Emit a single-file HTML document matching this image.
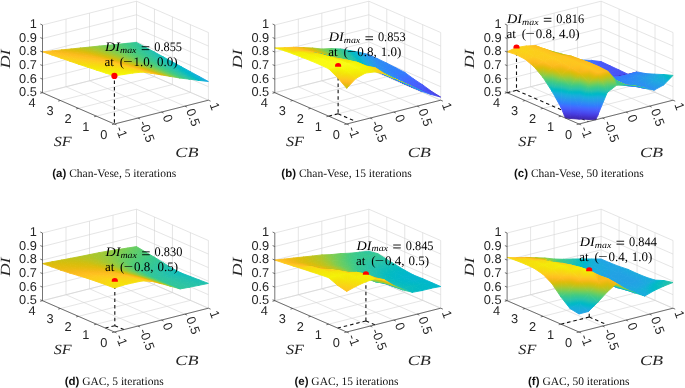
<!DOCTYPE html><html><head><meta charset="utf-8"><style>
body{margin:0;background:#fff}
svg{display:block;will-change:transform;text-rendering:geometricPrecision}
.tk{font-family:'Liberation Sans',sans-serif;font-size:12.8px;fill:#262626}
.lab{font-family:'Liberation Serif',serif;font-style:italic;font-size:14px;fill:#262626}
.an{font-family:'Liberation Serif',serif;font-size:13px;fill:#000}
.ai{font-style:italic}
.as{font-style:italic;font-size:9px}
.cap{font-family:'Liberation Serif',serif;font-size:11.5px;fill:#111}
.capb{font-family:'Liberation Sans',sans-serif;font-weight:bold}
path{stroke-width:0.9;stroke-linejoin:round}
</style></head><body><svg width="685" height="388" viewBox="0 0 685 388"><defs><linearGradient id="P" gradientUnits="userSpaceOnUse"><stop offset="0.0000" stop-color="#3e26a8"/><stop offset="0.0159" stop-color="#402ab4"/><stop offset="0.0317" stop-color="#422ec0"/><stop offset="0.0476" stop-color="#4332cb"/><stop offset="0.0635" stop-color="#4537d5"/><stop offset="0.0794" stop-color="#463cde"/><stop offset="0.0952" stop-color="#4741e5"/><stop offset="0.1111" stop-color="#4747eb"/><stop offset="0.1270" stop-color="#484df0"/><stop offset="0.1429" stop-color="#4852f4"/><stop offset="0.1587" stop-color="#4758f8"/><stop offset="0.1746" stop-color="#465efb"/><stop offset="0.1905" stop-color="#4563fd"/><stop offset="0.2063" stop-color="#4269fe"/><stop offset="0.2222" stop-color="#3e6fff"/><stop offset="0.2381" stop-color="#3875fe"/><stop offset="0.2540" stop-color="#327cfc"/><stop offset="0.2698" stop-color="#2f81fa"/><stop offset="0.2857" stop-color="#2e87f7"/><stop offset="0.3016" stop-color="#2d8cf3"/><stop offset="0.3175" stop-color="#2b91ef"/><stop offset="0.3333" stop-color="#2797eb"/><stop offset="0.3492" stop-color="#259be8"/><stop offset="0.3651" stop-color="#23a0e5"/><stop offset="0.3810" stop-color="#20a5e3"/><stop offset="0.3968" stop-color="#1ca9df"/><stop offset="0.4127" stop-color="#18addb"/><stop offset="0.4286" stop-color="#12b1d6"/><stop offset="0.4444" stop-color="#08b5d0"/><stop offset="0.4603" stop-color="#01b8ca"/><stop offset="0.4762" stop-color="#02bac3"/><stop offset="0.4921" stop-color="#0bbdbc"/><stop offset="0.5079" stop-color="#19bfb4"/><stop offset="0.5238" stop-color="#24c1ab"/><stop offset="0.5397" stop-color="#2cc4a3"/><stop offset="0.5556" stop-color="#31c699"/><stop offset="0.5714" stop-color="#37c890"/><stop offset="0.5873" stop-color="#3fca86"/><stop offset="0.6032" stop-color="#4acb7c"/><stop offset="0.6190" stop-color="#57cc71"/><stop offset="0.6349" stop-color="#64cd66"/><stop offset="0.6508" stop-color="#72cd5a"/><stop offset="0.6667" stop-color="#81cc4e"/><stop offset="0.6825" stop-color="#8fcb43"/><stop offset="0.6984" stop-color="#9dc937"/><stop offset="0.7143" stop-color="#abc72c"/><stop offset="0.7302" stop-color="#b9c421"/><stop offset="0.7460" stop-color="#c5c217"/><stop offset="0.7619" stop-color="#d1bf0f"/><stop offset="0.7778" stop-color="#dcbd0b"/><stop offset="0.7937" stop-color="#e6bb0e"/><stop offset="0.8095" stop-color="#f0ba14"/><stop offset="0.8254" stop-color="#f8ba1a"/><stop offset="0.8413" stop-color="#febe1f"/><stop offset="0.8571" stop-color="#fec31f"/><stop offset="0.8730" stop-color="#fdca1e"/><stop offset="0.8889" stop-color="#fbd019"/><stop offset="0.9048" stop-color="#f9d614"/><stop offset="0.9206" stop-color="#f6dc0e"/><stop offset="0.9365" stop-color="#f5e20a"/><stop offset="0.9524" stop-color="#f4e908"/><stop offset="0.9683" stop-color="#f4ef07"/><stop offset="0.9841" stop-color="#f5f505"/><stop offset="1.0000" stop-color="#f9fb15"/></linearGradient><linearGradient id="g0" href="#P" x1="248.47" y1="-50.27" x2="46.93" y2="115.54"/><linearGradient id="g1" href="#P" x1="246.50" y1="-25.37" x2="53.41" y2="102.98"/><linearGradient id="g2" href="#P" x1="206.75" y1="-58.09" x2="69.39" y2="113.34"/><linearGradient id="g3" href="#P" x1="214.00" y1="-37.21" x2="71.20" y2="105.25"/><linearGradient id="g4" href="#P" x1="221.43" y1="-29.76" x2="78.63" y2="112.69"/><linearGradient id="g5" href="#P" x1="224.66" y1="-12.47" x2="82.30" y2="105.30"/><linearGradient id="g6" href="#P" x1="171.56" y1="-54.10" x2="81.67" y2="103.81"/><linearGradient id="g7" href="#P" x1="183.08" y1="-39.00" x2="82.60" y2="99.88"/><linearGradient id="g8" href="#P" x1="192.29" y1="-32.33" x2="91.81" y2="106.54"/><linearGradient id="g9" href="#P" x1="200.02" y1="-18.15" x2="93.81" y2="102.43"/><linearGradient id="ga" href="#P" x1="208.31" y1="-10.84" x2="102.10" y2="109.74"/><linearGradient id="gb" href="#P" x1="140.63" y1="-42.51" x2="87.32" y2="91.68"/><linearGradient id="gc" href="#P" x1="213.34" y1="1.69" x2="105.06" y2="105.68"/><linearGradient id="gd" href="#P" x1="154.40" y1="-31.58" x2="88.50" y2="89.95"/><linearGradient id="ge" href="#P" x1="166.93" y1="-29.22" x2="97.76" y2="97.47"/><linearGradient id="gf" href="#P" x1="176.80" y1="-18.50" x2="99.83" y2="95.86"/><linearGradient id="g10" href="#P" x1="186.46" y1="-12.00" x2="109.49" y2="102.36"/><linearGradient id="g11" href="#P" x1="117.46" y1="-29.49" x2="86.28" y2="81.11"/><linearGradient id="g12" href="#P" x1="193.95" y1="-1.62" x2="112.00" y2="100.54"/><linearGradient id="g13" href="#P" x1="130.70" y1="-22.77" x2="88.79" y2="81.02"/><linearGradient id="g14" href="#P" x1="202.85" y1="5.53" x2="120.91" y2="107.69"/><linearGradient id="g15" href="#P" x1="142.17" y1="-18.71" x2="99.99" y2="85.80"/><linearGradient id="g16" href="#P" x1="208.50" y1="15.09" x2="123.87" y2="105.76"/><linearGradient id="g17" href="#P" x1="153.17" y1="-10.78" x2="102.65" y2="85.58"/><linearGradient id="g18" href="#P" x1="166.67" y1="-10.00" x2="111.64" y2="93.91"/><linearGradient id="g19" href="#P" x1="100.00" y1="-18.29" x2="81.19" y2="73.31"/><linearGradient id="g1a" href="#P" x1="175.41" y1="-1.82" x2="114.53" y2="93.66"/><linearGradient id="g1b" href="#P" x1="111.75" y1="-14.34" x2="85.00" y2="73.92"/><linearGradient id="g1c" href="#P" x1="185.39" y1="4.55" x2="124.52" y2="100.02"/><linearGradient id="g1d" href="#P" x1="123.33" y1="-9.96" x2="96.83" y2="77.17"/><linearGradient id="g1e" href="#P" x1="192.53" y1="12.64" x2="127.54" y2="99.63"/><linearGradient id="g1f" href="#P" x1="134.12" y1="-4.60" x2="100.46" y2="77.81"/><linearGradient id="g20" href="#P" x1="201.32" y1="19.81" x2="137.51" y2="106.43"/><linearGradient id="g21" href="#P" x1="85.74" y1="-9.14" x2="74.08" y2="67.77"/><linearGradient id="g22" href="#P" x1="145.72" y1="-0.70" x2="111.66" y2="82.77"/><linearGradient id="g23" href="#P" x1="207.28" y1="27.65" x2="140.63" y2="105.70"/><linearGradient id="g24" href="#P" x1="155.09" y1="5.49" x2="115.22" y2="83.43"/><linearGradient id="g25" href="#P" x1="96.18" y1="-6.76" x2="78.76" y2="68.55"/><linearGradient id="g26" href="#P" x1="168.99" y1="5.58" x2="124.20" y2="92.15"/><linearGradient id="g27" href="#P" x1="108.09" y1="-3.13" x2="90.80" y2="71.06"/><linearGradient id="g28" href="#P" x1="176.95" y1="12.18" x2="127.70" y2="92.75"/><linearGradient id="g29" href="#P" x1="118.15" y1="0.40" x2="95.30" y2="72.03"/><linearGradient id="g2a" href="#P" x1="186.19" y1="18.96" x2="138.76" y2="98.55"/><linearGradient id="g2b" href="#P" x1="76.75" y1="-10.65" x2="65.02" y2="66.44"/><linearGradient id="g2c" href="#P" x1="129.58" y1="5.39" x2="107.15" y2="75.31"/><linearGradient id="g2d" href="#P" x1="193.19" y1="25.61" x2="142.18" y2="98.97"/><linearGradient id="g2e" href="#P" x1="82.78" y1="-9.74" x2="71.12" y2="67.37"/><linearGradient id="g2f" href="#P" x1="138.87" y1="9.88" x2="111.47" y2="76.44"/><linearGradient id="g30" href="#P" x1="203.00" y1="32.44" x2="151.99" y2="105.79"/><linearGradient id="g31" href="#P" x1="208.97" y1="38.91" x2="155.45" y2="106.12"/><linearGradient id="g32" href="#P" x1="150.58" y1="13.74" x2="122.69" y2="81.51"/><linearGradient id="g33" href="#P" x1="94.82" y1="2.70" x2="83.31" y2="66.57"/><linearGradient id="g34" href="#P" x1="158.91" y1="18.84" x2="126.85" y2="82.73"/><linearGradient id="g35" href="#P" x1="104.16" y1="5.07" x2="88.41" y2="67.57"/><linearGradient id="g36" href="#P" x1="69.03" y1="-14.99" x2="55.68" y2="65.77"/><linearGradient id="g37" href="#P" x1="171.72" y1="19.59" x2="136.74" y2="90.94"/><linearGradient id="g38" href="#P" x1="115.92" y1="9.45" x2="100.44" y2="70.19"/><linearGradient id="g39" href="#P" x1="179.29" y1="25.09" x2="140.67" y2="92.06"/><linearGradient id="g3a" href="#P" x1="73.71" y1="-14.34" x2="62.07" y2="66.78"/><linearGradient id="g3b" href="#P" x1="124.87" y1="12.67" x2="105.37" y2="71.44"/><linearGradient id="g3c" href="#P" x1="189.84" y1="31.18" x2="151.22" y2="98.15"/><linearGradient id="g3d" href="#P" x1="85.97" y1="-9.41" x2="74.24" y2="67.88"/><linearGradient id="g3e" href="#P" x1="196.54" y1="36.79" x2="155.06" y2="99.25"/><linearGradient id="g3f" href="#P" x1="136.20" y1="18.03" x2="117.25" y2="74.81"/><linearGradient id="g40" href="#P" x1="144.54" y1="21.93" x2="122.01" y2="76.27"/><linearGradient id="g41" href="#P" x1="92.00" y1="-8.50" x2="80.35" y2="68.80"/><linearGradient id="g42" href="#P" x1="206.65" y1="43.51" x2="165.17" y2="105.96"/><linearGradient id="g43" href="#P" x1="212.57" y1="49.07" x2="168.96" y2="107.02"/><linearGradient id="g44" href="#P" x1="61.58" y1="-19.70" x2="46.41" y2="64.92"/><linearGradient id="g45" href="#P" x1="155.23" y1="26.95" x2="133.85" y2="80.76"/><linearGradient id="g46" href="#P" x1="103.50" y1="13.02" x2="92.64" y2="66.35"/><linearGradient id="g47" href="#P" x1="66.08" y1="-19.05" x2="52.76" y2="66.00"/><linearGradient id="g48" href="#P" x1="162.97" y1="31.21" x2="138.44" y2="82.32"/><linearGradient id="g49" href="#P" x1="112.04" y1="15.33" x2="98.01" y2="67.54"/><linearGradient id="g4a" href="#P" x1="176.92" y1="31.05" x2="147.88" y2="91.00"/><linearGradient id="g4b" href="#P" x1="78.25" y1="-17.15" x2="64.93" y2="67.91"/><linearGradient id="g4c" href="#P" x1="123.68" y1="20.24" x2="110.05" y2="70.30"/><linearGradient id="g4d" href="#P" x1="184.05" y1="35.82" x2="152.20" y2="92.54"/><linearGradient id="g4e" href="#P" x1="82.77" y1="-16.56" x2="71.32" y2="68.85"/><linearGradient id="g4f" href="#P" x1="131.87" y1="23.20" x2="115.27" y2="71.76"/><linearGradient id="g50" href="#P" x1="194.78" y1="41.85" x2="162.93" y2="98.57"/><linearGradient id="g51" href="#P" x1="201.25" y1="46.76" x2="167.11" y2="100.14"/><linearGradient id="g52" href="#P" x1="142.11" y1="30.23" x2="127.58" y2="74.62"/><linearGradient id="g53" href="#P" x1="95.19" y1="-8.18" x2="83.47" y2="69.31"/><linearGradient id="g54" href="#P" x1="149.84" y1="33.56" x2="132.68" y2="76.28"/><linearGradient id="g55" href="#P" x1="101.22" y1="-7.28" x2="89.57" y2="70.23"/><linearGradient id="g56" href="#P" x1="211.61" y1="53.39" x2="177.47" y2="106.77"/><linearGradient id="g57" href="#P" x1="217.49" y1="58.32" x2="181.56" y2="108.33"/><linearGradient id="g58" href="#P" x1="70.89" y1="-22.10" x2="55.65" y2="67.10"/><linearGradient id="g59" href="#P" x1="161.73" y1="37.36" x2="144.10" y2="81.30"/><linearGradient id="g5a" href="#P" x1="111.95" y1="22.18" x2="101.99" y2="66.85"/><linearGradient id="g5b" href="#P" x1="168.98" y1="41.14" x2="149.02" y2="83.14"/><linearGradient id="g5c" href="#P" x1="75.22" y1="-21.51" x2="62.00" y2="68.12"/><linearGradient id="g5d" href="#P" x1="119.92" y1="24.45" x2="107.55" y2="68.19"/><linearGradient id="g5e" href="#P" x1="182.91" y1="41.12" x2="158.61" y2="91.79"/><linearGradient id="g5f" href="#P" x1="87.40" y1="-19.72" x2="74.18" y2="69.92"/><linearGradient id="g60" href="#P" x1="189.73" y1="45.38" x2="163.22" y2="93.63"/><linearGradient id="g61" href="#P" x1="130.44" y1="31.45" x2="119.88" y2="70.55"/><linearGradient id="g62" href="#P" x1="91.75" y1="-19.19" x2="80.57" y2="70.80"/><linearGradient id="g63" href="#P" x1="138.09" y1="34.06" x2="125.35" y2="72.12"/><linearGradient id="g64" href="#P" x1="200.61" y1="51.36" x2="174.11" y2="99.61"/><linearGradient id="g65" href="#P" x1="206.92" y1="55.78" x2="178.58" y2="101.51"/><linearGradient id="g66" href="#P" x1="149.46" y1="39.60" x2="137.32" y2="75.57"/><linearGradient id="g67" href="#P" x1="104.41" y1="-6.96" x2="92.69" y2="70.73"/><linearGradient id="g68" href="#P" x1="156.72" y1="42.66" x2="142.65" y2="77.41"/><linearGradient id="g69" href="#P" x1="110.44" y1="-6.05" x2="98.79" y2="71.65"/><linearGradient id="g6a" href="#P" x1="168.67" y1="46.53" x2="154.13" y2="82.48"/><linearGradient id="g6b" href="#P" x1="80.13" y1="-24.94" x2="64.91" y2="69.15"/><linearGradient id="g6c" href="#P" x1="175.57" y1="49.98" x2="159.29" y2="84.52"/><linearGradient id="g6d" href="#P" x1="119.29" y1="32.53" x2="111.52" y2="67.41"/><linearGradient id="g6e" href="#P" x1="84.26" y1="-24.43" x2="71.25" y2="70.11"/><linearGradient id="g6f" href="#P" x1="126.81" y1="34.57" x2="117.24" y2="68.82"/><linearGradient id="g70" href="#P" x1="189.47" y1="50.16" x2="169.04" y2="93.11"/><linearGradient id="g71" href="#P" x1="196.06" y1="54.05" x2="173.88" y2="95.17"/><linearGradient id="g72" href="#P" x1="96.46" y1="-22.75" x2="83.45" y2="71.79"/><linearGradient id="g73" href="#P" x1="138.39" y1="39.83" x2="129.33" y2="71.76"/><linearGradient id="g74" href="#P" x1="100.60" y1="-22.28" x2="89.82" y2="72.60"/><linearGradient id="g75" href="#P" x1="145.63" y1="42.32" x2="134.94" y2="73.46"/><linearGradient id="g76" href="#P" x1="157.00" y1="47.98" x2="146.94" y2="77.05"/><linearGradient id="g77" href="#P" x1="111.40" y1="-0.22" x2="102.24" y2="71.22"/><linearGradient id="g78" href="#P" x1="163.93" y1="50.84" x2="152.44" y2="79.02"/><linearGradient id="g79" href="#P" x1="117.73" y1="0.61" x2="108.32" y2="72.01"/><linearGradient id="g7a" href="#P" x1="175.94" y1="54.79" x2="163.99" y2="84.14"/><linearGradient id="g7b" href="#P" x1="89.29" y1="-28.29" x2="74.17" y2="71.07"/><linearGradient id="g7c" href="#P" x1="182.60" y1="58.00" x2="169.33" y2="86.32"/><linearGradient id="g7d" href="#P" x1="127.66" y1="39.98" x2="120.80" y2="68.76"/><linearGradient id="g7e" href="#P" x1="93.19" y1="-27.84" x2="80.50" y2="71.96"/><linearGradient id="g7f" href="#P" x1="134.84" y1="42.00" x2="126.62" y2="70.28"/><linearGradient id="g80" href="#P" x1="102.08" y1="-17.48" x2="93.09" y2="72.38"/><linearGradient id="g81" href="#P" x1="146.37" y1="47.46" x2="138.71" y2="73.39"/><linearGradient id="g82" href="#P" x1="153.32" y1="49.86" x2="144.44" y2="75.20"/><linearGradient id="g83" href="#P" x1="106.78" y1="-17.04" x2="99.38" y2="72.95"/><linearGradient id="g84" href="#P" x1="164.70" y1="55.61" x2="156.47" y2="78.92"/><linearGradient id="g85" href="#P" x1="120.62" y1="1.54" x2="111.44" y2="72.35"/><linearGradient id="g86" href="#P" x1="171.39" y1="58.33" x2="162.10" y2="81.00"/><linearGradient id="g87" href="#P" x1="126.96" y1="2.38" x2="117.52" y2="73.15"/><linearGradient id="g88" href="#P" x1="94.04" y1="-21.60" x2="83.81" y2="71.78"/><linearGradient id="g89" href="#P" x1="135.97" y1="46.90" x2="130.04" y2="70.47"/><linearGradient id="g8a" href="#P" x1="98.61" y1="-21.14" x2="90.06" y2="72.40"/><linearGradient id="g8b" href="#P" x1="142.91" y1="48.89" x2="135.93" y2="72.08"/><linearGradient id="g8c" href="#P" x1="110.86" y1="-20.02" x2="102.31" y2="73.52"/><linearGradient id="g8d" href="#P" x1="154.40" y1="54.52" x2="148.03" y2="75.36"/><linearGradient id="g8e" href="#P" x1="161.12" y1="56.84" x2="153.85" y2="77.26"/><linearGradient id="g8f" href="#P" x1="115.43" y1="-19.62" x2="108.57" y2="74.04"/><linearGradient id="g90" href="#P" x1="129.85" y1="3.33" x2="120.63" y2="73.50"/><linearGradient id="g91" href="#P" x1="136.18" y1="4.18" x2="126.72" y2="74.31"/><linearGradient id="g92" href="#P" x1="102.85" y1="-24.34" x2="93.04" y2="72.94"/><linearGradient id="g93" href="#P" x1="144.27" y1="53.39" x2="139.24" y2="72.46"/><linearGradient id="g94" href="#P" x1="107.27" y1="-23.92" x2="99.26" y2="73.51"/><linearGradient id="g95" href="#P" x1="151.00" y1="55.36" x2="145.18" y2="74.16"/><linearGradient id="g96" href="#P" x1="119.53" y1="-22.92" x2="111.52" y2="74.52"/><linearGradient id="g97" href="#P" x1="123.95" y1="-22.55" x2="117.75" y2="74.97"/><linearGradient id="g98" href="#P" x1="139.07" y1="5.14" x2="129.83" y2="74.69"/><linearGradient id="g99" href="#P" x1="145.41" y1="5.99" x2="135.92" y2="75.51"/><linearGradient id="g9a" href="#P" x1="111.55" y1="-27.45" x2="102.25" y2="73.95"/><linearGradient id="g9b" href="#P" x1="115.81" y1="-27.07" x2="108.44" y2="74.45"/><linearGradient id="g9c" href="#P" x1="128.08" y1="-26.18" x2="120.71" y2="75.34"/><linearGradient id="g9d" href="#P" x1="132.33" y1="-25.85" x2="126.90" y2="75.73"/><linearGradient id="g9e" href="#P" x1="120.12" y1="-30.95" x2="111.44" y2="74.78"/><linearGradient id="g9f" href="#P" x1="124.20" y1="-30.61" x2="117.59" y2="75.23"/><linearGradient id="ga0" href="#P" x1="379.01" y1="41.90" x2="340.64" y2="79.32"/><linearGradient id="ga1" href="#P" x1="381.42" y1="39.47" x2="350.55" y2="95.61"/><linearGradient id="ga2" href="#P" x1="380.32" y1="32.86" x2="325.39" y2="79.01"/><linearGradient id="ga3" href="#P" x1="384.10" y1="37.37" x2="329.18" y2="83.52"/><linearGradient id="ga4" href="#P" x1="412.90" y1="42.57" x2="292.98" y2="98.43"/><linearGradient id="ga5" href="#P" x1="421.10" y1="8.16" x2="284.62" y2="190.10"/><linearGradient id="ga6" href="#P" x1="375.60" y1="27.24" x2="320.67" y2="73.40"/><linearGradient id="ga7" href="#P" x1="379.39" y1="31.75" x2="324.46" y2="77.91"/><linearGradient id="ga8" href="#P" x1="396.85" y1="43.65" x2="316.10" y2="83.61"/><linearGradient id="ga9" href="#P" x1="402.31" y1="42.42" x2="313.66" y2="97.99"/><linearGradient id="gaa" href="#P" x1="479.53" y1="71.92" x2="152.42" y2="50.48"/><linearGradient id="gab" href="#P" x1="571.52" y1="78.74" x2="-79.58" y2="36.05"/><linearGradient id="gac" href="#P" x1="393.49" y1="3.31" x2="299.36" y2="82.40"/><linearGradient id="gad" href="#P" x1="393.41" y1="21.28" x2="304.76" y2="76.85"/><linearGradient id="gae" href="#P" x1="382.24" y1="35.15" x2="327.32" y2="81.31"/><linearGradient id="gaf" href="#P" x1="385.03" y1="44.31" x2="331.80" y2="80.82"/><linearGradient id="gb0" href="#P" x1="404.75" y1="46.32" x2="316.09" y2="101.88"/><linearGradient id="gb1" href="#P" x1="409.65" y1="42.90" x2="315.52" y2="121.99"/><linearGradient id="gb2" href="#P" x1="454.76" y1="141.12" x2="224.03" y2="-119.94"/><linearGradient id="gb3" href="#P" x1="386.69" y1="-22.70" x2="296.10" y2="89.99"/><linearGradient id="gb4" href="#P" x1="428.57" y1="189.90" x2="313.57" y2="-264.28"/><linearGradient id="gb5" href="#P" x1="392.89" y1="2.60" x2="298.76" y2="81.69"/><linearGradient id="gb6" href="#P" x1="376.95" y1="23.07" x2="322.58" y2="81.49"/><linearGradient id="gb7" href="#P" x1="381.31" y1="34.05" x2="326.39" y2="80.20"/><linearGradient id="gb8" href="#P" x1="380.02" y1="48.22" x2="344.86" y2="83.56"/><linearGradient id="gb9" href="#P" x1="384.48" y1="52.66" x2="349.33" y2="88.00"/><linearGradient id="gba" href="#P" x1="398.81" y1="47.65" x2="349.27" y2="120.59"/><linearGradient id="gbb" href="#P" x1="329.90" y1="23.49" x2="313.99" y2="60.03"/><linearGradient id="gbc" href="#P" x1="404.92" y1="55.78" x2="350.56" y2="114.20"/><linearGradient id="gbd" href="#P" x1="337.87" y1="28.73" x2="318.63" y2="61.87"/><linearGradient id="gbe" href="#P" x1="412.56" y1="119.70" x2="366.67" y2="-61.55"/><linearGradient id="gbf" href="#P" x1="368.11" y1="9.28" x2="318.58" y2="82.22"/><linearGradient id="gc0" href="#P" x1="423.94" y1="112.13" x2="350.55" y2="-44.19"/><linearGradient id="gc1" href="#P" x1="375.74" y1="21.94" x2="321.37" y2="80.37"/><linearGradient id="gc2" href="#P" x1="373.15" y1="39.28" x2="339.50" y2="81.15"/><linearGradient id="gc3" href="#P" x1="378.58" y1="46.79" x2="343.42" y2="82.13"/><linearGradient id="gc4" href="#P" x1="378.63" y1="60.24" x2="366.36" y2="82.28"/><linearGradient id="gc5" href="#P" x1="318.11" y1="18.15" x2="306.62" y2="57.43"/><linearGradient id="gc6" href="#P" x1="384.29" y1="63.39" x2="372.03" y2="85.43"/><linearGradient id="gc7" href="#P" x1="327.38" y1="22.39" x2="311.48" y2="58.93"/><linearGradient id="gc8" href="#P" x1="401.09" y1="61.01" x2="370.88" y2="109.93"/><linearGradient id="gc9" href="#P" x1="341.09" y1="30.60" x2="321.85" y2="63.74"/><linearGradient id="gca" href="#P" x1="407.36" y1="68.72" x2="372.21" y2="104.06"/><linearGradient id="gcb" href="#P" x1="346.58" y1="33.79" x2="327.34" y2="66.93"/><linearGradient id="gcc" href="#P" x1="456.35" y1="133.79" x2="225.62" y2="-127.27"/><linearGradient id="gcd" href="#P" x1="364.35" y1="30.14" x2="334.15" y2="79.06"/><linearGradient id="gce" href="#P" x1="454.16" y1="108.95" x2="245.41" y2="-33.68"/><linearGradient id="gcf" href="#P" x1="371.47" y1="37.93" x2="337.82" y2="79.80"/><linearGradient id="gd0" href="#P" x1="309.36" y1="15.59" x2="297.87" y2="54.87"/><linearGradient id="gd1" href="#P" x1="365.71" y1="62.20" x2="362.94" y2="70.21"/><linearGradient id="gd2" href="#P" x1="315.33" y1="17.34" x2="303.83" y2="56.61"/><linearGradient id="gd3" href="#P" x1="372.30" y1="65.04" x2="368.33" y2="72.58"/><linearGradient id="gd4" href="#P" x1="385.19" y1="67.71" x2="378.81" y2="82.36"/><linearGradient id="gd5" href="#P" x1="324.41" y1="32.38" x2="316.45" y2="57.57"/><linearGradient id="gd6" href="#P" x1="391.46" y1="70.87" x2="384.00" y2="84.71"/><linearGradient id="gd7" href="#P" x1="333.59" y1="37.36" x2="321.33" y2="59.40"/><linearGradient id="gd8" href="#P" x1="406.87" y1="72.91" x2="385.37" y2="102.41"/><linearGradient id="gd9" href="#P" x1="412.08" y1="76.71" x2="390.58" y2="106.21"/><linearGradient id="gda" href="#P" x1="340.08" y1="47.39" x2="334.98" y2="62.70"/><linearGradient id="gdb" href="#P" x1="347.61" y1="50.97" x2="340.15" y2="64.81"/><linearGradient id="gdc" href="#P" x1="304.21" y1="-5.31" x2="288.53" y2="55.61"/><linearGradient id="gdd" href="#P" x1="455.54" y1="56.82" x2="243.81" y2="234.73"/><linearGradient id="gde" href="#P" x1="442.78" y1="84.67" x2="321.71" y2="115.21"/><linearGradient id="gdf" href="#P" x1="310.19" y1="-3.77" x2="294.51" y2="57.15"/><linearGradient id="ge0" href="#P" x1="356.16" y1="59.25" x2="354.07" y2="67.36"/><linearGradient id="ge1" href="#P" x1="362.63" y1="61.14" x2="359.86" y2="69.15"/><linearGradient id="ge2" href="#P" x1="310.53" y1="37.60" x2="308.43" y2="53.49"/><linearGradient id="ge3" href="#P" x1="372.90" y1="71.03" x2="373.64" y2="69.00"/><linearGradient id="ge4" href="#P" x1="379.04" y1="73.36" x2="379.81" y2="71.60"/><linearGradient id="ge5" href="#P" x1="319.17" y1="39.51" x2="314.07" y2="54.81"/><linearGradient id="ge6" href="#P" x1="392.99" y1="74.58" x2="389.59" y2="82.39"/><linearGradient id="ge7" href="#P" x1="399.31" y1="77.92" x2="394.86" y2="85.13"/><linearGradient id="ge8" href="#P" x1="327.61" y1="53.93" x2="326.98" y2="56.21"/><linearGradient id="ge9" href="#P" x1="287.77" y1="10.74" x2="280.44" y2="51.40"/><linearGradient id="gea" href="#P" x1="333.89" y1="55.77" x2="333.04" y2="58.17"/><linearGradient id="geb" href="#P" x1="411.65" y1="82.01" x2="405.28" y2="96.66"/><linearGradient id="gec" href="#P" x1="297.67" y1="13.45" x2="286.18" y2="52.73"/><linearGradient id="ged" href="#P" x1="417.77" y1="85.05" x2="410.31" y2="98.89"/><linearGradient id="gee" href="#P" x1="344.39" y1="65.91" x2="345.93" y2="59.53"/><linearGradient id="gef" href="#P" x1="430.78" y1="86.82" x2="414.87" y2="123.36"/><linearGradient id="gf0" href="#P" x1="350.36" y1="67.35" x2="352.20" y2="61.33"/><linearGradient id="gf1" href="#P" x1="300.25" y1="33.37" x2="299.23" y2="53.01"/><linearGradient id="gf2" href="#P" x1="437.04" y1="91.23" x2="414.91" y2="119.29"/><linearGradient id="gf3" href="#P" x1="364.28" y1="65.51" x2="363.65" y2="67.79"/><linearGradient id="gf4" href="#P" x1="307.51" y1="33.82" x2="305.25" y2="53.53"/><linearGradient id="gf5" href="#P" x1="370.52" y1="67.37" x2="369.67" y2="69.77"/><linearGradient id="gf6" href="#P" x1="381.87" y1="74.59" x2="382.63" y2="72.83"/><linearGradient id="gf7" href="#P" x1="318.08" y1="51.73" x2="317.66" y2="53.85"/><linearGradient id="gf8" href="#P" x1="388.03" y1="77.27" x2="388.80" y2="75.51"/><linearGradient id="gf9" href="#P" x1="324.39" y1="53.04" x2="323.76" y2="55.32"/><linearGradient id="gfa" href="#P" x1="400.36" y1="82.64" x2="401.13" y2="80.88"/><linearGradient id="gfb" href="#P" x1="406.53" y1="85.32" x2="407.30" y2="83.56"/><linearGradient id="gfc" href="#P" x1="334.82" y1="63.60" x2="336.36" y2="57.22"/><linearGradient id="gfd" href="#P" x1="300.85" y1="14.39" x2="289.36" y2="53.66"/><linearGradient id="gfe" href="#P" x1="419.88" y1="87.90" x2="416.48" y2="95.71"/><linearGradient id="gff" href="#P" x1="340.98" y1="65.09" x2="342.52" y2="58.71"/><linearGradient id="g100" href="#P" x1="425.88" y1="90.51" x2="422.48" y2="98.32"/><linearGradient id="g101" href="#P" x1="293.49" y1="14.02" x2="296.18" y2="54.39"/><linearGradient id="g102" href="#P" x1="352.64" y1="70.61" x2="355.08" y2="61.11"/><linearGradient id="g103" href="#P" x1="358.54" y1="72.08" x2="361.41" y2="63.01"/><linearGradient id="g104" href="#P" x1="317.30" y1="15.33" x2="307.83" y2="55.40"/><linearGradient id="g105" href="#P" x1="372.42" y1="71.24" x2="373.10" y2="68.93"/><linearGradient id="g106" href="#P" x1="315.01" y1="15.19" x2="314.40" y2="56.21"/><linearGradient id="g107" href="#P" x1="378.52" y1="73.13" x2="379.29" y2="71.37"/><linearGradient id="g108" href="#P" x1="390.85" y1="78.50" x2="391.62" y2="76.74"/><linearGradient id="g109" href="#P" x1="397.02" y1="81.18" x2="397.79" y2="79.42"/><linearGradient id="g10a" href="#P" x1="327.28" y1="53.84" x2="326.65" y2="56.12"/><linearGradient id="g10b" href="#P" x1="333.20" y1="55.45" x2="332.78" y2="57.56"/><linearGradient id="g10c" href="#P" x1="409.23" y1="86.82" x2="410.31" y2="84.24"/><linearGradient id="g10d" href="#P" x1="415.41" y1="89.44" x2="416.50" y2="86.93"/><linearGradient id="g10e" href="#P" x1="335.51" y1="-110.23" x2="298.02" y2="58.50"/><linearGradient id="g10f" href="#P" x1="343.74" y1="65.76" x2="345.28" y2="59.38"/><linearGradient id="g110" href="#P" x1="349.90" y1="67.24" x2="351.44" y2="60.86"/><linearGradient id="g111" href="#P" x1="296.09" y1="-113.48" x2="305.25" y2="59.10"/><linearGradient id="g112" href="#P" x1="361.21" y1="72.92" x2="364.08" y2="63.85"/><linearGradient id="g113" href="#P" x1="367.45" y1="74.90" x2="370.32" y2="65.82"/><linearGradient id="g114" href="#P" x1="336.31" y1="-39.55" x2="316.81" y2="58.50"/><linearGradient id="g115" href="#P" x1="380.46" y1="76.73" x2="382.55" y2="71.09"/><linearGradient id="g116" href="#P" x1="320.46" y1="-40.57" x2="323.50" y2="59.04"/><linearGradient id="g117" href="#P" x1="386.57" y1="78.99" x2="388.85" y2="73.74"/><linearGradient id="g118" href="#P" x1="399.84" y1="82.41" x2="400.61" y2="80.65"/><linearGradient id="g119" href="#P" x1="406.01" y1="85.08" x2="406.77" y2="83.26"/><linearGradient id="g11a" href="#P" x1="340.56" y1="43.88" x2="335.46" y2="59.18"/><linearGradient id="g11b" href="#P" x1="343.80" y1="44.73" x2="341.69" y2="60.62"/><linearGradient id="g11c" href="#P" x1="334.36" y1="-259.80" x2="307.59" y2="61.48"/><linearGradient id="g11d" href="#P" x1="352.66" y1="67.91" x2="354.20" y2="61.53"/><linearGradient id="g11e" href="#P" x1="269.97" y1="-250.50" x2="314.44" y2="61.20"/><linearGradient id="g11f" href="#P" x1="358.57" y1="69.28" x2="360.41" y2="63.25"/><linearGradient id="g120" href="#P" x1="369.77" y1="78.03" x2="373.05" y2="65.94"/><linearGradient id="g121" href="#P" x1="375.30" y1="79.31" x2="379.53" y2="68.18"/><linearGradient id="g122" href="#P" x1="386.05" y1="-198.14" x2="325.77" y2="61.44"/><linearGradient id="g123" href="#P" x1="390.33" y1="77.88" x2="391.09" y2="76.38"/><linearGradient id="g124" href="#P" x1="396.50" y1="80.96" x2="397.27" y2="79.19"/><linearGradient id="g125" href="#P" x1="315.84" y1="-204.41" x2="332.55" y2="62.01"/><linearGradient id="g126" href="#P" x1="362.31" y1="13.76" x2="344.26" y2="62.54"/><linearGradient id="g127" href="#P" x1="348.71" y1="10.96" x2="350.85" y2="63.62"/><linearGradient id="g128" href="#P" x1="364.07" y1="62.53" x2="362.99" y2="65.02"/><linearGradient id="g129" href="#P" x1="369.57" y1="64.80" x2="369.15" y2="66.92"/><linearGradient id="g12a" href="#P" x1="382.88" y1="69.70" x2="381.13" y2="72.26"/><linearGradient id="g12b" href="#P" x1="388.57" y1="73.32" x2="387.26" y2="75.86"/><linearGradient id="g12c" href="#P" x1="469.13" y1="-610.22" x2="335.14" y2="63.42"/><linearGradient id="g12d" href="#P" x1="320.42" y1="-624.60" x2="341.42" y2="63.94"/><linearGradient id="g12e" href="#P" x1="550.21" y1="-205.03" x2="351.96" y2="66.99"/><linearGradient id="g12f" href="#P" x1="506.83" y1="-272.28" x2="357.52" y2="70.69"/><linearGradient id="g130" href="#P" x1="414.89" y1="26.10" x2="369.28" y2="71.43"/><linearGradient id="g131" href="#P" x1="-260.01" y1="802.14" x2="332.56" y2="64.97"/><linearGradient id="g132" href="#P" x1="419.25" y1="33.80" x2="373.44" y2="75.54"/><linearGradient id="g133" href="#P" x1="454.07" y1="383.71" x2="343.63" y2="65.11"/><linearGradient id="g134" href="#P" x1="269.79" y1="414.60" x2="351.08" y2="64.58"/><linearGradient id="g135" href="#P" x1="639.10" y1="336.63" x2="357.30" y2="63.92"/><linearGradient id="g136" href="#P" x1="604.07" y1="217.35" x2="359.99" y2="64.92"/><linearGradient id="g137" href="#P" x1="353.93" y1="164.01" x2="334.08" y2="67.11"/><linearGradient id="g138" href="#P" x1="314.24" y1="161.95" x2="342.20" y2="67.50"/><linearGradient id="g139" href="#P" x1="369.48" y1="186.20" x2="352.59" y2="67.81"/><linearGradient id="g13a" href="#P" x1="334.52" y1="184.92" x2="360.48" y2="68.12"/><linearGradient id="g13b" href="#P" x1="342.54" y1="144.45" x2="344.03" y2="69.44"/><linearGradient id="g13c" href="#P" x1="336.27" y1="142.55" x2="351.84" y2="70.52"/><clipPath id="k1"><rect x="333.12" y="61.00" width="10" height="5.80"/></clipPath><linearGradient id="g13d" href="#P" x1="618.42" y1="56.74" x2="506.36" y2="91.01"/><linearGradient id="g13e" href="#P" x1="628.65" y1="28.45" x2="471.59" y2="259.73"/><linearGradient id="g13f" href="#P" x1="629.08" y1="65.10" x2="463.97" y2="54.28"/><linearGradient id="g140" href="#P" x1="628.96" y1="67.01" x2="463.85" y2="56.18"/><linearGradient id="g141" href="#P" x1="659.82" y1="37.62" x2="324.67" y2="230.79"/><linearGradient id="g142" href="#P" x1="667.49" y1="10.51" x2="300.60" y2="404.79"/><linearGradient id="g143" href="#P" x1="619.87" y1="64.56" x2="487.16" y2="55.86"/><linearGradient id="g144" href="#P" x1="628.94" y1="67.29" x2="463.83" y2="56.47"/><linearGradient id="g145" href="#P" x1="616.14" y1="52.88" x2="522.01" y2="131.97"/><linearGradient id="g146" href="#P" x1="619.42" y1="50.50" x2="528.83" y2="163.19"/><linearGradient id="g147" href="#P" x1="711.37" y1="78.89" x2="60.27" y2="36.20"/><linearGradient id="g148" href="#P" x1="615.65" y1="76.69" x2="492.62" y2="35.02"/><linearGradient id="g149" href="#P" x1="622.97" y1="82.81" x2="478.46" y2="24.85"/><linearGradient id="g14a" href="#P" x1="628.67" y1="71.39" x2="463.56" y2="60.57"/><linearGradient id="g14b" href="#P" x1="665.39" y1="75.26" x2="338.28" y2="53.82"/><linearGradient id="g14c" href="#P" x1="622.70" y1="53.14" x2="532.12" y2="165.84"/><linearGradient id="g14d" href="#P" x1="627.12" y1="56.69" x2="536.53" y2="169.38"/><linearGradient id="g14e" href="#P" x1="576.16" y1="38.92" x2="542.51" y2="80.79"/><linearGradient id="g14f" href="#P" x1="580.36" y1="53.19" x2="546.76" y2="74.25"/><linearGradient id="g150" href="#P" x1="624.68" y1="74.55" x2="625.31" y2="77.57"/><linearGradient id="g151" href="#P" x1="628.65" y1="71.68" x2="463.54" y2="60.86"/><linearGradient id="g152" href="#P" x1="628.52" y1="73.59" x2="463.42" y2="62.76"/><linearGradient id="g153" href="#P" x1="630.75" y1="73.09" x2="631.53" y2="75.70"/><linearGradient id="g154" href="#P" x1="611.36" y1="41.01" x2="545.43" y2="192.46"/><linearGradient id="g155" href="#P" x1="621.58" y1="52.24" x2="530.99" y2="164.93"/><linearGradient id="g156" href="#P" x1="615.39" y1="75.16" x2="615.41" y2="82.87"/><linearGradient id="g157" href="#P" x1="547.80" y1="64.78" x2="552.51" y2="46.49"/><linearGradient id="g158" href="#P" x1="552.43" y1="65.28" x2="560.27" y2="50.38"/><linearGradient id="g159" href="#P" x1="621.17" y1="74.65" x2="622.79" y2="81.03"/><linearGradient id="g15a" href="#P" x1="571.11" y1="61.84" x2="566.66" y2="69.05"/><linearGradient id="g15b" href="#P" x1="577.21" y1="66.26" x2="572.02" y2="72.72"/><linearGradient id="g15c" href="#P" x1="594.03" y1="59.35" x2="569.79" y2="115.04"/><linearGradient id="g15d" href="#P" x1="599.70" y1="61.82" x2="575.46" y2="117.51"/><linearGradient id="g15e" href="#P" x1="626.62" y1="54.80" x2="652.41" y2="124.78"/><linearGradient id="g15f" href="#P" x1="607.38" y1="68.59" x2="601.15" y2="109.46"/><linearGradient id="g160" href="#P" x1="634.23" y1="51.41" x2="653.38" y2="127.03"/><linearGradient id="g161" href="#P" x1="609.94" y1="69.14" x2="619.33" y2="106.23"/><linearGradient id="g162" href="#P" x1="538.87" y1="55.20" x2="542.11" y2="46.58"/><linearGradient id="g163" href="#P" x1="546.07" y1="57.95" x2="548.03" y2="48.08"/><linearGradient id="g164" href="#P" x1="613.64" y1="34.78" x2="654.13" y2="194.69"/><linearGradient id="g165" href="#P" x1="576.79" y1="73.42" x2="580.34" y2="65.27"/><linearGradient id="g166" href="#P" x1="560.26" y1="72.23" x2="570.26" y2="52.53"/><linearGradient id="g167" href="#P" x1="554.50" y1="70.64" x2="562.52" y2="48.57"/><linearGradient id="g168" href="#P" x1="583.12" y1="76.18" x2="586.67" y2="68.03"/><linearGradient id="g169" href="#P" x1="607.81" y1="51.11" x2="687.70" y2="141.50"/><linearGradient id="g16a" href="#P" x1="598.02" y1="70.41" x2="592.83" y2="96.51"/><linearGradient id="g16b" href="#P" x1="604.10" y1="71.62" x2="598.91" y2="97.72"/><linearGradient id="g16c" href="#P" x1="635.18" y1="45.83" x2="658.39" y2="137.51"/><linearGradient id="g16d" href="#P" x1="565.08" y1="-28.76" x2="526.94" y2="58.85"/><linearGradient id="g16e" href="#P" x1="604.24" y1="37.16" x2="644.73" y2="197.07"/><linearGradient id="g16f" href="#P" x1="634.03" y1="51.91" x2="676.57" y2="118.59"/><linearGradient id="g170" href="#P" x1="554.87" y1="-35.91" x2="535.37" y2="62.14"/><linearGradient id="g171" href="#P" x1="609.99" y1="35.71" x2="650.48" y2="195.62"/><linearGradient id="g172" href="#P" x1="553.19" y1="44.81" x2="549.79" y2="52.62"/><linearGradient id="g173" href="#P" x1="558.19" y1="46.66" x2="556.10" y2="54.77"/><linearGradient id="g174" href="#P" x1="568.76" y1="78.90" x2="579.53" y2="54.15"/><linearGradient id="g175" href="#P" x1="585.32" y1="79.26" x2="589.92" y2="65.46"/><linearGradient id="g176" href="#P" x1="536.13" y1="72.92" x2="857.01" y2="93.95"/><linearGradient id="g177" href="#P" x1="562.58" y1="77.07" x2="571.77" y2="50.75"/><linearGradient id="g178" href="#P" x1="591.67" y1="81.37" x2="596.26" y2="67.58"/><linearGradient id="g179" href="#P" x1="569.94" y1="74.11" x2="782.83" y2="88.07"/><linearGradient id="g17a" href="#P" x1="682.13" y1="-226.32" x2="503.14" y2="81.93"/><linearGradient id="g17b" href="#P" x1="607.15" y1="72.23" x2="601.96" y2="98.33"/><linearGradient id="g17c" href="#P" x1="660.96" y1="-254.53" x2="511.65" y2="88.44"/><linearGradient id="g17d" href="#P" x1="613.23" y1="73.44" x2="608.04" y2="99.54"/><linearGradient id="g17e" href="#P" x1="597.16" y1="30.98" x2="741.66" y2="153.47"/><linearGradient id="g17f" href="#P" x1="598.46" y1="-81.11" x2="532.53" y2="70.35"/><linearGradient id="g180" href="#P" x1="612.08" y1="35.18" x2="652.57" y2="195.09"/><linearGradient id="g181" href="#P" x1="603.96" y1="-78.71" x2="538.03" y2="72.74"/><linearGradient id="g182" href="#P" x1="615.82" y1="56.78" x2="718.16" y2="104.00"/><linearGradient id="g183" href="#P" x1="617.83" y1="33.72" x2="658.31" y2="193.63"/><linearGradient id="g184" href="#P" x1="323.29" y1="194.85" x2="539.20" y2="31.66"/><linearGradient id="g185" href="#P" x1="563.63" y1="41.72" x2="558.53" y2="57.03"/><linearGradient id="g186" href="#P" x1="410.62" y1="395.11" x2="532.65" y2="9.23"/><linearGradient id="g187" href="#P" x1="567.25" y1="42.65" x2="565.14" y2="58.54"/><linearGradient id="g188" href="#P" x1="578.03" y1="83.45" x2="588.06" y2="57.06"/><linearGradient id="g189" href="#P" x1="618.50" y1="136.88" x2="691.52" y2="-30.87"/><linearGradient id="g18a" href="#P" x1="594.18" y1="82.21" x2="598.77" y2="68.41"/><linearGradient id="g18b" href="#P" x1="570.45" y1="80.26" x2="581.00" y2="54.39"/><linearGradient id="g18c" href="#P" x1="600.52" y1="84.32" x2="605.12" y2="70.53"/><linearGradient id="g18d" href="#P" x1="1108.11" y1="90.34" x2="457.01" y2="47.65"/><linearGradient id="g18e" href="#P" x1="612.31" y1="111.63" x2="714.18" y2="26.03"/><linearGradient id="g18f" href="#P" x1="616.29" y1="74.05" x2="611.10" y2="100.15"/><linearGradient id="g190" href="#P" x1="622.37" y1="75.26" x2="617.18" y2="101.36"/><linearGradient id="g191" href="#P" x1="607.44" y1="-77.20" x2="541.51" y2="74.26"/><linearGradient id="g192" href="#P" x1="651.20" y1="127.74" x2="674.63" y2="9.94"/><linearGradient id="g193" href="#P" x1="625.37" y1="54.50" x2="648.58" y2="146.18"/><linearGradient id="g194" href="#P" x1="568.69" y1="-95.14" x2="554.20" y2="78.70"/><linearGradient id="g195" href="#P" x1="638.57" y1="106.43" x2="701.75" y2="43.72"/><linearGradient id="g196" href="#P" x1="502.51" y1="291.61" x2="524.89" y2="23.11"/><linearGradient id="g197" href="#P" x1="651.54" y1="56.34" x2="613.40" y2="143.96"/><linearGradient id="g198" href="#P" x1="588.94" y1="10.21" x2="564.70" y2="65.91"/><linearGradient id="g199" href="#P" x1="508.64" y1="292.12" x2="531.02" y2="23.62"/><linearGradient id="g19a" href="#P" x1="587.59" y1="7.83" x2="571.91" y2="68.76"/><linearGradient id="g19b" href="#P" x1="586.95" y1="86.51" x2="596.71" y2="60.69"/><linearGradient id="g19c" href="#P" x1="635.92" y1="120.73" x2="681.16" y2="16.83"/><linearGradient id="g19d" href="#P" x1="579.43" y1="83.35" x2="589.71" y2="58.06"/><linearGradient id="g19e" href="#P" x1="603.03" y1="85.16" x2="607.63" y2="71.36"/><linearGradient id="g19f" href="#P" x1="609.38" y1="87.27" x2="613.98" y2="73.48"/><linearGradient id="g1a0" href="#P" x1="641.33" y1="454.75" x2="526.34" y2="0.56"/><linearGradient id="g1a1" href="#P" x1="649.04" y1="127.31" x2="672.47" y2="9.51"/><linearGradient id="g1a2" href="#P" x1="385.39" y1="428.04" x2="569.58" y2="4.93"/><linearGradient id="g1a3" href="#P" x1="623.80" y1="81.86" x2="623.14" y2="89.82"/><linearGradient id="g1a4" href="#P" x1="630.18" y1="82.59" x2="628.81" y2="90.68"/><linearGradient id="g1a5" href="#P" x1="1126.24" y1="95.85" x2="475.14" y2="53.17"/><linearGradient id="g1a6" href="#P" x1="642.72" y1="77.64" x2="640.52" y2="104.03"/><linearGradient id="g1a7" href="#P" x1="545.58" y1="156.84" x2="528.58" y2="43.19"/><linearGradient id="g1a8" href="#P" x1="651.60" y1="80.10" x2="641.25" y2="103.87"/><linearGradient id="g1a9" href="#P" x1="508.02" y1="151.83" x2="542.68" y2="44.71"/><linearGradient id="g1aa" href="#P" x1="609.89" y1="-13.57" x2="571.74" y2="74.04"/><linearGradient id="g1ab" href="#P" x1="599.95" y1="-20.57" x2="580.44" y2="77.48"/><linearGradient id="g1ac" href="#P" x1="596.14" y1="89.19" x2="605.28" y2="64.67"/><linearGradient id="g1ad" href="#P" x1="588.33" y1="85.57" x2="598.53" y2="62.16"/><linearGradient id="g1ae" href="#P" x1="611.89" y1="88.11" x2="616.49" y2="74.31"/><linearGradient id="g1af" href="#P" x1="561.24" y1="195.93" x2="547.65" y2="39.33"/><linearGradient id="g1b0" href="#P" x1="618.73" y1="90.33" x2="622.15" y2="75.59"/><linearGradient id="g1b1" href="#P" x1="522.57" y1="191.06" x2="561.25" y2="40.74"/><linearGradient id="g1b2" href="#P" x1="632.43" y1="87.33" x2="632.69" y2="84.23"/><linearGradient id="g1b3" href="#P" x1="667.08" y1="454.42" x2="552.08" y2="0.24"/><linearGradient id="g1b4" href="#P" x1="638.43" y1="88.05" x2="639.01" y2="85.46"/><linearGradient id="g1b5" href="#P" x1="541.46" y1="126.67" x2="539.81" y2="50.69"/><linearGradient id="g1b6" href="#P" x1="415.38" y1="428.15" x2="599.57" y2="5.04"/><linearGradient id="g1b7" href="#P" x1="530.00" y1="123.13" x2="550.97" y2="52.77"/><linearGradient id="g1b8" href="#P" x1="642.87" y1="-65.01" x2="576.94" y2="86.44"/><linearGradient id="g1b9" href="#P" x1="648.38" y1="-62.61" x2="582.44" y2="88.84"/><linearGradient id="g1ba" href="#P" x1="560.97" y1="146.18" x2="558.02" y2="49.49"/><linearGradient id="g1bb" href="#P" x1="605.72" y1="91.19" x2="613.74" y2="69.13"/><linearGradient id="g1bc" href="#P" x1="597.73" y1="87.09" x2="607.30" y2="66.78"/><linearGradient id="g1bd" href="#P" x1="622.74" y1="84.79" x2="623.51" y2="83.03"/><linearGradient id="g1be" href="#P" x1="539.35" y1="139.23" x2="570.31" y2="52.21"/><linearGradient id="g1bf" href="#P" x1="629.14" y1="87.05" x2="629.40" y2="83.96"/><linearGradient id="g1c0" href="#P" x1="546.72" y1="119.19" x2="550.58" y2="55.30"/><linearGradient id="g1c1" href="#P" x1="588.42" y1="199.83" x2="574.83" y2="43.23"/><linearGradient id="g1c2" href="#P" x1="544.26" y1="117.46" x2="560.81" y2="57.68"/><linearGradient id="g1c3" href="#P" x1="532.98" y1="183.25" x2="592.11" y2="47.42"/><linearGradient id="g1c4" href="#P" x1="775.81" y1="-82.70" x2="564.08" y2="95.21"/><linearGradient id="g1c5" href="#P" x1="566.82" y1="126.34" x2="567.86" y2="56.52"/><linearGradient id="g1c6" href="#P" x1="778.93" y1="-78.99" x2="567.20" y2="98.92"/><linearGradient id="g1c7" href="#P" x1="640.09" y1="37.33" x2="605.43" y2="116.97"/><linearGradient id="g1c8" href="#P" x1="631.98" y1="75.30" x2="604.70" y2="81.15"/><linearGradient id="g1c9" href="#P" x1="558.22" y1="122.65" x2="579.04" y2="59.19"/><linearGradient id="g1ca" href="#P" x1="555.25" y1="117.65" x2="561.67" y2="59.26"/><linearGradient id="g1cb" href="#P" x1="558.20" y1="117.69" x2="570.46" y2="61.17"/><linearGradient id="g1cc" href="#P" x1="589.02" y1="138.48" x2="585.12" y2="57.04"/><linearGradient id="g1cd" href="#P" x1="570.13" y1="132.04" x2="597.56" y2="59.88"/><linearGradient id="g1ce" href="#P" x1="576.56" y1="119.39" x2="576.55" y2="61.88"/><linearGradient id="g1cf" href="#P" x1="618.34" y1="123.46" x2="599.14" y2="62.08"/><linearGradient id="g1d0" href="#P" x1="611.99" y1="126.97" x2="609.65" y2="59.30"/><linearGradient id="g1d1" href="#P" x1="574.07" y1="117.85" x2="589.62" y2="64.71"/><linearGradient id="g1d2" href="#P" x1="566.30" y1="118.14" x2="570.93" y2="62.61"/><linearGradient id="g1d3" href="#P" x1="572.58" y1="118.63" x2="576.50" y2="63.00"/><linearGradient id="g1d4" href="#P" x1="598.08" y1="119.90" x2="592.26" y2="64.71"/><linearGradient id="g1d5" href="#P" x1="597.83" y1="119.95" x2="604.54" y2="64.83"/><linearGradient id="g1d6" href="#P" x1="584.78" y1="119.21" x2="589.24" y2="65.73"/><linearGradient id="g1d7" href="#P" x1="591.47" y1="119.60" x2="592.88" y2="65.81"/><linearGradient id="g1d8" href="#P" x1="577.07" y1="118.97" x2="581.72" y2="63.13"/><linearGradient id="g1d9" href="#P" x1="581.61" y1="119.05" x2="578.93" y2="63.03"/><clipPath id="k2"><rect x="511.50" y="42.53" width="10" height="6.00"/></clipPath><linearGradient id="g1da" href="#P" x1="297.97" y1="386.59" x2="39.97" y2="171.67"/><linearGradient id="g1db" href="#P" x1="299.55" y1="383.21" x2="42.00" y2="170.09"/><linearGradient id="g1dc" href="#P" x1="295.09" y1="392.05" x2="34.52" y2="177.21"/><linearGradient id="g1dd" href="#P" x1="296.62" y1="388.64" x2="36.52" y2="175.62"/><linearGradient id="g1de" href="#P" x1="300.27" y1="384.19" x2="40.17" y2="171.16"/><linearGradient id="g1df" href="#P" x1="301.79" y1="380.89" x2="42.17" y2="169.66"/><linearGradient id="g1e0" href="#P" x1="298.85" y1="397.11" x2="26.11" y2="182.99"/><linearGradient id="g1e1" href="#P" x1="298.69" y1="389.34" x2="28.69" y2="183.62"/><linearGradient id="g1e2" href="#P" x1="297.41" y1="389.62" x2="34.71" y2="176.71"/><linearGradient id="g1e3" href="#P" x1="298.88" y1="386.29" x2="36.69" y2="175.19"/><linearGradient id="g1e4" href="#P" x1="283.00" y1="381.61" x2="54.18" y2="170.76"/><linearGradient id="g1e5" href="#P" x1="487.50" y1="383.49" x2="-61.86" y2="197.14"/><linearGradient id="g1e6" href="#P" x1="284.11" y1="373.44" x2="56.99" y2="172.94"/><linearGradient id="g1e7" href="#P" x1="332.03" y1="302.79" x2="7.91" y2="232.61"/><linearGradient id="g1e8" href="#P" x1="305.78" y1="389.45" x2="23.50" y2="185.47"/><linearGradient id="g1e9" href="#P" x1="305.04" y1="382.14" x2="26.19" y2="186.44"/><linearGradient id="g1ea" href="#P" x1="287.18" y1="387.55" x2="43.00" y2="176.03"/><linearGradient id="g1eb" href="#P" x1="498.38" y1="-139.67" x2="-67.23" y2="415.12"/><linearGradient id="g1ec" href="#P" x1="287.60" y1="378.80" x2="45.95" y2="178.38"/><linearGradient id="g1ed" href="#P" x1="371.90" y1="165.59" x2="-12.42" y2="294.67"/><linearGradient id="g1ee" href="#P" x1="289.21" y1="374.42" x2="51.30" y2="173.90"/><linearGradient id="g1ef" href="#P" x1="306.45" y1="153.65" x2="21.24" y2="309.32"/><linearGradient id="g1f0" href="#P" x1="288.88" y1="364.32" x2="54.92" y2="178.68"/><linearGradient id="g1f1" href="#P" x1="262.82" y1="212.81" x2="45.24" y2="284.93"/><linearGradient id="g1f2" href="#P" x1="307.56" y1="382.80" x2="23.10" y2="188.29"/><linearGradient id="g1f3" href="#P" x1="116.36" y1="34.40" x2="74.87" y2="341.04"/><linearGradient id="g1f4" href="#P" x1="303.52" y1="370.26" x2="27.78" y2="193.29"/><linearGradient id="g1f5" href="#P" x1="196.83" y1="89.11" x2="52.00" y2="323.00"/><linearGradient id="g1f6" href="#P" x1="297.93" y1="379.05" x2="36.59" y2="180.17"/><linearGradient id="g1f7" href="#P" x1="200.13" y1="103.19" x2="64.33" y2="325.72"/><linearGradient id="g1f8" href="#P" x1="296.07" y1="368.03" x2="40.81" y2="185.34"/><linearGradient id="g1f9" href="#P" x1="219.24" y1="165.46" x2="61.98" y2="303.73"/><linearGradient id="g1fa" href="#P" x1="362.15" y1="179.85" x2="-12.96" y2="356.88"/><linearGradient id="g1fb" href="#P" x1="83.23" y1="122.86" x2="74.58" y2="306.50"/><linearGradient id="g1fc" href="#P" x1="203.02" y1="181.94" x2="80.56" y2="306.94"/><linearGradient id="g1fd" href="#P" x1="365.79" y1="180.15" x2="-13.41" y2="363.02"/><linearGradient id="g1fe" href="#P" x1="203.76" y1="213.79" x2="85.32" y2="295.44"/><linearGradient id="g1ff" href="#P" x1="114.27" y1="128.78" x2="71.88" y2="305.59"/><linearGradient id="g200" href="#P" x1="325.54" y1="362.69" x2="10.83" y2="201.55"/><linearGradient id="g201" href="#P" x1="124.68" y1="145.31" x2="84.30" y2="303.62"/><linearGradient id="g202" href="#P" x1="315.96" y1="349.61" x2="19.01" y2="208.84"/><linearGradient id="g203" href="#P" x1="153.61" y1="165.77" x2="81.11" y2="298.93"/><linearGradient id="g204" href="#P" x1="364.86" y1="181.90" x2="-17.61" y2="350.43"/><linearGradient id="g205" href="#P" x1="73.69" y1="132.84" x2="65.38" y2="302.38"/><linearGradient id="g206" href="#P" x1="155.14" y1="180.73" x2="95.39" y2="300.53"/><linearGradient id="g207" href="#P" x1="368.64" y1="182.07" x2="-18.29" y2="356.30"/><linearGradient id="g208" href="#P" x1="82.52" y1="133.30" x2="70.63" y2="302.72"/><linearGradient id="g209" href="#P" x1="170.60" y1="202.52" x2="95.53" y2="295.25"/><linearGradient id="g20a" href="#P" x1="201.74" y1="189.10" x2="155.22" y2="359.00"/><linearGradient id="g20b" href="#P" x1="170.17" y1="216.41" x2="109.82" y2="298.78"/><linearGradient id="g20c" href="#P" x1="98.76" y1="162.43" x2="81.57" y2="294.85"/><linearGradient id="g20d" href="#P" x1="177.35" y1="231.77" x2="112.52" y2="295.52"/><linearGradient id="g20e" href="#P" x1="200.55" y1="187.71" x2="168.23" y2="363.07"/><linearGradient id="g20f" href="#P" x1="118.62" y1="168.17" x2="82.99" y2="294.58"/><linearGradient id="g210" href="#P" x1="64.20" y1="133.05" x2="56.15" y2="301.71"/><linearGradient id="g211" href="#P" x1="323.46" y1="171.11" x2="14.23" y2="354.08"/><linearGradient id="g212" href="#P" x1="122.41" y1="197.82" x2="97.61" y2="288.70"/><linearGradient id="g213" href="#P" x1="324.73" y1="176.35" x2="16.95" y2="356.22"/><linearGradient id="g214" href="#P" x1="70.70" y1="133.36" x2="62.18" y2="302.01"/><linearGradient id="g215" href="#P" x1="138.48" y1="207.32" x2="99.48" y2="288.11"/><linearGradient id="g216" href="#P" x1="204.86" y1="174.65" x2="136.39" y2="368.09"/><linearGradient id="g217" href="#P" x1="83.97" y1="138.39" x2="74.15" y2="301.38"/><linearGradient id="g218" href="#P" x1="144.56" y1="219.38" x2="112.64" y2="290.38"/><linearGradient id="g219" href="#P" x1="201.46" y1="171.30" x2="150.58" y2="374.48"/><linearGradient id="g21a" href="#P" x1="92.68" y1="138.97" x2="79.51" y2="301.77"/><linearGradient id="g21b" href="#P" x1="155.52" y1="229.51" x2="115.32" y2="289.93"/><linearGradient id="g21c" href="#P" x1="58.71" y1="120.53" x2="45.76" y2="304.88"/><linearGradient id="g21d" href="#P" x1="153.53" y1="246.37" x2="133.18" y2="289.86"/><linearGradient id="g21e" href="#P" x1="214.64" y1="172.59" x2="161.18" y2="379.10"/><linearGradient id="g21f" href="#P" x1="57.64" y1="120.75" x2="53.94" y2="305.17"/><linearGradient id="g220" href="#P" x1="104.94" y1="197.34" x2="91.72" y2="286.09"/><linearGradient id="g221" href="#P" x1="161.17" y1="251.75" x2="137.31" y2="291.21"/><linearGradient id="g222" href="#P" x1="209.01" y1="169.99" x2="178.26" y2="383.93"/><linearGradient id="g223" href="#P" x1="119.05" y1="201.31" x2="95.23" y2="286.55"/><linearGradient id="g224" href="#P" x1="203.81" y1="177.20" x2="122.95" y2="360.46"/><linearGradient id="g225" href="#P" x1="73.48" y1="134.19" x2="65.22" y2="301.96"/><linearGradient id="g226" href="#P" x1="202.60" y1="173.97" x2="134.19" y2="367.21"/><linearGradient id="g227" href="#P" x1="124.92" y1="226.98" x2="109.08" y2="282.54"/><linearGradient id="g228" href="#P" x1="79.99" y1="134.51" x2="71.25" y2="302.27"/><linearGradient id="g229" href="#P" x1="135.84" y1="232.44" x2="113.04" y2="283.45"/><linearGradient id="g22a" href="#P" x1="224.76" y1="151.27" x2="136.20" y2="394.46"/><linearGradient id="g22b" href="#P" x1="88.35" y1="164.08" x2="84.60" y2="294.76"/><linearGradient id="g22c" href="#P" x1="140.00" y1="247.77" x2="127.72" y2="283.48"/><linearGradient id="g22d" href="#P" x1="214.57" y1="144.37" x2="156.31" y2="403.84"/><linearGradient id="g22e" href="#P" x1="148.00" y1="251.66" x2="132.49" y2="285.08"/><linearGradient id="g22f" href="#P" x1="98.24" y1="164.39" x2="89.72" y2="295.05"/><linearGradient id="g230" href="#P" x1="64.39" y1="106.34" x2="55.85" y2="309.19"/><linearGradient id="g231" href="#P" x1="155.00" y1="263.44" x2="146.80" y2="285.94"/><linearGradient id="g232" href="#P" x1="226.52" y1="147.06" x2="168.26" y2="406.52"/><linearGradient id="g233" href="#P" x1="61.84" y1="106.87" x2="64.24" y2="309.17"/><linearGradient id="g234" href="#P" x1="161.66" y1="266.29" x2="152.18" y2="287.98"/><linearGradient id="g235" href="#P" x1="111.89" y1="220.53" x2="101.55" y2="281.75"/><linearGradient id="g236" href="#P" x1="214.43" y1="143.73" x2="191.04" y2="411.40"/><linearGradient id="g237" href="#P" x1="122.76" y1="223.51" x2="106.20" y2="282.64"/><linearGradient id="g238" href="#P" x1="227.51" y1="159.61" x2="119.95" y2="381.79"/><linearGradient id="g239" href="#P" x1="76.21" y1="162.27" x2="75.95" y2="295.03"/><linearGradient id="g23a" href="#P" x1="222.06" y1="152.27" x2="134.52" y2="392.14"/><linearGradient id="g23b" href="#P" x1="127.73" y1="249.60" x2="120.34" y2="278.78"/><linearGradient id="g23c" href="#P" x1="84.65" y1="162.20" x2="81.51" y2="295.14"/><linearGradient id="g23d" href="#P" x1="135.57" y1="252.24" x2="125.68" y2="280.30"/><linearGradient id="g23e" href="#P" x1="245.34" y1="115.12" x2="135.62" y2="431.53"/><linearGradient id="g23f" href="#P" x1="144.48" y1="262.76" x2="138.84" y2="281.54"/><linearGradient id="g240" href="#P" x1="96.25" y1="183.60" x2="93.95" y2="290.30"/><linearGradient id="g241" href="#P" x1="224.20" y1="104.21" x2="165.24" y2="443.97"/><linearGradient id="g242" href="#P" x1="151.23" y1="265.10" x2="144.48" y2="283.39"/><linearGradient id="g243" href="#P" x1="105.92" y1="183.82" x2="99.24" y2="290.56"/><linearGradient id="g244" href="#P" x1="60.11" y1="137.99" x2="68.12" y2="301.39"/><linearGradient id="g245" href="#P" x1="163.07" y1="270.14" x2="156.42" y2="287.55"/><linearGradient id="g246" href="#P" x1="169.51" y1="272.91" x2="161.99" y2="289.78"/><linearGradient id="g247" href="#P" x1="63.22" y1="138.24" x2="74.90" y2="300.88"/><linearGradient id="g248" href="#P" x1="117.89" y1="240.37" x2="111.53" y2="278.98"/><linearGradient id="g249" href="#P" x1="125.93" y1="242.06" x2="117.11" y2="280.06"/><linearGradient id="g24a" href="#P" x1="251.21" y1="136.17" x2="116.85" y2="408.24"/><linearGradient id="g24b" href="#P" x1="83.80" y1="181.70" x2="85.25" y2="290.65"/><linearGradient id="g24c" href="#P" x1="240.45" y1="124.19" x2="135.78" y2="422.37"/><linearGradient id="g24d" href="#P" x1="134.32" y1="261.73" x2="130.23" y2="278.37"/><linearGradient id="g24e" href="#P" x1="92.47" y1="181.47" x2="90.84" y2="290.70"/><linearGradient id="g24f" href="#P" x1="141.06" y1="263.60" x2="136.06" y2="279.97"/><linearGradient id="g250" href="#P" x1="152.82" y1="268.94" x2="148.21" y2="283.19"/><linearGradient id="g251" href="#P" x1="104.65" y1="201.56" x2="103.12" y2="286.79"/><linearGradient id="g252" href="#P" x1="159.34" y1="271.29" x2="153.98" y2="285.22"/><linearGradient id="g253" href="#P" x1="111.16" y1="201.66" x2="109.18" y2="286.92"/><linearGradient id="g254" href="#P" x1="64.95" y1="157.82" x2="77.73" y2="296.41"/><linearGradient id="g255" href="#P" x1="170.96" y1="276.79" x2="166.11" y2="289.35"/><linearGradient id="g256" href="#P" x1="177.29" y1="279.46" x2="171.84" y2="291.70"/><linearGradient id="g257" href="#P" x1="69.99" y1="157.52" x2="83.98" y2="295.77"/><linearGradient id="g258" href="#P" x1="126.05" y1="249.88" x2="120.89" y2="279.02"/><linearGradient id="g259" href="#P" x1="132.88" y1="251.22" x2="126.81" y2="280.16"/><linearGradient id="g25a" href="#P" x1="93.31" y1="192.83" x2="94.10" y2="288.50"/><linearGradient id="g25b" href="#P" x1="142.98" y1="267.03" x2="139.42" y2="280.10"/><linearGradient id="g25c" href="#P" x1="98.92" y1="192.82" x2="100.31" y2="288.42"/><linearGradient id="g25d" href="#P" x1="149.52" y1="268.98" x2="145.32" y2="281.86"/><linearGradient id="g25e" href="#P" x1="160.86" y1="275.35" x2="157.65" y2="285.03"/><linearGradient id="g25f" href="#P" x1="114.47" y1="199.80" x2="112.02" y2="287.35"/><linearGradient id="g260" href="#P" x1="167.23" y1="277.64" x2="163.53" y2="287.15"/><linearGradient id="g261" href="#P" x1="117.49" y1="200.12" x2="118.65" y2="287.35"/><linearGradient id="g262" href="#P" x1="72.60" y1="155.06" x2="86.56" y2="295.90"/><linearGradient id="g263" href="#P" x1="72.70" y1="156.37" x2="93.52" y2="294.82"/><linearGradient id="g264" href="#P" x1="135.63" y1="252.67" x2="129.95" y2="280.64"/><linearGradient id="g265" href="#P" x1="142.35" y1="254.16" x2="135.90" y2="281.93"/><linearGradient id="g266" href="#P" x1="104.44" y1="177.49" x2="102.76" y2="290.81"/><linearGradient id="g267" href="#P" x1="151.23" y1="272.95" x2="148.66" y2="281.97"/><linearGradient id="g268" href="#P" x1="104.39" y1="178.17" x2="109.74" y2="290.60"/><linearGradient id="g269" href="#P" x1="157.63" y1="274.89" x2="154.64" y2="283.83"/><linearGradient id="g26a" href="#P" x1="123.47" y1="182.64" x2="121.08" y2="289.84"/><linearGradient id="g26b" href="#P" x1="124.51" y1="183.14" x2="127.85" y2="289.75"/><linearGradient id="g26c" href="#P" x1="72.96" y1="81.95" x2="96.32" y2="305.07"/><linearGradient id="g26d" href="#P" x1="49.90" y1="94.75" x2="105.97" y2="302.17"/><linearGradient id="g26e" href="#P" x1="144.43" y1="257.27" x2="139.13" y2="282.24"/><linearGradient id="g26f" href="#P" x1="151.07" y1="258.79" x2="145.11" y2="283.59"/><linearGradient id="g270" href="#P" x1="105.54" y1="217.00" x2="112.62" y2="285.58"/><linearGradient id="g271" href="#P" x1="125.66" y1="215.73" x2="117.33" y2="285.76"/><linearGradient id="g272" href="#P" x1="129.02" y1="170.90" x2="130.47" y2="291.02"/><linearGradient id="g273" href="#P" x1="128.84" y1="171.75" x2="137.17" y2="290.67"/><linearGradient id="g274" href="#P" x1="4.23" y1="-66.00" x2="113.44" y2="320.26"/><linearGradient id="g275" href="#P" x1="-49.95" y1="177.71" x2="123.54" y2="291.35"/><linearGradient id="g276" href="#P" x1="186.66" y1="142.77" x2="115.78" y2="292.96"/><linearGradient id="g277" href="#P" x1="102.39" y1="125.12" x2="129.06" y2="295.33"/><linearGradient id="g278" href="#P" x1="-127.68" y1="488.66" x2="131.39" y2="267.66"/><linearGradient id="g279" href="#P" x1="-32.41" y1="697.38" x2="128.57" y2="254.70"/><clipPath id="k3"><rect x="109.81" y="276.03" width="10" height="5.60"/></clipPath><linearGradient id="g27a" href="#P" x1="402.37" y1="168.54" x2="336.43" y2="320.00"/><linearGradient id="g27b" href="#P" x1="349.04" y1="164.33" x2="389.52" y2="324.24"/><linearGradient id="g27c" href="#P" x1="545.08" y1="267.03" x2="217.98" y2="245.58"/><linearGradient id="g27d" href="#P" x1="404.88" y1="377.09" x2="350.35" y2="161.72"/><linearGradient id="g27e" href="#P" x1="410.39" y1="375.69" x2="355.86" y2="160.32"/><linearGradient id="g27f" href="#P" x1="480.56" y1="264.21" x2="261.45" y2="249.85"/><linearGradient id="g280" href="#P" x1="544.91" y1="269.67" x2="217.80" y2="248.23"/><linearGradient id="g281" href="#P" x1="400.41" y1="398.85" x2="337.24" y2="149.36"/><linearGradient id="g282" href="#P" x1="419.50" y1="386.26" x2="331.34" y2="156.51"/><linearGradient id="g283" href="#P" x1="414.12" y1="383.56" x2="355.66" y2="152.68"/><linearGradient id="g284" href="#P" x1="549.51" y1="269.92" x2="222.41" y2="248.48"/><linearGradient id="g285" href="#P" x1="430.42" y1="373.41" x2="350.66" y2="158.97"/><linearGradient id="g286" href="#P" x1="480.40" y1="266.63" x2="261.29" y2="252.27"/><linearGradient id="g287" href="#P" x1="544.67" y1="273.32" x2="217.56" y2="251.88"/><linearGradient id="g288" href="#P" x1="544.60" y1="274.33" x2="217.50" y2="252.88"/><linearGradient id="g289" href="#P" x1="433.50" y1="407.60" x2="321.09" y2="137.38"/><linearGradient id="g28a" href="#P" x1="451.83" y1="195.29" x2="271.36" y2="284.58"/><linearGradient id="g28b" href="#P" x1="445.06" y1="396.59" x2="319.45" y2="143.38"/><linearGradient id="g28c" href="#P" x1="453.68" y1="199.04" x2="273.22" y2="288.33"/><linearGradient id="g28d" href="#P" x1="435.65" y1="380.68" x2="347.49" y2="150.92"/><linearGradient id="g28e" href="#P" x1="457.40" y1="206.55" x2="276.93" y2="295.83"/><linearGradient id="g28f" href="#P" x1="435.15" y1="383.90" x2="358.61" y2="143.77"/><linearGradient id="g290" href="#P" x1="459.25" y1="210.30" x2="278.79" y2="299.59"/><linearGradient id="g291" href="#P" x1="544.37" y1="277.98" x2="217.26" y2="256.53"/><linearGradient id="g292" href="#P" x1="544.30" y1="278.98" x2="217.19" y2="257.54"/><linearGradient id="g293" href="#P" x1="471.91" y1="128.28" x2="260.18" y2="306.19"/><linearGradient id="g294" href="#P" x1="451.97" y1="195.59" x2="271.51" y2="284.87"/><linearGradient id="g295" href="#P" x1="456.01" y1="407.68" x2="309.90" y2="132.05"/><linearGradient id="g296" href="#P" x1="455.69" y1="203.09" x2="275.22" y2="292.38"/><linearGradient id="g297" href="#P" x1="469.15" y1="384.03" x2="304.30" y2="151.55"/><linearGradient id="g298" href="#P" x1="457.54" y1="206.84" x2="277.08" y2="296.13"/><linearGradient id="g299" href="#P" x1="497.76" y1="504.82" x2="289.84" y2="5.01"/><linearGradient id="g29a" href="#P" x1="482.91" y1="275.36" x2="263.80" y2="261.00"/><linearGradient id="g29b" href="#P" x1="544.19" y1="280.62" x2="217.09" y2="259.18"/><linearGradient id="g29c" href="#P" x1="468.53" y1="124.25" x2="256.80" y2="302.16"/><linearGradient id="g29d" href="#P" x1="522.14" y1="473.28" x2="271.22" y2="37.11"/><linearGradient id="g29e" href="#P" x1="471.65" y1="127.97" x2="259.92" y2="305.88"/><linearGradient id="g29f" href="#P" x1="544.06" y1="282.63" x2="216.95" y2="261.19"/><linearGradient id="g2a0" href="#P" x1="543.99" y1="283.64" x2="216.89" y2="262.20"/><linearGradient id="g2a1" href="#P" x1="391.42" y1="182.48" x2="300.84" y2="295.17"/><linearGradient id="g2a2" href="#P" x1="397.82" y1="209.69" x2="303.70" y2="288.78"/><linearGradient id="g2a3" href="#P" x1="700.37" y1="295.46" x2="49.26" y2="252.78"/><linearGradient id="g2a4" href="#P" x1="403.38" y1="195.40" x2="312.79" y2="308.09"/><linearGradient id="g2a5" href="#P" x1="700.33" y1="296.02" x2="49.23" y2="253.34"/><linearGradient id="g2a6" href="#P" x1="465.14" y1="120.22" x2="253.41" y2="298.13"/><linearGradient id="g2a7" href="#P" x1="405.76" y1="235.08" x2="317.11" y2="290.65"/><linearGradient id="g2a8" href="#P" x1="468.27" y1="123.94" x2="256.53" y2="301.85"/><linearGradient id="g2a9" href="#P" x1="481.59" y1="173.71" x2="269.85" y2="351.62"/><linearGradient id="g2aa" href="#P" x1="466.97" y1="225.91" x2="286.51" y2="315.19"/><linearGradient id="g2ab" href="#P" x1="367.13" y1="149.97" x2="301.20" y2="301.42"/><linearGradient id="g2ac" href="#P" x1="390.30" y1="181.57" x2="299.71" y2="294.26"/><linearGradient id="g2ad" href="#P" x1="487.94" y1="188.06" x2="276.21" y2="365.97"/><linearGradient id="g2ae" href="#P" x1="491.06" y1="191.77" x2="279.33" y2="369.68"/><linearGradient id="g2af" href="#P" x1="353.26" y1="228.07" x2="329.02" y2="283.76"/><linearGradient id="g2b0" href="#P" x1="344.02" y1="136.67" x2="278.09" y2="288.13"/><linearGradient id="g2b1" href="#P" x1="362.80" y1="235.55" x2="332.59" y2="284.47"/><linearGradient id="g2b2" href="#P" x1="368.94" y1="171.03" x2="278.36" y2="283.72"/><linearGradient id="g2b3" href="#P" x1="470.35" y1="120.47" x2="321.04" y2="463.45"/><linearGradient id="g2b4" href="#P" x1="373.34" y1="242.06" x2="343.14" y2="290.98"/><linearGradient id="g2b5" href="#P" x1="475.77" y1="122.83" x2="326.46" y2="465.81"/><linearGradient id="g2b6" href="#P" x1="378.61" y1="245.31" x2="348.41" y2="294.23"/><linearGradient id="g2b7" href="#P" x1="323.86" y1="187.22" x2="304.36" y2="285.27"/><linearGradient id="g2b8" href="#P" x1="344.10" y1="197.11" x2="305.96" y2="284.73"/><linearGradient id="g2b9" href="#P" x1="421.75" y1="216.79" x2="331.16" y2="329.48"/><linearGradient id="g2ba" href="#P" x1="377.06" y1="113.92" x2="469.37" y2="478.53"/><linearGradient id="g2bb" href="#P" x1="426.16" y1="220.33" x2="335.57" y2="333.03"/><linearGradient id="g2bc" href="#P" x1="291.00" y1="190.94" x2="279.14" y2="273.10"/><linearGradient id="g2bd" href="#P" x1="338.76" y1="221.18" x2="323.08" y2="282.10"/><linearGradient id="g2be" href="#P" x1="494.16" y1="124.36" x2="344.85" y2="467.34"/><linearGradient id="g2bf" href="#P" x1="350.91" y1="227.04" x2="326.67" y2="282.74"/><linearGradient id="g2c0" href="#P" x1="313.60" y1="200.71" x2="282.00" y2="273.31"/><linearGradient id="g2c1" href="#P" x1="423.82" y1="207.01" x2="357.89" y2="358.46"/><linearGradient id="g2c2" href="#P" x1="429.33" y1="209.40" x2="363.39" y2="360.86"/><linearGradient id="g2c3" href="#P" x1="356.41" y1="245.62" x2="340.51" y2="282.16"/><linearGradient id="g2c4" href="#P" x1="304.42" y1="230.22" x2="298.19" y2="271.10"/><linearGradient id="g2c5" href="#P" x1="364.28" y1="250.76" x2="345.04" y2="283.90"/><linearGradient id="g2c6" href="#P" x1="314.75" y1="232.87" x2="303.26" y2="272.14"/><linearGradient id="g2c7" href="#P" x1="416.85" y1="201.82" x2="402.36" y2="375.66"/><linearGradient id="g2c8" href="#P" x1="373.44" y1="254.33" x2="357.54" y2="290.87"/><linearGradient id="g2c9" href="#P" x1="381.03" y1="259.18" x2="361.79" y2="292.32"/><linearGradient id="g2ca" href="#P" x1="422.97" y1="202.33" x2="408.49" y2="376.17"/><linearGradient id="g2cb" href="#P" x1="322.63" y1="234.27" x2="316.40" y2="275.14"/><linearGradient id="g2cc" href="#P" x1="332.81" y1="236.87" x2="321.32" y2="276.14"/><linearGradient id="g2cd" href="#P" x1="390.58" y1="248.91" x2="374.90" y2="309.83"/><linearGradient id="g2ce" href="#P" x1="497.72" y1="125.92" x2="348.42" y2="468.89"/><linearGradient id="g2cf" href="#P" x1="400.91" y1="253.66" x2="376.66" y2="309.36"/><linearGradient id="g2d0" href="#P" x1="297.18" y1="229.07" x2="288.77" y2="269.47"/><linearGradient id="g2d1" href="#P" x1="340.02" y1="249.93" x2="334.83" y2="276.03"/><linearGradient id="g2d2" href="#P" x1="503.14" y1="128.28" x2="353.84" y2="471.25"/><linearGradient id="g2d3" href="#P" x1="349.86" y1="253.56" x2="339.52" y2="277.33"/><linearGradient id="g2d4" href="#P" x1="301.39" y1="229.76" x2="295.15" y2="270.63"/><linearGradient id="g2d5" href="#P" x1="432.81" y1="210.92" x2="366.88" y2="362.37"/><linearGradient id="g2d6" href="#P" x1="413.78" y1="201.56" x2="399.29" y2="375.40"/><linearGradient id="g2d7" href="#P" x1="355.92" y1="268.79" x2="353.83" y2="276.90"/><linearGradient id="g2d8" href="#P" x1="308.87" y1="259.25" x2="308.21" y2="267.21"/><linearGradient id="g2d9" href="#P" x1="362.86" y1="271.08" x2="359.46" y2="278.89"/><linearGradient id="g2da" href="#P" x1="316.19" y1="260.16" x2="314.11" y2="268.27"/><linearGradient id="g2db" href="#P" x1="727.33" y1="307.20" x2="76.23" y2="264.52"/><linearGradient id="g2dc" href="#P" x1="375.93" y1="271.01" x2="370.83" y2="286.32"/><linearGradient id="g2dd" href="#P" x1="381.94" y1="273.01" x2="376.84" y2="288.32"/><linearGradient id="g2de" href="#P" x1="327.24" y1="262.36" x2="326.57" y2="270.32"/><linearGradient id="g2df" href="#P" x1="334.52" y1="263.28" x2="332.43" y2="271.39"/><linearGradient id="g2e0" href="#P" x1="397.46" y1="263.48" x2="385.97" y2="302.75"/><linearGradient id="g2e1" href="#P" x1="405.67" y1="267.06" x2="389.76" y2="303.60"/><linearGradient id="g2e2" href="#P" x1="306.97" y1="223.96" x2="297.89" y2="272.08"/><linearGradient id="g2e3" href="#P" x1="344.74" y1="274.50" x2="345.17" y2="271.65"/><linearGradient id="g2e4" href="#P" x1="727.18" y1="309.51" x2="76.07" y2="266.83"/><linearGradient id="g2e5" href="#P" x1="350.69" y1="275.45" x2="351.37" y2="273.13"/><linearGradient id="g2e6" href="#P" x1="298.14" y1="225.64" x2="305.86" y2="271.94"/><linearGradient id="g2e7" href="#P" x1="727.14" y1="310.07" x2="76.04" y2="267.39"/><linearGradient id="g2e8" href="#P" x1="362.37" y1="281.74" x2="363.91" y2="275.36"/><linearGradient id="g2e9" href="#P" x1="368.17" y1="283.11" x2="370.26" y2="277.47"/><linearGradient id="g2ea" href="#P" x1="319.15" y1="260.92" x2="317.06" y2="269.03"/><linearGradient id="g2eb" href="#P" x1="324.01" y1="262.09" x2="323.34" y2="270.05"/><linearGradient id="g2ec" href="#P" x1="381.58" y1="284.57" x2="382.02" y2="281.72"/><linearGradient id="g2ed" href="#P" x1="387.53" y1="285.65" x2="388.28" y2="283.61"/><linearGradient id="g2ee" href="#P" x1="335.30" y1="273.06" x2="335.74" y2="270.21"/><linearGradient id="g2ef" href="#P" x1="404.62" y1="274.31" x2="396.65" y2="299.49"/><linearGradient id="g2f0" href="#P" x1="341.43" y1="274.00" x2="341.87" y2="271.15"/><linearGradient id="g2f1" href="#P" x1="412.76" y1="278.53" x2="400.50" y2="300.57"/><linearGradient id="g2f2" href="#P" x1="299.45" y1="110.02" x2="308.61" y2="282.60"/><linearGradient id="g2f3" href="#P" x1="352.34" y1="286.50" x2="354.39" y2="271.03"/><linearGradient id="g2f4" href="#P" x1="356.89" y1="286.81" x2="360.93" y2="272.52"/><linearGradient id="g2f5" href="#P" x1="276.45" y1="120.83" x2="316.93" y2="280.74"/><linearGradient id="g2f6" href="#P" x1="369.88" y1="291.99" x2="373.28" y2="274.92"/><linearGradient id="g2f7" href="#P" x1="375.60" y1="293.06" x2="379.69" y2="276.42"/><linearGradient id="g2f8" href="#P" x1="336.89" y1="234.21" x2="325.40" y2="273.49"/><linearGradient id="g2f9" href="#P" x1="328.00" y1="234.37" x2="332.77" y2="274.03"/><linearGradient id="g2fa" href="#P" x1="389.62" y1="289.10" x2="391.46" y2="283.08"/><linearGradient id="g2fb" href="#P" x1="395.67" y1="290.95" x2="397.75" y2="285.31"/><linearGradient id="g2fc" href="#P" x1="346.58" y1="264.78" x2="344.50" y2="272.89"/><linearGradient id="g2fd" href="#P" x1="350.21" y1="266.00" x2="350.85" y2="273.34"/><linearGradient id="g2fe" href="#P" x1="257.68" y1="38.06" x2="320.38" y2="285.70"/><linearGradient id="g2ff" href="#P" x1="359.42" y1="287.53" x2="363.46" y2="273.23"/><linearGradient id="g300" href="#P" x1="307.15" y1="19.36" x2="323.86" y2="285.77"/><linearGradient id="g301" href="#P" x1="366.78" y1="289.72" x2="369.54" y2="274.58"/><linearGradient id="g302" href="#P" x1="378.15" y1="291.90" x2="382.19" y2="277.61"/><linearGradient id="g303" href="#P" x1="335.78" y1="155.71" x2="335.24" y2="278.48"/><linearGradient id="g304" href="#P" x1="384.02" y1="293.45" x2="388.62" y2="279.66"/><linearGradient id="g305" href="#P" x1="329.88" y1="157.68" x2="341.88" y2="278.09"/><linearGradient id="g306" href="#P" x1="416.71" y1="129.48" x2="350.78" y2="280.94"/><linearGradient id="g307" href="#P" x1="291.03" y1="155.12" x2="362.56" y2="279.45"/><linearGradient id="g308" href="#P" x1="307.02" y1="57.80" x2="326.63" y2="283.73"/><linearGradient id="g309" href="#P" x1="375.74" y1="269.97" x2="371.78" y2="277.51"/><linearGradient id="g30a" href="#P" x1="280.32" y1="71.12" x2="333.77" y2="282.20"/><linearGradient id="g30b" href="#P" x1="379.41" y1="271.54" x2="378.04" y2="279.64"/><linearGradient id="g30c" href="#P" x1="438.28" y1="486.41" x2="340.26" y2="267.68"/><linearGradient id="g30d" href="#P" x1="253.96" y1="498.73" x2="354.77" y2="267.14"/><linearGradient id="g30e" href="#P" x1="341.03" y1="537.15" x2="363.40" y2="268.65"/><linearGradient id="g30f" href="#P" x1="347.16" y1="537.66" x2="369.53" y2="269.16"/><linearGradient id="g310" href="#P" x1="363.15" y1="391.26" x2="333.30" y2="273.37"/><linearGradient id="g311" href="#P" x1="328.27" y1="398.36" x2="341.86" y2="272.50"/><linearGradient id="g312" href="#P" x1="340.90" y1="429.58" x2="354.06" y2="271.67"/><linearGradient id="g313" href="#P" x1="322.92" y1="423.46" x2="361.61" y2="273.14"/><linearGradient id="g314" href="#P" x1="334.81" y1="394.28" x2="344.90" y2="273.22"/><linearGradient id="g315" href="#P" x1="328.89" y1="392.20" x2="352.32" y2="274.41"/><clipPath id="k4"><rect x="360.91" y="269.23" width="10" height="5.40"/></clipPath><linearGradient id="g316" href="#P" x1="646.03" y1="226.07" x2="525.41" y2="312.83"/><linearGradient id="g317" href="#P" x1="637.16" y1="185.81" x2="550.38" y2="385.14"/><linearGradient id="g318" href="#P" x1="669.58" y1="266.37" x2="486.47" y2="254.36"/><linearGradient id="g319" href="#P" x1="730.85" y1="271.76" x2="403.75" y2="250.31"/><linearGradient id="g31a" href="#P" x1="735.99" y1="190.88" x2="400.84" y2="384.06"/><linearGradient id="g31b" href="#P" x1="551.50" y1="23.37" x2="712.92" y2="660.91"/><linearGradient id="g31c" href="#P" x1="665.98" y1="288.00" x2="488.72" y2="233.31"/><linearGradient id="g31d" href="#P" x1="674.53" y1="293.53" x2="479.13" y2="227.35"/><linearGradient id="g31e" href="#P" x1="730.61" y1="275.41" x2="403.51" y2="253.96"/><linearGradient id="g31f" href="#P" x1="859.42" y1="284.64" x2="208.32" y2="241.96"/><linearGradient id="g320" href="#P" x1="659.36" y1="441.60" x2="544.37" y2="-12.58"/><linearGradient id="g321" href="#P" x1="662.26" y1="307.79" x2="489.13" y2="221.15"/><linearGradient id="g322" href="#P" x1="527.15" y1="332.41" x2="773.07" y2="169.84"/><linearGradient id="g323" href="#P" x1="662.65" y1="307.00" x2="489.52" y2="220.37"/><linearGradient id="g324" href="#P" x1="684.50" y1="273.80" x2="465.39" y2="259.44"/><linearGradient id="g325" href="#P" x1="730.44" y1="278.05" x2="403.33" y2="256.61"/><linearGradient id="g326" href="#P" x1="694.89" y1="371.84" x2="464.16" y2="110.78"/><linearGradient id="g327" href="#P" x1="655.55" y1="442.57" x2="540.55" y2="-11.62"/><linearGradient id="g328" href="#P" x1="657.17" y1="267.68" x2="492.06" y2="256.86"/><linearGradient id="g329" href="#P" x1="657.04" y1="269.59" x2="491.93" y2="258.77"/><linearGradient id="g32a" href="#P" x1="666.63" y1="224.06" x2="486.16" y2="313.34"/><linearGradient id="g32b" href="#P" x1="591.70" y1="349.40" x2="678.62" y2="149.73"/><linearGradient id="g32c" href="#P" x1="652.04" y1="246.58" x2="505.51" y2="296.41"/><linearGradient id="g32d" href="#P" x1="600.44" y1="354.56" x2="678.37" y2="147.04"/><linearGradient id="g32e" href="#P" x1="730.20" y1="281.70" x2="403.09" y2="260.26"/><linearGradient id="g32f" href="#P" x1="730.14" y1="282.71" x2="403.03" y2="261.26"/><linearGradient id="g330" href="#P" x1="570.99" y1="227.21" x2="540.79" y2="276.13"/><linearGradient id="g331" href="#P" x1="579.04" y1="243.86" x2="543.71" y2="273.55"/><linearGradient id="g332" href="#P" x1="620.02" y1="224.80" x2="525.90" y2="303.90"/><linearGradient id="g333" href="#P" x1="623.48" y1="228.92" x2="529.35" y2="308.01"/><linearGradient id="g334" href="#P" x1="630.39" y1="237.14" x2="536.26" y2="316.23"/><linearGradient id="g335" href="#P" x1="598.37" y1="358.67" x2="691.61" y2="144.50"/><linearGradient id="g336" href="#P" x1="633.84" y1="241.25" x2="539.72" y2="320.35"/><linearGradient id="g337" href="#P" x1="599.87" y1="357.23" x2="702.25" y2="152.89"/><linearGradient id="g338" href="#P" x1="687.20" y1="209.78" x2="475.46" y2="387.69"/><linearGradient id="g339" href="#P" x1="543.01" y1="246.52" x2="540.90" y2="262.42"/><linearGradient id="g33a" href="#P" x1="552.96" y1="250.03" x2="545.50" y2="263.87"/><linearGradient id="g33b" href="#P" x1="667.97" y1="150.68" x2="518.66" y2="493.66"/><linearGradient id="g33c" href="#P" x1="562.01" y1="259.88" x2="558.61" y2="267.69"/><linearGradient id="g33d" href="#P" x1="568.60" y1="263.38" x2="564.15" y2="270.59"/><linearGradient id="g33e" href="#P" x1="590.83" y1="243.31" x2="566.59" y2="299.00"/><linearGradient id="g33f" href="#P" x1="600.91" y1="253.56" x2="567.25" y2="295.43"/><linearGradient id="g340" href="#P" x1="617.93" y1="246.71" x2="568.40" y2="319.64"/><linearGradient id="g341" href="#P" x1="533.73" y1="245.29" x2="531.62" y2="261.19"/><linearGradient id="g342" href="#P" x1="622.89" y1="250.07" x2="573.36" y2="323.01"/><linearGradient id="g343" href="#P" x1="530.52" y1="302.73" x2="818.22" y2="246.41"/><linearGradient id="g344" href="#P" x1="539.85" y1="246.11" x2="537.74" y2="262.00"/><linearGradient id="g345" href="#P" x1="508.88" y1="315.69" x2="851.14" y2="229.34"/><linearGradient id="g346" href="#P" x1="671.53" y1="152.23" x2="522.23" y2="495.21"/><linearGradient id="g347" href="#P" x1="549.90" y1="263.20" x2="550.57" y2="260.89"/><linearGradient id="g348" href="#P" x1="555.99" y1="265.03" x2="556.75" y2="263.26"/><linearGradient id="g349" href="#P" x1="676.96" y1="154.59" x2="527.65" y2="497.57"/><linearGradient id="g34a" href="#P" x1="566.96" y1="274.67" x2="569.83" y2="265.59"/><linearGradient id="g34b" href="#P" x1="572.82" y1="276.45" x2="576.36" y2="268.31"/><linearGradient id="g34c" href="#P" x1="598.84" y1="147.52" x2="691.15" y2="512.13"/><linearGradient id="g34d" href="#P" x1="523.09" y1="244.49" x2="522.55" y2="260.24"/><linearGradient id="g34e" href="#P" x1="592.48" y1="264.52" x2="582.13" y2="288.29"/><linearGradient id="g34f" href="#P" x1="599.18" y1="268.23" x2="586.92" y2="290.27"/><linearGradient id="g350" href="#P" x1="569.15" y1="204.37" x2="752.58" y2="411.91"/><linearGradient id="g351" href="#P" x1="530.57" y1="244.87" x2="528.46" y2="260.77"/><linearGradient id="g352" href="#P" x1="610.48" y1="265.53" x2="598.98" y2="304.81"/><linearGradient id="g353" href="#P" x1="541.58" y1="252.96" x2="540.92" y2="260.92"/><linearGradient id="g354" href="#P" x1="618.19" y1="268.80" x2="602.28" y2="305.35"/><linearGradient id="g355" href="#P" x1="633.04" y1="255.19" x2="676.47" y2="319.10"/><linearGradient id="g356" href="#P" x1="548.90" y1="253.87" x2="546.82" y2="261.98"/><linearGradient id="g357" href="#P" x1="629.52" y1="219.16" x2="615.03" y2="393.00"/><linearGradient id="g358" href="#P" x1="637.73" y1="252.01" x2="681.16" y2="315.92"/><linearGradient id="g359" href="#P" x1="522.06" y1="225.93" x2="512.20" y2="262.30"/><linearGradient id="g35a" href="#P" x1="556.68" y1="275.71" x2="560.10" y2="260.97"/><linearGradient id="g35b" href="#P" x1="635.65" y1="219.67" x2="621.16" y2="393.51"/><linearGradient id="g35c" href="#P" x1="562.05" y1="276.75" x2="566.65" y2="262.96"/><linearGradient id="g35d" href="#P" x1="516.09" y1="226.23" x2="519.74" y2="262.84"/><linearGradient id="g35e" href="#P" x1="574.75" y1="280.98" x2="579.34" y2="267.18"/><linearGradient id="g35f" href="#P" x1="580.57" y1="282.76" x2="586.10" y2="270.05"/><linearGradient id="g360" href="#P" x1="613.57" y1="236.42" x2="685.09" y2="360.76"/><linearGradient id="g361" href="#P" x1="596.50" y1="279.19" x2="595.87" y2="281.47"/><linearGradient id="g362" href="#P" x1="536.29" y1="236.39" x2="531.10" y2="262.49"/><linearGradient id="g363" href="#P" x1="602.73" y1="281.06" x2="601.87" y2="283.46"/><linearGradient id="g364" href="#P" x1="537.03" y1="236.99" x2="537.83" y2="262.99"/><linearGradient id="g365" href="#P" x1="615.18" y1="257.39" x2="692.47" y2="322.91"/><linearGradient id="g366" href="#P" x1="618.04" y1="274.76" x2="610.07" y2="299.95"/><linearGradient id="g367" href="#P" x1="624.01" y1="276.65" x2="616.05" y2="301.84"/><linearGradient id="g368" href="#P" x1="550.38" y1="259.73" x2="549.96" y2="261.85"/><linearGradient id="g369" href="#P" x1="579.81" y1="228.41" x2="744.16" y2="340.71"/><linearGradient id="g36a" href="#P" x1="556.34" y1="260.88" x2="556.11" y2="262.81"/><linearGradient id="g36b" href="#P" x1="638.72" y1="219.93" x2="624.23" y2="393.77"/><linearGradient id="g36c" href="#P" x1="574.28" y1="58.84" x2="517.83" y2="278.20"/><linearGradient id="g36d" href="#P" x1="582.05" y1="225.14" x2="746.40" y2="337.43"/><linearGradient id="g36e" href="#P" x1="564.42" y1="279.42" x2="569.16" y2="263.25"/><linearGradient id="g36f" href="#P" x1="609.96" y1="238.50" x2="681.48" y2="362.84"/><linearGradient id="g370" href="#P" x1="570.31" y1="281.02" x2="575.63" y2="265.36"/><linearGradient id="g371" href="#P" x1="455.55" y1="86.49" x2="534.15" y2="275.45"/><linearGradient id="g372" href="#P" x1="582.76" y1="288.91" x2="588.57" y2="267.91"/><linearGradient id="g373" href="#P" x1="588.41" y1="290.27" x2="595.50" y2="270.32"/><linearGradient id="g374" href="#P" x1="604.80" y1="284.40" x2="605.48" y2="282.08"/><linearGradient id="g375" href="#P" x1="554.58" y1="281.55" x2="767.46" y2="295.51"/><linearGradient id="g376" href="#P" x1="558.80" y1="170.74" x2="539.29" y2="268.79"/><linearGradient id="g377" href="#P" x1="610.92" y1="286.27" x2="611.66" y2="284.23"/><linearGradient id="g378" href="#P" x1="524.97" y1="176.54" x2="548.18" y2="268.21"/><linearGradient id="g379" href="#P" x1="554.66" y1="280.31" x2="767.54" y2="294.27"/><linearGradient id="g37a" href="#P" x1="625.22" y1="281.59" x2="621.56" y2="297.33"/><linearGradient id="g37b" href="#P" x1="631.90" y1="283.49" x2="626.81" y2="298.79"/><linearGradient id="g37c" href="#P" x1="566.42" y1="240.24" x2="558.46" y2="265.43"/><linearGradient id="g37d" href="#P" x1="567.15" y1="240.33" x2="564.95" y2="266.72"/><linearGradient id="g37e" href="#P" x1="608.22" y1="437.35" x2="689.51" y2="87.33"/><linearGradient id="g37f" href="#P" x1="484.59" y1="823.95" x2="534.62" y2="223.70"/><linearGradient id="g380" href="#P" x1="572.69" y1="282.90" x2="578.06" y2="265.92"/><linearGradient id="g381" href="#P" x1="580.24" y1="323.38" x2="736.64" y2="250.52"/><linearGradient id="g382" href="#P" x1="247.35" y1="473.40" x2="556.35" y2="251.14"/><linearGradient id="g383" href="#P" x1="579.80" y1="285.29" x2="584.26" y2="267.63"/><linearGradient id="g384" href="#P" x1="590.59" y1="291.05" x2="597.69" y2="271.10"/><linearGradient id="g385" href="#P" x1="597.19" y1="293.40" x2="604.29" y2="273.44"/><linearGradient id="g386" href="#P" x1="613.12" y1="289.32" x2="614.96" y2="283.30"/><linearGradient id="g387" href="#P" x1="658.49" y1="695.53" x2="543.49" y2="241.35"/><linearGradient id="g388" href="#P" x1="619.31" y1="291.21" x2="621.15" y2="285.19"/><linearGradient id="g389" href="#P" x1="309.53" y1="472.58" x2="568.21" y2="255.22"/><linearGradient id="g38a" href="#P" x1="634.29" y1="285.83" x2="630.61" y2="298.10"/><linearGradient id="g38b" href="#P" x1="641.09" y1="288.51" x2="635.65" y2="299.99"/><linearGradient id="g38c" href="#P" x1="738.02" y1="183.06" x2="557.55" y2="272.35"/><linearGradient id="g38d" href="#P" x1="408.89" y1="134.27" x2="584.59" y2="276.27"/><linearGradient id="g38e" href="#P" x1="541.74" y1="394.33" x2="540.06" y2="258.16"/><linearGradient id="g38f" href="#P" x1="511.99" y1="386.78" x2="549.17" y2="259.71"/><linearGradient id="g390" href="#P" x1="582.76" y1="280.02" x2="586.72" y2="269.26"/><linearGradient id="g391" href="#P" x1="589.37" y1="282.54" x2="592.98" y2="271.39"/><linearGradient id="g392" href="#P" x1="599.39" y1="292.93" x2="606.52" y2="274.80"/><linearGradient id="g393" href="#P" x1="606.38" y1="295.79" x2="612.94" y2="277.09"/><linearGradient id="g394" href="#P" x1="566.71" y1="364.35" x2="557.86" y2="262.40"/><linearGradient id="g395" href="#P" x1="622.27" y1="291.23" x2="623.74" y2="286.74"/><linearGradient id="g396" href="#P" x1="628.44" y1="293.26" x2="629.94" y2="288.83"/><linearGradient id="g397" href="#P" x1="541.66" y1="360.78" x2="566.75" y2="263.27"/><linearGradient id="g398" href="#P" x1="587.79" y1="367.82" x2="575.98" y2="263.64"/><linearGradient id="g399" href="#P" x1="551.40" y1="348.54" x2="548.82" y2="264.12"/><linearGradient id="g39a" href="#P" x1="540.67" y1="349.36" x2="586.29" y2="266.39"/><linearGradient id="g39b" href="#P" x1="549.33" y1="348.51" x2="556.34" y2="264.31"/><linearGradient id="g39c" href="#P" x1="650.58" y1="279.46" x2="587.47" y2="275.33"/><linearGradient id="g39d" href="#P" x1="67.14" y1="243.54" x2="712.02" y2="285.81"/><linearGradient id="g39e" href="#P" x1="569.38" y1="338.57" x2="567.18" y2="266.42"/><linearGradient id="g39f" href="#P" x1="609.43" y1="291.29" x2="615.10" y2="280.17"/><linearGradient id="g3a0" href="#P" x1="616.75" y1="295.27" x2="621.23" y2="282.50"/><linearGradient id="g3a1" href="#P" x1="562.25" y1="337.17" x2="576.14" y2="267.34"/><linearGradient id="g3a2" href="#P" x1="586.81" y1="334.51" x2="585.76" y2="269.02"/><linearGradient id="g3a3" href="#P" x1="560.86" y1="336.73" x2="557.17" y2="267.19"/><linearGradient id="g3a4" href="#P" x1="585.40" y1="334.15" x2="593.66" y2="269.53"/><linearGradient id="g3a5" href="#P" x1="563.57" y1="336.81" x2="564.61" y2="266.99"/><linearGradient id="g3a6" href="#P" x1="617.22" y1="352.00" x2="600.80" y2="265.39"/><linearGradient id="g3a7" href="#P" x1="575.11" y1="332.77" x2="577.29" y2="269.32"/><linearGradient id="g3a8" href="#P" x1="588.78" y1="348.67" x2="616.51" y2="266.87"/><linearGradient id="g3a9" href="#P" x1="581.28" y1="332.98" x2="583.46" y2="269.54"/><linearGradient id="g3aa" href="#P" x1="586.46" y1="336.10" x2="599.36" y2="269.78"/><linearGradient id="g3ab" href="#P" x1="566.01" y1="337.59" x2="568.08" y2="266.63"/><linearGradient id="g3ac" href="#P" x1="578.59" y1="336.32" x2="568.31" y2="267.10"/><linearGradient id="g3ad" href="#P" x1="595.44" y1="337.96" x2="603.73" y2="270.25"/><linearGradient id="g3ae" href="#P" x1="577.99" y1="337.27" x2="593.51" y2="266.90"/><linearGradient id="g3af" href="#P" x1="586.53" y1="339.25" x2="596.62" y2="267.01"/><linearGradient id="g3b0" href="#P" x1="569.66" y1="362.11" x2="585.29" y2="233.66"/><linearGradient id="g3b1" href="#P" x1="593.56" y1="359.20" x2="565.64" y2="237.12"/><clipPath id="k5"><rect x="584.23" y="265.46" width="10" height="5.90"/></clipPath></defs><line x1="114.40" y1="124.00" x2="42.50" y2="92.70" stroke="#d4d4d4" stroke-width="0.6" />
<line x1="137.90" y1="118.05" x2="66.00" y2="86.75" stroke="#d4d4d4" stroke-width="0.6" />
<line x1="161.40" y1="112.10" x2="89.50" y2="80.80" stroke="#d4d4d4" stroke-width="0.6" />
<line x1="184.90" y1="106.15" x2="113.00" y2="74.85" stroke="#d4d4d4" stroke-width="0.6" />
<line x1="208.40" y1="100.20" x2="136.50" y2="68.90" stroke="#d4d4d4" stroke-width="0.6" />
<line x1="114.40" y1="124.00" x2="208.40" y2="100.20" stroke="#d4d4d4" stroke-width="0.6" />
<line x1="96.43" y1="116.17" x2="190.43" y2="92.38" stroke="#d4d4d4" stroke-width="0.6" />
<line x1="78.45" y1="108.35" x2="172.45" y2="84.55" stroke="#d4d4d4" stroke-width="0.6" />
<line x1="60.48" y1="100.53" x2="154.47" y2="76.72" stroke="#d4d4d4" stroke-width="0.6" />
<line x1="42.50" y1="92.70" x2="136.50" y2="68.90" stroke="#d4d4d4" stroke-width="0.6" />
<line x1="42.50" y1="92.70" x2="136.50" y2="68.90" stroke="#d4d4d4" stroke-width="0.6" />
<line x1="42.50" y1="79.16" x2="136.50" y2="55.36" stroke="#d4d4d4" stroke-width="0.6" />
<line x1="42.50" y1="65.62" x2="136.50" y2="41.82" stroke="#d4d4d4" stroke-width="0.6" />
<line x1="42.50" y1="52.08" x2="136.50" y2="28.28" stroke="#d4d4d4" stroke-width="0.6" />
<line x1="42.50" y1="38.54" x2="136.50" y2="14.74" stroke="#d4d4d4" stroke-width="0.6" />
<line x1="42.50" y1="25.00" x2="136.50" y2="1.20" stroke="#d4d4d4" stroke-width="0.6" />
<line x1="66.00" y1="86.75" x2="66.00" y2="19.05" stroke="#d4d4d4" stroke-width="0.6" />
<line x1="89.50" y1="80.80" x2="89.50" y2="13.10" stroke="#d4d4d4" stroke-width="0.6" />
<line x1="113.00" y1="74.85" x2="113.00" y2="7.15" stroke="#d4d4d4" stroke-width="0.6" />
<line x1="136.50" y1="68.90" x2="136.50" y2="1.20" stroke="#d4d4d4" stroke-width="0.6" />
<line x1="136.50" y1="68.90" x2="208.40" y2="100.20" stroke="#d4d4d4" stroke-width="0.6" />
<line x1="136.50" y1="55.36" x2="208.40" y2="86.66" stroke="#d4d4d4" stroke-width="0.6" />
<line x1="136.50" y1="41.82" x2="208.40" y2="73.12" stroke="#d4d4d4" stroke-width="0.6" />
<line x1="136.50" y1="28.28" x2="208.40" y2="59.58" stroke="#d4d4d4" stroke-width="0.6" />
<line x1="136.50" y1="14.74" x2="208.40" y2="46.04" stroke="#d4d4d4" stroke-width="0.6" />
<line x1="136.50" y1="1.20" x2="208.40" y2="32.50" stroke="#d4d4d4" stroke-width="0.6" />
<line x1="208.40" y1="100.20" x2="208.40" y2="32.50" stroke="#d4d4d4" stroke-width="0.6" />
<line x1="190.43" y1="92.38" x2="190.43" y2="24.67" stroke="#d4d4d4" stroke-width="0.6" />
<line x1="172.45" y1="84.55" x2="172.45" y2="16.85" stroke="#d4d4d4" stroke-width="0.6" />
<line x1="154.47" y1="76.72" x2="154.47" y2="9.02" stroke="#d4d4d4" stroke-width="0.6" />
<line x1="114.40" y1="80.43" x2="114.40" y2="124.00" stroke="#111" stroke-width="1.1" stroke-dasharray="3.5 2.95"/>
<path d="M136.1 47.9 136.5 42.4 127.1 43.3z" fill="url(#g0)" stroke="url(#g0)"/>
<path d="M136.1 47.9 145.5 47.3 136.5 42.4z" fill="url(#g1)" stroke="url(#g1)"/>
<path d="M126.7 48.6 127.1 43.3 117.7 44.3z" fill="url(#g2)" stroke="url(#g2)"/>
<path d="M126.7 48.6 136.1 47.9 127.1 43.3z" fill="url(#g3)" stroke="url(#g3)"/>
<path d="M145.1 52.6 145.5 47.3 136.1 47.9z" fill="url(#g4)" stroke="url(#g4)"/>
<path d="M145.1 52.6 154.5 52.1 145.5 47.3z" fill="url(#g5)" stroke="url(#g5)"/>
<path d="M117.3 49.3 117.7 44.3 108.3 45.2z" fill="url(#g6)" stroke="url(#g6)"/>
<path d="M117.3 49.3 126.7 48.6 117.7 44.3z" fill="url(#g7)" stroke="url(#g7)"/>
<path d="M135.7 53 136.1 47.9 126.7 48.6z" fill="url(#g8)" stroke="url(#g8)"/>
<path d="M135.7 53 145.1 52.6 136.1 47.9z" fill="url(#g9)" stroke="url(#g9)"/>
<path d="M154.1 57.2 154.5 52.1 145.1 52.6z" fill="url(#ga)" stroke="url(#ga)"/>
<path d="M107.9 50 108.3 45.2 98.9 46.1z" fill="url(#gb)" stroke="url(#gb)"/>
<path d="M154.1 57.2 163.5 57 154.5 52.1z" fill="url(#gc)" stroke="url(#gc)"/>
<path d="M107.9 50 117.3 49.3 108.3 45.2z" fill="url(#gd)" stroke="url(#gd)"/>
<path d="M126.3 53.5 126.7 48.6 117.3 49.3z" fill="url(#ge)" stroke="url(#ge)"/>
<path d="M126.3 53.5 135.7 53 126.7 48.6z" fill="url(#gf)" stroke="url(#gf)"/>
<path d="M144.7 57.4 145.1 52.6 135.7 53z" fill="url(#g10)" stroke="url(#g10)"/>
<path d="M98.5 50.6 98.9 46.1 89.5 47.1z" fill="url(#g11)" stroke="url(#g11)"/>
<path d="M144.7 57.4 154.1 57.2 145.1 52.6z" fill="url(#g12)" stroke="url(#g12)"/>
<path d="M98.5 50.6 107.9 50 98.9 46.1z" fill="url(#g13)" stroke="url(#g13)"/>
<path d="M163.1 61.9 163.5 57 154.1 57.2z" fill="url(#g14)" stroke="url(#g14)"/>
<path d="M116.9 53.8 117.3 49.3 107.9 50z" fill="url(#g15)" stroke="url(#g15)"/>
<path d="M163.1 61.9 172.4 61.9 163.5 57z" fill="url(#g16)" stroke="url(#g16)"/>
<path d="M116.9 53.8 126.3 53.5 117.3 49.3z" fill="url(#g17)" stroke="url(#g17)"/>
<path d="M135.3 57.6 135.7 53 126.3 53.5z" fill="url(#g18)" stroke="url(#g18)"/>
<path d="M89.1 51.3 89.5 47.1 80.1 48z" fill="url(#g19)" stroke="url(#g19)"/>
<path d="M135.3 57.6 144.7 57.4 135.7 53z" fill="url(#g1a)" stroke="url(#g1a)"/>
<path d="M89.1 51.3 98.5 50.6 89.5 47.1z" fill="url(#g1b)" stroke="url(#g1b)"/>
<path d="M153.7 61.8 154.1 57.2 144.7 57.4z" fill="url(#g1c)" stroke="url(#g1c)"/>
<path d="M107.5 54.1 107.9 50 98.5 50.6z" fill="url(#g1d)" stroke="url(#g1d)"/>
<path d="M153.7 61.8 163.1 61.9 154.1 57.2z" fill="url(#g1e)" stroke="url(#g1e)"/>
<path d="M107.5 54.1 116.9 53.8 107.9 50z" fill="url(#g1f)" stroke="url(#g1f)"/>
<path d="M172 66.5 172.4 61.9 163.1 61.9z" fill="url(#g20)" stroke="url(#g20)"/>
<path d="M79.7 51.9 80.1 48 70.7 49z" fill="url(#g21)" stroke="url(#g21)"/>
<path d="M125.9 57.6 126.3 53.5 116.9 53.8z" fill="url(#g22)" stroke="url(#g22)"/>
<path d="M172 66.5 181.4 66.8 172.4 61.9z" fill="url(#g23)" stroke="url(#g23)"/>
<path d="M125.9 57.6 135.3 57.6 126.3 53.5z" fill="url(#g24)" stroke="url(#g24)"/>
<path d="M79.7 51.9 89.1 51.3 80.1 48z" fill="url(#g25)" stroke="url(#g25)"/>
<path d="M144.2 61.7 144.7 57.4 135.3 57.6z" fill="url(#g26)" stroke="url(#g26)"/>
<path d="M98.1 54.5 98.5 50.6 89.1 51.3z" fill="url(#g27)" stroke="url(#g27)"/>
<path d="M144.2 61.7 153.7 61.8 144.7 57.4z" fill="url(#g28)" stroke="url(#g28)"/>
<path d="M98.1 54.5 107.5 54.1 98.5 50.6z" fill="url(#g29)" stroke="url(#g29)"/>
<path d="M162.6 66.2 163.1 61.9 153.7 61.8z" fill="url(#g2a)" stroke="url(#g2a)"/>
<path d="M70.3 52.9 70.7 49 61.3 49.9z" fill="url(#g2b)" stroke="url(#g2b)"/>
<path d="M116.5 57.6 116.9 53.8 107.5 54.1z" fill="url(#g2c)" stroke="url(#g2c)"/>
<path d="M162.6 66.2 172 66.5 163.1 61.9z" fill="url(#g2d)" stroke="url(#g2d)"/>
<path d="M70.3 52.9 79.7 51.9 70.7 49z" fill="url(#g2e)" stroke="url(#g2e)"/>
<path d="M116.5 57.6 125.9 57.6 116.9 53.8z" fill="url(#g2f)" stroke="url(#g2f)"/>
<path d="M181 71.1 181.4 66.8 172 66.5z" fill="url(#g30)" stroke="url(#g30)"/>
<path d="M181 71.1 190.4 71.7 181.4 66.8z" fill="url(#g31)" stroke="url(#g31)"/>
<path d="M134.9 61.5 135.3 57.6 125.9 57.6z" fill="url(#g32)" stroke="url(#g32)"/>
<path d="M88.7 54.9 89.1 51.3 79.7 51.9z" fill="url(#g33)" stroke="url(#g33)"/>
<path d="M134.9 61.5 144.2 61.7 135.3 57.6z" fill="url(#g34)" stroke="url(#g34)"/>
<path d="M88.7 54.9 98.1 54.5 89.1 51.3z" fill="url(#g35)" stroke="url(#g35)"/>
<path d="M60.9 53.9 61.3 49.9 51.9 50.9z" fill="url(#g36)" stroke="url(#g36)"/>
<path d="M153.2 65.8 153.7 61.8 144.2 61.7z" fill="url(#g37)" stroke="url(#g37)"/>
<path d="M107.1 57.7 107.5 54.1 98.1 54.5z" fill="url(#g38)" stroke="url(#g38)"/>
<path d="M153.2 65.8 162.6 66.2 153.7 61.8z" fill="url(#g39)" stroke="url(#g39)"/>
<path d="M60.9 53.9 70.3 52.9 61.3 49.9z" fill="url(#g3a)" stroke="url(#g3a)"/>
<path d="M107.1 57.7 116.5 57.6 107.5 54.1z" fill="url(#g3b)" stroke="url(#g3b)"/>
<path d="M171.6 70.5 172 66.5 162.6 66.2z" fill="url(#g3c)" stroke="url(#g3c)"/>
<path d="M79.3 55.8 79.7 51.9 70.3 52.9z" fill="url(#g3d)" stroke="url(#g3d)"/>
<path d="M171.6 70.5 181 71.1 172 66.5z" fill="url(#g3e)" stroke="url(#g3e)"/>
<path d="M125.5 61.2 125.9 57.6 116.5 57.6z" fill="url(#g3f)" stroke="url(#g3f)"/>
<path d="M125.5 61.2 134.9 61.5 125.9 57.6z" fill="url(#g40)" stroke="url(#g40)"/>
<path d="M79.3 55.8 88.7 54.9 79.7 51.9z" fill="url(#g41)" stroke="url(#g41)"/>
<path d="M190 75.7 190.4 71.7 181 71.1z" fill="url(#g42)" stroke="url(#g42)"/>
<path d="M190 75.7 199.4 76.6 190.4 71.7z" fill="url(#g43)" stroke="url(#g43)"/>
<path d="M51.5 54.9 51.9 50.9 42.5 51.8z" fill="url(#g44)" stroke="url(#g44)"/>
<path d="M143.8 65.2 144.2 61.7 134.9 61.5z" fill="url(#g45)" stroke="url(#g45)"/>
<path d="M97.7 57.8 98.1 54.5 88.7 54.9z" fill="url(#g46)" stroke="url(#g46)"/>
<path d="M51.5 54.9 60.9 53.9 51.9 50.9z" fill="url(#g47)" stroke="url(#g47)"/>
<path d="M143.8 65.2 153.2 65.8 144.2 61.7z" fill="url(#g48)" stroke="url(#g48)"/>
<path d="M97.7 57.8 107.1 57.7 98.1 54.5z" fill="url(#g49)" stroke="url(#g49)"/>
<path d="M162.2 69.9 162.6 66.2 153.2 65.8z" fill="url(#g4a)" stroke="url(#g4a)"/>
<path d="M69.9 56.9 70.3 52.9 60.9 53.9z" fill="url(#g4b)" stroke="url(#g4b)"/>
<path d="M116 60.9 116.5 57.6 107.1 57.7z" fill="url(#g4c)" stroke="url(#g4c)"/>
<path d="M162.2 69.9 171.6 70.5 162.6 66.2z" fill="url(#g4d)" stroke="url(#g4d)"/>
<path d="M69.9 56.9 79.3 55.8 70.3 52.9z" fill="url(#g4e)" stroke="url(#g4e)"/>
<path d="M116 60.9 125.5 61.2 116.5 57.6z" fill="url(#g4f)" stroke="url(#g4f)"/>
<path d="M180.6 74.9 181 71.1 171.6 70.5z" fill="url(#g50)" stroke="url(#g50)"/>
<path d="M180.6 74.9 190 75.7 181 71.1z" fill="url(#g51)" stroke="url(#g51)"/>
<path d="M134.4 64.6 134.9 61.5 125.5 61.2z" fill="url(#g52)" stroke="url(#g52)"/>
<path d="M88.3 58.8 88.7 54.9 79.3 55.8z" fill="url(#g53)" stroke="url(#g53)"/>
<path d="M134.4 64.6 143.8 65.2 134.9 61.5z" fill="url(#g54)" stroke="url(#g54)"/>
<path d="M88.3 58.8 97.7 57.8 88.7 54.9z" fill="url(#g55)" stroke="url(#g55)"/>
<path d="M199 80.4 199.4 76.6 190 75.7z" fill="url(#g56)" stroke="url(#g56)"/>
<path d="M199 80.4 208.4 81.5 199.4 76.6z" fill="url(#g57)" stroke="url(#g57)"/>
<path d="M60.5 58 60.9 53.9 51.5 54.9z" fill="url(#g58)" stroke="url(#g58)"/>
<path d="M152.8 69 153.2 65.8 143.8 65.2z" fill="url(#g59)" stroke="url(#g59)"/>
<path d="M106.6 60.8 107.1 57.7 97.7 57.8z" fill="url(#g5a)" stroke="url(#g5a)"/>
<path d="M152.8 69 162.2 69.9 153.2 65.8z" fill="url(#g5b)" stroke="url(#g5b)"/>
<path d="M60.5 58 69.9 56.9 60.9 53.9z" fill="url(#g5c)" stroke="url(#g5c)"/>
<path d="M106.6 60.8 116 60.9 107.1 57.7z" fill="url(#g5d)" stroke="url(#g5d)"/>
<path d="M171.2 74 171.6 70.5 162.2 69.9z" fill="url(#g5e)" stroke="url(#g5e)"/>
<path d="M78.9 59.9 79.3 55.8 69.9 56.9z" fill="url(#g5f)" stroke="url(#g5f)"/>
<path d="M171.2 74 180.6 74.9 171.6 70.5z" fill="url(#g60)" stroke="url(#g60)"/>
<path d="M125 64 125.5 61.2 116 60.9z" fill="url(#g61)" stroke="url(#g61)"/>
<path d="M78.9 59.9 88.3 58.8 79.3 55.8z" fill="url(#g62)" stroke="url(#g62)"/>
<path d="M125 64 134.4 64.6 125.5 61.2z" fill="url(#g63)" stroke="url(#g63)"/>
<path d="M189.6 79.2 190 75.7 180.6 74.9z" fill="url(#g64)" stroke="url(#g64)"/>
<path d="M189.6 79.2 199 80.4 190 75.7z" fill="url(#g65)" stroke="url(#g65)"/>
<path d="M143.4 68 143.8 65.2 134.4 64.6z" fill="url(#g66)" stroke="url(#g66)"/>
<path d="M97.3 61.7 97.7 57.8 88.3 58.8z" fill="url(#g67)" stroke="url(#g67)"/>
<path d="M143.4 68 152.8 69 143.8 65.2z" fill="url(#g68)" stroke="url(#g68)"/>
<path d="M97.3 61.7 106.6 60.8 97.7 57.8z" fill="url(#g69)" stroke="url(#g69)"/>
<path d="M161.8 72.8 162.2 69.9 152.8 69z" fill="url(#g6a)" stroke="url(#g6a)"/>
<path d="M69.5 61.1 69.9 56.9 60.5 58z" fill="url(#g6b)" stroke="url(#g6b)"/>
<path d="M161.8 72.8 171.2 74 162.2 69.9z" fill="url(#g6c)" stroke="url(#g6c)"/>
<path d="M115.6 63.6 116 60.9 106.6 60.8z" fill="url(#g6d)" stroke="url(#g6d)"/>
<path d="M69.5 61.1 78.9 59.9 69.9 56.9z" fill="url(#g6e)" stroke="url(#g6e)"/>
<path d="M115.6 63.6 125 64 116 60.9z" fill="url(#g6f)" stroke="url(#g6f)"/>
<path d="M180.2 78.1 180.6 74.9 171.2 74z" fill="url(#g70)" stroke="url(#g70)"/>
<path d="M180.2 78.1 189.6 79.2 180.6 74.9z" fill="url(#g71)" stroke="url(#g71)"/>
<path d="M87.9 63 88.3 58.8 78.9 59.9z" fill="url(#g72)" stroke="url(#g72)"/>
<path d="M134 67.2 134.4 64.6 125 64z" fill="url(#g73)" stroke="url(#g73)"/>
<path d="M87.9 63 97.3 61.7 88.3 58.8z" fill="url(#g74)" stroke="url(#g74)"/>
<path d="M134 67.2 143.4 68 134.4 64.6z" fill="url(#g75)" stroke="url(#g75)"/>
<path d="M152.4 71.5 152.8 69 143.4 68z" fill="url(#g76)" stroke="url(#g76)"/>
<path d="M106.2 64.6 106.6 60.8 97.3 61.7z" fill="url(#g77)" stroke="url(#g77)"/>
<path d="M152.4 71.5 161.8 72.8 152.8 69z" fill="url(#g78)" stroke="url(#g78)"/>
<path d="M106.2 64.6 115.6 63.6 106.6 60.8z" fill="url(#g79)" stroke="url(#g79)"/>
<path d="M170.8 76.5 171.2 74 161.8 72.8z" fill="url(#g7a)" stroke="url(#g7a)"/>
<path d="M78.5 64.2 78.9 59.9 69.5 61.1z" fill="url(#g7b)" stroke="url(#g7b)"/>
<path d="M170.8 76.5 180.2 78.1 171.2 74z" fill="url(#g7c)" stroke="url(#g7c)"/>
<path d="M124.6 66.4 125 64 115.6 63.6z" fill="url(#g7d)" stroke="url(#g7d)"/>
<path d="M78.5 64.2 87.9 63 78.9 59.9z" fill="url(#g7e)" stroke="url(#g7e)"/>
<path d="M124.6 66.4 134 67.2 125 64z" fill="url(#g7f)" stroke="url(#g7f)"/>
<path d="M96.8 65.8 97.3 61.7 87.9 63z" fill="url(#g80)" stroke="url(#g80)"/>
<path d="M143 70.3 143.4 68 134 67.2z" fill="url(#g81)" stroke="url(#g81)"/>
<path d="M143 70.3 152.4 71.5 143.4 68z" fill="url(#g82)" stroke="url(#g82)"/>
<path d="M96.8 65.8 106.2 64.6 97.3 61.7z" fill="url(#g83)" stroke="url(#g83)"/>
<path d="M161.4 74.9 161.8 72.8 152.4 71.5z" fill="url(#g84)" stroke="url(#g84)"/>
<path d="M115.2 67.4 115.6 63.6 106.2 64.6z" fill="url(#g85)" stroke="url(#g85)"/>
<path d="M161.4 74.9 170.8 76.5 161.8 72.8z" fill="url(#g86)" stroke="url(#g86)"/>
<path d="M115.2 67.4 124.6 66.4 115.6 63.6z" fill="url(#g87)" stroke="url(#g87)"/>
<path d="M87.4 67.1 87.9 63 78.5 64.2z" fill="url(#g88)" stroke="url(#g88)"/>
<path d="M133.6 69.3 134 67.2 124.6 66.4z" fill="url(#g89)" stroke="url(#g89)"/>
<path d="M87.4 67.1 96.8 65.8 87.9 63z" fill="url(#g8a)" stroke="url(#g8a)"/>
<path d="M133.6 69.3 143 70.3 134 67.2z" fill="url(#g8b)" stroke="url(#g8b)"/>
<path d="M105.8 68.7 106.2 64.6 96.8 65.8z" fill="url(#g8c)" stroke="url(#g8c)"/>
<path d="M152 73.4 152.4 71.5 143 70.3z" fill="url(#g8d)" stroke="url(#g8d)"/>
<path d="M152 73.4 161.4 74.9 152.4 71.5z" fill="url(#g8e)" stroke="url(#g8e)"/>
<path d="M105.8 68.7 115.2 67.4 106.2 64.6z" fill="url(#g8f)" stroke="url(#g8f)"/>
<path d="M124.2 70.2 124.6 66.4 115.2 67.4z" fill="url(#g90)" stroke="url(#g90)"/>
<path d="M124.2 70.2 133.6 69.3 124.6 66.4z" fill="url(#g91)" stroke="url(#g91)"/>
<path d="M96.4 70.1 96.8 65.8 87.4 67.1z" fill="url(#g92)" stroke="url(#g92)"/>
<path d="M142.6 72.1 143 70.3 133.6 69.3z" fill="url(#g93)" stroke="url(#g93)"/>
<path d="M96.4 70.1 105.8 68.7 96.8 65.8z" fill="url(#g94)" stroke="url(#g94)"/>
<path d="M142.6 72.1 152 73.4 143 70.3z" fill="url(#g95)" stroke="url(#g95)"/>
<path d="M114.8 71.6 115.2 67.4 105.8 68.7z" fill="url(#g96)" stroke="url(#g96)"/>
<path d="M114.8 71.6 124.2 70.2 115.2 67.4z" fill="url(#g97)" stroke="url(#g97)"/>
<path d="M133.2 73 133.6 69.3 124.2 70.2z" fill="url(#g98)" stroke="url(#g98)"/>
<path d="M133.2 73 142.6 72.1 133.6 69.3z" fill="url(#g99)" stroke="url(#g99)"/>
<path d="M105.4 73 105.8 68.7 96.4 70.1z" fill="url(#g9a)" stroke="url(#g9a)"/>
<path d="M105.4 73 114.8 71.6 105.8 68.7z" fill="url(#g9b)" stroke="url(#g9b)"/>
<path d="M123.8 74.5 124.2 70.2 114.8 71.6z" fill="url(#g9c)" stroke="url(#g9c)"/>
<path d="M123.8 74.5 133.2 73 124.2 70.2z" fill="url(#g9d)" stroke="url(#g9d)"/>
<path d="M114.4 75.9 114.8 71.6 105.4 73z" fill="url(#g9e)" stroke="url(#g9e)"/>
<path d="M114.4 75.9 123.8 74.5 114.8 71.6z" fill="url(#g9f)" stroke="url(#g9f)"/>
<line x1="42.50" y1="92.70" x2="42.50" y2="25.00" stroke="#3a3a3a" stroke-width="0.7" />
<line x1="42.50" y1="92.70" x2="114.40" y2="124.00" stroke="#3a3a3a" stroke-width="0.7" />
<line x1="114.40" y1="124.00" x2="208.40" y2="100.20" stroke="#3a3a3a" stroke-width="0.7" />
<line x1="42.50" y1="92.70" x2="40.30" y2="91.74" stroke="#3a3a3a" stroke-width="0.7" />
<line x1="42.50" y1="79.16" x2="40.30" y2="78.20" stroke="#3a3a3a" stroke-width="0.7" />
<line x1="42.50" y1="65.62" x2="40.30" y2="64.66" stroke="#3a3a3a" stroke-width="0.7" />
<line x1="42.50" y1="52.08" x2="40.30" y2="51.12" stroke="#3a3a3a" stroke-width="0.7" />
<line x1="42.50" y1="38.54" x2="40.30" y2="37.58" stroke="#3a3a3a" stroke-width="0.7" />
<line x1="42.50" y1="25.00" x2="40.30" y2="24.04" stroke="#3a3a3a" stroke-width="0.7" />
<line x1="114.40" y1="124.00" x2="112.07" y2="124.59" stroke="#3a3a3a" stroke-width="0.7" />
<line x1="96.43" y1="116.17" x2="94.10" y2="116.76" stroke="#3a3a3a" stroke-width="0.7" />
<line x1="78.45" y1="108.35" x2="76.12" y2="108.94" stroke="#3a3a3a" stroke-width="0.7" />
<line x1="60.48" y1="100.53" x2="58.15" y2="101.11" stroke="#3a3a3a" stroke-width="0.7" />
<line x1="42.50" y1="92.70" x2="40.17" y2="93.29" stroke="#3a3a3a" stroke-width="0.7" />
<line x1="114.40" y1="124.00" x2="116.60" y2="124.96" stroke="#3a3a3a" stroke-width="0.7" />
<line x1="137.90" y1="118.05" x2="140.10" y2="119.01" stroke="#3a3a3a" stroke-width="0.7" />
<line x1="161.40" y1="112.10" x2="163.60" y2="113.06" stroke="#3a3a3a" stroke-width="0.7" />
<line x1="184.90" y1="106.15" x2="187.10" y2="107.11" stroke="#3a3a3a" stroke-width="0.7" />
<line x1="208.40" y1="100.20" x2="210.60" y2="101.16" stroke="#3a3a3a" stroke-width="0.7" />
<circle cx="114.40" cy="75.93" r="3.1" fill="#ff0000"/>
<text transform="translate(36.90,91.60)" text-anchor="end" dominant-baseline="central" class="tk">0.5</text>
<text transform="translate(36.90,78.06)" text-anchor="end" dominant-baseline="central" class="tk">0.6</text>
<text transform="translate(36.90,64.52)" text-anchor="end" dominant-baseline="central" class="tk">0.7</text>
<text transform="translate(36.90,50.98)" text-anchor="end" dominant-baseline="central" class="tk">0.8</text>
<text transform="translate(36.90,37.44)" text-anchor="end" dominant-baseline="central" class="tk">0.9</text>
<text transform="translate(36.90,23.90)" text-anchor="end" dominant-baseline="central" class="tk">1</text>
<text transform="translate(103.90,134.20)" text-anchor="middle" dominant-baseline="central" class="tk">0</text>
<text transform="translate(85.93,126.38)" text-anchor="middle" dominant-baseline="central" class="tk">1</text>
<text transform="translate(67.95,118.55)" text-anchor="middle" dominant-baseline="central" class="tk">2</text>
<text transform="translate(49.98,110.73)" text-anchor="middle" dominant-baseline="central" class="tk">3</text>
<text transform="translate(32.00,102.90)" text-anchor="middle" dominant-baseline="central" class="tk">4</text>
<text transform="translate(119.80,126.80) rotate(70)" dominant-baseline="central" class="tk">-1</text>
<text transform="translate(143.30,120.85) rotate(70)" dominant-baseline="central" class="tk">-0.5</text>
<text transform="translate(166.80,114.90) rotate(70)" dominant-baseline="central" class="tk">0</text>
<text transform="translate(190.30,108.95) rotate(70)" dominant-baseline="central" class="tk">0.5</text>
<text transform="translate(213.80,103.00) rotate(70)" dominant-baseline="central" class="tk">1</text>
<text transform="translate(6.10,59.00) rotate(-90) scale(1.29,1)" text-anchor="middle" dominant-baseline="central" class="lab">DI</text>
<text transform="translate(62.70,142.50) scale(1.15,1)" text-anchor="middle" dominant-baseline="central" class="lab">SF</text>
<text transform="translate(186.90,153.30) scale(1.29,1)" text-anchor="middle" dominant-baseline="central" class="lab">CB</text>
<text transform="translate(105.00,51.33) scale(1.090,1)" class="an ai">DI</text>
<text transform="translate(120.00,53.13) scale(1.100,1)" class="an as">max</text>
<path d="M141.70 46.73h7.6M141.70 49.63h7.6" stroke="#000" stroke-width="0.85" fill="none"/>
<text transform="translate(154.20,51.33) scale(0.950,1)" class="an">0.855</text>
<text x="104.50" y="66.33" class="an">at</text>
<text x="119.70" y="66.33" class="an">(</text>
<text transform="translate(123.33,66.33) scale(1.270,1)" class="an">−</text>
<text x="133.60" y="66.33" class="an">1.0,</text>
<text x="157.00" y="66.33" class="an">0.0)</text>
<text x="114.20" y="176.60" text-anchor="middle" class="cap"><tspan class="capb">(a)</tspan> Chan-Vese, 5 iterations</text>
<line x1="346.70" y1="124.00" x2="274.80" y2="92.70" stroke="#d4d4d4" stroke-width="0.6" />
<line x1="370.20" y1="118.05" x2="298.30" y2="86.75" stroke="#d4d4d4" stroke-width="0.6" />
<line x1="393.70" y1="112.10" x2="321.80" y2="80.80" stroke="#d4d4d4" stroke-width="0.6" />
<line x1="417.20" y1="106.15" x2="345.30" y2="74.85" stroke="#d4d4d4" stroke-width="0.6" />
<line x1="440.70" y1="100.20" x2="368.80" y2="68.90" stroke="#d4d4d4" stroke-width="0.6" />
<line x1="346.70" y1="124.00" x2="440.70" y2="100.20" stroke="#d4d4d4" stroke-width="0.6" />
<line x1="328.73" y1="116.17" x2="422.73" y2="92.38" stroke="#d4d4d4" stroke-width="0.6" />
<line x1="310.75" y1="108.35" x2="404.75" y2="84.55" stroke="#d4d4d4" stroke-width="0.6" />
<line x1="292.78" y1="100.53" x2="386.77" y2="76.72" stroke="#d4d4d4" stroke-width="0.6" />
<line x1="274.80" y1="92.70" x2="368.80" y2="68.90" stroke="#d4d4d4" stroke-width="0.6" />
<line x1="274.80" y1="92.70" x2="368.80" y2="68.90" stroke="#d4d4d4" stroke-width="0.6" />
<line x1="274.80" y1="79.16" x2="368.80" y2="55.36" stroke="#d4d4d4" stroke-width="0.6" />
<line x1="274.80" y1="65.62" x2="368.80" y2="41.82" stroke="#d4d4d4" stroke-width="0.6" />
<line x1="274.80" y1="52.08" x2="368.80" y2="28.28" stroke="#d4d4d4" stroke-width="0.6" />
<line x1="274.80" y1="38.54" x2="368.80" y2="14.74" stroke="#d4d4d4" stroke-width="0.6" />
<line x1="274.80" y1="25.00" x2="368.80" y2="1.20" stroke="#d4d4d4" stroke-width="0.6" />
<line x1="298.30" y1="86.75" x2="298.30" y2="19.05" stroke="#d4d4d4" stroke-width="0.6" />
<line x1="321.80" y1="80.80" x2="321.80" y2="13.10" stroke="#d4d4d4" stroke-width="0.6" />
<line x1="345.30" y1="74.85" x2="345.30" y2="7.15" stroke="#d4d4d4" stroke-width="0.6" />
<line x1="368.80" y1="68.90" x2="368.80" y2="1.20" stroke="#d4d4d4" stroke-width="0.6" />
<line x1="368.80" y1="68.90" x2="440.70" y2="100.20" stroke="#d4d4d4" stroke-width="0.6" />
<line x1="368.80" y1="55.36" x2="440.70" y2="86.66" stroke="#d4d4d4" stroke-width="0.6" />
<line x1="368.80" y1="41.82" x2="440.70" y2="73.12" stroke="#d4d4d4" stroke-width="0.6" />
<line x1="368.80" y1="28.28" x2="440.70" y2="59.58" stroke="#d4d4d4" stroke-width="0.6" />
<line x1="368.80" y1="14.74" x2="440.70" y2="46.04" stroke="#d4d4d4" stroke-width="0.6" />
<line x1="368.80" y1="1.20" x2="440.70" y2="32.50" stroke="#d4d4d4" stroke-width="0.6" />
<line x1="440.70" y1="100.20" x2="440.70" y2="32.50" stroke="#d4d4d4" stroke-width="0.6" />
<line x1="422.73" y1="92.38" x2="422.73" y2="24.67" stroke="#d4d4d4" stroke-width="0.6" />
<line x1="404.75" y1="84.55" x2="404.75" y2="16.85" stroke="#d4d4d4" stroke-width="0.6" />
<line x1="386.77" y1="76.72" x2="386.77" y2="9.02" stroke="#d4d4d4" stroke-width="0.6" />
<line x1="338.12" y1="70.50" x2="338.12" y2="113.80" stroke="#111" stroke-width="1.1" stroke-dasharray="3.5 2.95"/>
<line x1="338.12" y1="113.80" x2="356.10" y2="121.62" stroke="#111" stroke-width="1.1" stroke-dasharray="3.5 2.95"/>
<line x1="338.12" y1="113.80" x2="328.73" y2="116.17" stroke="#111" stroke-width="1.1" stroke-dasharray="3.5 2.95"/>
<path d="M368.4 58.3 368.8 54.5 359.4 52.3z" fill="url(#ga0)" stroke="url(#ga0)"/>
<path d="M368.4 58.3 377.8 58.9 368.8 54.5z" fill="url(#ga1)" stroke="url(#ga1)"/>
<path d="M359 56.6 359.4 52.3 350 50.6z" fill="url(#ga2)" stroke="url(#ga2)"/>
<path d="M359 56.6 368.4 58.3 359.4 52.3z" fill="url(#ga3)" stroke="url(#ga3)"/>
<path d="M377.4 64.2 377.8 58.9 368.4 58.3z" fill="url(#ga4)" stroke="url(#ga4)"/>
<path d="M377.4 64.2 386.8 63.2 377.8 58.9z" fill="url(#ga5)" stroke="url(#ga5)"/>
<path d="M349.6 54.9 350 50.6 340.6 49z" fill="url(#ga6)" stroke="url(#ga6)"/>
<path d="M349.6 54.9 359 56.6 350 50.6z" fill="url(#ga7)" stroke="url(#ga7)"/>
<path d="M368 63.2 368.4 58.3 359 56.6z" fill="url(#ga8)" stroke="url(#ga8)"/>
<path d="M368 63.2 377.4 64.2 368.4 58.3z" fill="url(#ga9)" stroke="url(#ga9)"/>
<path d="M386.4 69.5 386.8 63.2 377.4 64.2z" fill="url(#gaa)" stroke="url(#gaa)"/>
<path d="M386.4 69.5 395.8 67.8 386.8 63.2z" fill="url(#gab)" stroke="url(#gab)"/>
<path d="M340.2 53.9 340.6 49 331.2 48.6z" fill="url(#gac)" stroke="url(#gac)"/>
<path d="M340.2 53.9 349.6 54.9 340.6 49z" fill="url(#gad)" stroke="url(#gad)"/>
<path d="M358.6 60.8 359 56.6 349.6 54.9z" fill="url(#gae)" stroke="url(#gae)"/>
<path d="M358.6 60.8 368 63.2 359 56.6z" fill="url(#gaf)" stroke="url(#gaf)"/>
<path d="M377 69.1 377.4 64.2 368 63.2z" fill="url(#gb0)" stroke="url(#gb0)"/>
<path d="M377 69.1 386.4 69.5 377.4 64.2z" fill="url(#gb1)" stroke="url(#gb1)"/>
<path d="M395.4 74.7 395.8 67.8 386.4 69.5z" fill="url(#gb2)" stroke="url(#gb2)"/>
<path d="M330.8 53.6 331.2 48.6 321.8 49z" fill="url(#gb3)" stroke="url(#gb3)"/>
<path d="M395.4 74.7 404.8 72.4 395.8 67.8z" fill="url(#gb4)" stroke="url(#gb4)"/>
<path d="M330.8 53.6 340.2 53.9 331.2 48.6z" fill="url(#gb5)" stroke="url(#gb5)"/>
<path d="M349.2 59.2 349.6 54.9 340.2 53.9z" fill="url(#gb6)" stroke="url(#gb6)"/>
<path d="M349.2 59.2 358.6 60.8 349.6 54.9z" fill="url(#gb7)" stroke="url(#gb7)"/>
<path d="M367.6 66.8 368 63.2 358.6 60.8z" fill="url(#gb8)" stroke="url(#gb8)"/>
<path d="M367.6 66.8 377 69.1 368 63.2z" fill="url(#gb9)" stroke="url(#gb9)"/>
<path d="M386 73.7 386.4 69.5 377 69.1z" fill="url(#gba)" stroke="url(#gba)"/>
<path d="M321.4 51.9 321.8 49 312.4 48z" fill="url(#gbb)" stroke="url(#gbb)"/>
<path d="M386 73.7 395.4 74.7 386.4 69.5z" fill="url(#gbc)" stroke="url(#gbc)"/>
<path d="M321.4 51.9 330.8 53.6 321.8 49z" fill="url(#gbd)" stroke="url(#gbd)"/>
<path d="M404.3 80.7 404.8 72.4 395.4 74.7z" fill="url(#gbe)" stroke="url(#gbe)"/>
<path d="M339.8 58.2 340.2 53.9 330.8 53.6z" fill="url(#gbf)" stroke="url(#gbf)"/>
<path d="M404.3 80.7 413.7 79 404.8 72.4z" fill="url(#gc0)" stroke="url(#gc0)"/>
<path d="M339.8 58.2 349.2 59.2 340.2 53.9z" fill="url(#gc1)" stroke="url(#gc1)"/>
<path d="M358.2 64.4 358.6 60.8 349.2 59.2z" fill="url(#gc2)" stroke="url(#gc2)"/>
<path d="M358.2 64.4 367.6 66.8 358.6 60.8z" fill="url(#gc3)" stroke="url(#gc3)"/>
<path d="M376.6 71.4 377 69.1 367.6 66.8z" fill="url(#gc4)" stroke="url(#gc4)"/>
<path d="M312 50.9 312.4 48 303 47.6z" fill="url(#gc5)" stroke="url(#gc5)"/>
<path d="M376.6 71.4 386 73.7 377 69.1z" fill="url(#gc6)" stroke="url(#gc6)"/>
<path d="M312 50.9 321.4 51.9 312.4 48z" fill="url(#gc7)" stroke="url(#gc7)"/>
<path d="M394.9 78.3 395.4 74.7 386 73.7z" fill="url(#gc8)" stroke="url(#gc8)"/>
<path d="M330.4 56.5 330.8 53.6 321.4 51.9z" fill="url(#gc9)" stroke="url(#gc9)"/>
<path d="M394.9 78.3 404.3 80.7 395.4 74.7z" fill="url(#gca)" stroke="url(#gca)"/>
<path d="M330.4 56.5 339.8 58.2 330.8 53.6z" fill="url(#gcb)" stroke="url(#gcb)"/>
<path d="M413.3 86 413.7 79 404.3 80.7z" fill="url(#gcc)" stroke="url(#gcc)"/>
<path d="M348.8 62.7 349.2 59.2 339.8 58.2z" fill="url(#gcd)" stroke="url(#gcd)"/>
<path d="M413.3 86 422.7 84.9 413.7 79z" fill="url(#gce)" stroke="url(#gce)"/>
<path d="M348.8 62.7 358.2 64.4 349.2 59.2z" fill="url(#gcf)" stroke="url(#gcf)"/>
<path d="M302.6 50.6 303 47.6 293.6 47.3z" fill="url(#gd0)" stroke="url(#gd0)"/>
<path d="M367.2 67.7 367.6 66.8 358.2 64.4z" fill="url(#gd1)" stroke="url(#gd1)"/>
<path d="M302.6 50.6 312 50.9 303 47.6z" fill="url(#gd2)" stroke="url(#gd2)"/>
<path d="M367.2 67.7 376.6 71.4 367.6 66.8z" fill="url(#gd3)" stroke="url(#gd3)"/>
<path d="M385.5 75.3 386 73.7 376.6 71.4z" fill="url(#gd4)" stroke="url(#gd4)"/>
<path d="M321 54.1 321.4 51.9 312 50.9z" fill="url(#gd5)" stroke="url(#gd5)"/>
<path d="M385.5 75.3 394.9 78.3 386 73.7z" fill="url(#gd6)" stroke="url(#gd6)"/>
<path d="M321 54.1 330.4 56.5 321.4 51.9z" fill="url(#gd7)" stroke="url(#gd7)"/>
<path d="M403.9 83.6 404.3 80.7 394.9 78.3z" fill="url(#gd8)" stroke="url(#gd8)"/>
<path d="M403.9 83.6 413.3 86 404.3 80.7z" fill="url(#gd9)" stroke="url(#gd9)"/>
<path d="M339.4 59.7 339.8 58.2 330.4 56.5z" fill="url(#gda)" stroke="url(#gda)"/>
<path d="M339.4 59.7 348.8 62.7 339.8 58.2z" fill="url(#gdb)" stroke="url(#gdb)"/>
<path d="M293.2 50.9 293.6 47.3 284.2 47.7z" fill="url(#gdc)" stroke="url(#gdc)"/>
<path d="M422.3 90.5 422.7 84.9 413.3 86z" fill="url(#gdd)" stroke="url(#gdd)"/>
<path d="M422.3 90.5 431.7 91.5 422.7 84.9z" fill="url(#gde)" stroke="url(#gde)"/>
<path d="M293.2 50.9 302.6 50.6 293.6 47.3z" fill="url(#gdf)" stroke="url(#gdf)"/>
<path d="M357.8 65.3 358.2 64.4 348.8 62.7z" fill="url(#ge0)" stroke="url(#ge0)"/>
<path d="M357.8 65.3 367.2 67.7 358.2 64.4z" fill="url(#ge1)" stroke="url(#ge1)"/>
<path d="M311.6 52.4 312 50.9 302.6 50.6z" fill="url(#ge2)" stroke="url(#ge2)"/>
<path d="M376.1 70.9 376.6 71.4 367.2 67.7z" fill="url(#ge3)" stroke="url(#ge3)"/>
<path d="M376.1 70.9 385.5 75.3 376.6 71.4z" fill="url(#ge4)" stroke="url(#ge4)"/>
<path d="M311.6 52.4 321 54.1 312 50.9z" fill="url(#ge5)" stroke="url(#ge5)"/>
<path d="M394.5 79.2 394.9 78.3 385.5 75.3z" fill="url(#ge6)" stroke="url(#ge6)"/>
<path d="M394.5 79.2 403.9 83.6 394.9 78.3z" fill="url(#ge7)" stroke="url(#ge7)"/>
<path d="M330 56.7 330.4 56.5 321 54.1z" fill="url(#ge8)" stroke="url(#ge8)"/>
<path d="M283.8 50.6 284.2 47.7 274.8 47.9z" fill="url(#ge9)" stroke="url(#ge9)"/>
<path d="M330 56.7 339.4 59.7 330.4 56.5z" fill="url(#gea)" stroke="url(#gea)"/>
<path d="M412.9 87.5 413.3 86 403.9 83.6z" fill="url(#geb)" stroke="url(#geb)"/>
<path d="M283.8 50.6 293.2 50.9 284.2 47.7z" fill="url(#gec)" stroke="url(#gec)"/>
<path d="M412.9 87.5 422.3 90.5 413.3 86z" fill="url(#ged)" stroke="url(#ged)"/>
<path d="M348.4 61.6 348.8 62.7 339.4 59.7z" fill="url(#gee)" stroke="url(#gee)"/>
<path d="M431.3 94.5 431.7 91.5 422.3 90.5z" fill="url(#gef)" stroke="url(#gef)"/>
<path d="M348.4 61.6 357.8 65.3 348.8 62.7z" fill="url(#gf0)" stroke="url(#gf0)"/>
<path d="M302.2 52.4 302.6 50.6 293.2 50.9z" fill="url(#gf1)" stroke="url(#gf1)"/>
<path d="M431.3 94.5 440.7 97.1 431.7 91.5z" fill="url(#gf2)" stroke="url(#gf2)"/>
<path d="M366.7 67.9 367.2 67.7 357.8 65.3z" fill="url(#gf3)" stroke="url(#gf3)"/>
<path d="M302.2 52.4 311.6 52.4 302.6 50.6z" fill="url(#gf4)" stroke="url(#gf4)"/>
<path d="M366.7 67.9 376.1 70.9 367.2 67.7z" fill="url(#gf5)" stroke="url(#gf5)"/>
<path d="M385.1 74.8 385.5 75.3 376.1 70.9z" fill="url(#gf6)" stroke="url(#gf6)"/>
<path d="M320.6 54.3 321 54.1 311.6 52.4z" fill="url(#gf7)" stroke="url(#gf7)"/>
<path d="M385.1 74.8 394.5 79.2 385.5 75.3z" fill="url(#gf8)" stroke="url(#gf8)"/>
<path d="M320.6 54.3 330 56.7 321 54.1z" fill="url(#gf9)" stroke="url(#gf9)"/>
<path d="M403.5 83.1 403.9 83.6 394.5 79.2z" fill="url(#gfa)" stroke="url(#gfa)"/>
<path d="M403.5 83.1 412.9 87.5 403.9 83.6z" fill="url(#gfb)" stroke="url(#gfb)"/>
<path d="M338.9 58.6 339.4 59.7 330 56.7z" fill="url(#gfc)" stroke="url(#gfc)"/>
<path d="M292.8 53.8 293.2 50.9 283.8 50.6z" fill="url(#gfd)" stroke="url(#gfd)"/>
<path d="M421.9 91.4 422.3 90.5 412.9 87.5z" fill="url(#gfe)" stroke="url(#gfe)"/>
<path d="M338.9 58.6 348.4 61.6 339.4 59.7z" fill="url(#gff)" stroke="url(#gff)"/>
<path d="M421.9 91.4 431.3 94.5 422.3 90.5z" fill="url(#g100)" stroke="url(#g100)"/>
<path d="M292.8 53.8 302.2 52.4 293.2 50.9z" fill="url(#g101)" stroke="url(#g101)"/>
<path d="M357.3 63.5 357.8 65.3 348.4 61.6z" fill="url(#g102)" stroke="url(#g102)"/>
<path d="M357.3 63.5 366.7 67.9 357.8 65.3z" fill="url(#g103)" stroke="url(#g103)"/>
<path d="M311.2 55.3 311.6 52.4 302.2 52.4z" fill="url(#g104)" stroke="url(#g104)"/>
<path d="M375.7 70.4 376.1 70.9 366.7 67.9z" fill="url(#g105)" stroke="url(#g105)"/>
<path d="M311.2 55.3 320.6 54.3 311.6 52.4z" fill="url(#g106)" stroke="url(#g106)"/>
<path d="M375.7 70.4 385.1 74.8 376.1 70.9z" fill="url(#g107)" stroke="url(#g107)"/>
<path d="M394.1 78.7 394.5 79.2 385.1 74.8z" fill="url(#g108)" stroke="url(#g108)"/>
<path d="M394.1 78.7 403.5 83.1 394.5 79.2z" fill="url(#g109)" stroke="url(#g109)"/>
<path d="M329.6 56.9 330 56.7 320.6 54.3z" fill="url(#g10a)" stroke="url(#g10a)"/>
<path d="M329.6 56.9 338.9 58.6 330 56.7z" fill="url(#g10b)" stroke="url(#g10b)"/>
<path d="M412.5 86.9 412.9 87.5 403.5 83.1z" fill="url(#g10c)" stroke="url(#g10c)"/>
<path d="M412.5 86.9 421.9 91.4 412.9 87.5z" fill="url(#g10d)" stroke="url(#g10d)"/>
<path d="M301.8 57.3 302.2 52.4 292.8 53.8z" fill="url(#g10e)" stroke="url(#g10e)"/>
<path d="M347.9 60.4 348.4 61.6 338.9 58.6z" fill="url(#g10f)" stroke="url(#g10f)"/>
<path d="M347.9 60.4 357.3 63.5 348.4 61.6z" fill="url(#g110)" stroke="url(#g110)"/>
<path d="M301.8 57.3 311.2 55.3 302.2 52.4z" fill="url(#g111)" stroke="url(#g111)"/>
<path d="M366.3 66 366.7 67.9 357.3 63.5z" fill="url(#g112)" stroke="url(#g112)"/>
<path d="M366.3 66 375.7 70.4 366.7 67.9z" fill="url(#g113)" stroke="url(#g113)"/>
<path d="M320.2 58.6 320.6 54.3 311.2 55.3z" fill="url(#g114)" stroke="url(#g114)"/>
<path d="M384.7 73.7 385.1 74.8 375.7 70.4z" fill="url(#g115)" stroke="url(#g115)"/>
<path d="M320.2 58.6 329.6 56.9 320.6 54.3z" fill="url(#g116)" stroke="url(#g116)"/>
<path d="M384.7 73.7 394.1 78.7 385.1 74.8z" fill="url(#g117)" stroke="url(#g117)"/>
<path d="M403.1 82.6 403.5 83.1 394.1 78.7z" fill="url(#g118)" stroke="url(#g118)"/>
<path d="M403.1 82.6 412.5 86.9 403.5 83.1z" fill="url(#g119)" stroke="url(#g119)"/>
<path d="M338.5 60.1 338.9 58.6 329.6 56.9z" fill="url(#g11a)" stroke="url(#g11a)"/>
<path d="M338.5 60.1 347.9 60.4 338.9 58.6z" fill="url(#g11b)" stroke="url(#g11b)"/>
<path d="M310.8 60.8 311.2 55.3 301.8 57.3z" fill="url(#g11c)" stroke="url(#g11c)"/>
<path d="M356.9 62.3 357.3 63.5 347.9 60.4z" fill="url(#g11d)" stroke="url(#g11d)"/>
<path d="M310.8 60.8 320.2 58.6 311.2 55.3z" fill="url(#g11e)" stroke="url(#g11e)"/>
<path d="M356.9 62.3 366.3 66 357.3 63.5z" fill="url(#g11f)" stroke="url(#g11f)"/>
<path d="M375.3 67.9 375.7 70.4 366.3 66z" fill="url(#g120)" stroke="url(#g120)"/>
<path d="M375.3 67.9 384.7 73.7 375.7 70.4z" fill="url(#g121)" stroke="url(#g121)"/>
<path d="M329.1 62.2 329.6 56.9 320.2 58.6z" fill="url(#g122)" stroke="url(#g122)"/>
<path d="M393.7 78.2 394.1 78.7 384.7 73.7z" fill="url(#g123)" stroke="url(#g123)"/>
<path d="M393.7 78.2 403.1 82.6 394.1 78.7z" fill="url(#g124)" stroke="url(#g124)"/>
<path d="M329.1 62.2 338.5 60.1 329.6 56.9z" fill="url(#g125)" stroke="url(#g125)"/>
<path d="M347.5 63.8 347.9 60.4 338.5 60.1z" fill="url(#g126)" stroke="url(#g126)"/>
<path d="M347.5 63.8 356.9 62.3 347.9 60.4z" fill="url(#g127)" stroke="url(#g127)"/>
<path d="M319.7 64.6 320.2 58.6 310.8 60.8z" fill="#f8fa12" stroke="#f8fa12"/>
<path d="M365.9 66.2 366.3 66 356.9 62.3z" fill="url(#g128)" stroke="url(#g128)"/>
<path d="M319.7 64.6 329.1 62.2 320.2 58.6z" fill="#f9fa13" stroke="#f9fa13"/>
<path d="M365.9 66.2 375.3 67.9 366.3 66z" fill="url(#g129)" stroke="url(#g129)"/>
<path d="M384.3 73.9 384.7 73.7 375.3 67.9z" fill="url(#g12a)" stroke="url(#g12a)"/>
<path d="M384.3 73.9 393.7 78.2 384.7 73.7z" fill="url(#g12b)" stroke="url(#g12b)"/>
<path d="M338.1 66 338.5 60.1 329.1 62.2z" fill="url(#g12c)" stroke="url(#g12c)"/>
<path d="M338.1 66 347.5 63.8 338.5 60.1z" fill="url(#g12d)" stroke="url(#g12d)"/>
<path d="M356.5 67.9 356.9 62.3 347.5 63.8z" fill="url(#g12e)" stroke="url(#g12e)"/>
<path d="M356.5 67.9 365.9 66.2 356.9 62.3z" fill="url(#g12f)" stroke="url(#g12f)"/>
<path d="M328.7 68.8 329.1 62.2 319.7 64.6z" fill="#f9fa13" stroke="#f9fa13"/>
<path d="M374.9 71.9 375.3 67.9 365.9 66.2z" fill="url(#g130)" stroke="url(#g130)"/>
<path d="M328.7 68.8 338.1 66 329.1 62.2z" fill="url(#g131)" stroke="url(#g131)"/>
<path d="M374.9 71.9 384.3 73.9 375.3 67.9z" fill="url(#g132)" stroke="url(#g132)"/>
<path d="M347.1 71 347.5 63.8 338.1 66z" fill="url(#g133)" stroke="url(#g133)"/>
<path d="M347.1 71 356.5 67.9 347.5 63.8z" fill="url(#g134)" stroke="url(#g134)"/>
<path d="M365.5 73.1 365.9 66.2 356.5 67.9z" fill="url(#g135)" stroke="url(#g135)"/>
<path d="M365.5 73.1 374.9 71.9 365.9 66.2z" fill="url(#g136)" stroke="url(#g136)"/>
<path d="M337.7 77.8 338.1 66 328.7 68.8z" fill="url(#g137)" stroke="url(#g137)"/>
<path d="M337.7 77.8 347.1 71 338.1 66z" fill="url(#g138)" stroke="url(#g138)"/>
<path d="M356.1 78.3 356.5 67.9 347.1 71z" fill="url(#g139)" stroke="url(#g139)"/>
<path d="M356.1 78.3 365.5 73.1 356.5 67.9z" fill="url(#g13a)" stroke="url(#g13a)"/>
<path d="M346.7 88.3 347.1 71 337.7 77.8z" fill="url(#g13b)" stroke="url(#g13b)"/>
<path d="M346.7 88.3 356.1 78.3 347.1 71z" fill="url(#g13c)" stroke="url(#g13c)"/>
<line x1="274.80" y1="92.70" x2="274.80" y2="25.00" stroke="#3a3a3a" stroke-width="0.7" />
<line x1="274.80" y1="92.70" x2="346.70" y2="124.00" stroke="#3a3a3a" stroke-width="0.7" />
<line x1="346.70" y1="124.00" x2="440.70" y2="100.20" stroke="#3a3a3a" stroke-width="0.7" />
<line x1="274.80" y1="92.70" x2="272.60" y2="91.74" stroke="#3a3a3a" stroke-width="0.7" />
<line x1="274.80" y1="79.16" x2="272.60" y2="78.20" stroke="#3a3a3a" stroke-width="0.7" />
<line x1="274.80" y1="65.62" x2="272.60" y2="64.66" stroke="#3a3a3a" stroke-width="0.7" />
<line x1="274.80" y1="52.08" x2="272.60" y2="51.12" stroke="#3a3a3a" stroke-width="0.7" />
<line x1="274.80" y1="38.54" x2="272.60" y2="37.58" stroke="#3a3a3a" stroke-width="0.7" />
<line x1="274.80" y1="25.00" x2="272.60" y2="24.04" stroke="#3a3a3a" stroke-width="0.7" />
<line x1="346.70" y1="124.00" x2="344.37" y2="124.59" stroke="#3a3a3a" stroke-width="0.7" />
<line x1="328.73" y1="116.17" x2="326.40" y2="116.76" stroke="#3a3a3a" stroke-width="0.7" />
<line x1="310.75" y1="108.35" x2="308.42" y2="108.94" stroke="#3a3a3a" stroke-width="0.7" />
<line x1="292.78" y1="100.53" x2="290.45" y2="101.11" stroke="#3a3a3a" stroke-width="0.7" />
<line x1="274.80" y1="92.70" x2="272.47" y2="93.29" stroke="#3a3a3a" stroke-width="0.7" />
<line x1="346.70" y1="124.00" x2="348.90" y2="124.96" stroke="#3a3a3a" stroke-width="0.7" />
<line x1="370.20" y1="118.05" x2="372.40" y2="119.01" stroke="#3a3a3a" stroke-width="0.7" />
<line x1="393.70" y1="112.10" x2="395.90" y2="113.06" stroke="#3a3a3a" stroke-width="0.7" />
<line x1="417.20" y1="106.15" x2="419.40" y2="107.11" stroke="#3a3a3a" stroke-width="0.7" />
<line x1="440.70" y1="100.20" x2="442.90" y2="101.16" stroke="#3a3a3a" stroke-width="0.7" />
<circle cx="338.12" cy="66.00" r="3.1" fill="#ff0000" clip-path="url(#k1)"/>
<text transform="translate(269.20,91.60)" text-anchor="end" dominant-baseline="central" class="tk">0.5</text>
<text transform="translate(269.20,78.06)" text-anchor="end" dominant-baseline="central" class="tk">0.6</text>
<text transform="translate(269.20,64.52)" text-anchor="end" dominant-baseline="central" class="tk">0.7</text>
<text transform="translate(269.20,50.98)" text-anchor="end" dominant-baseline="central" class="tk">0.8</text>
<text transform="translate(269.20,37.44)" text-anchor="end" dominant-baseline="central" class="tk">0.9</text>
<text transform="translate(269.20,23.90)" text-anchor="end" dominant-baseline="central" class="tk">1</text>
<text transform="translate(336.20,134.20)" text-anchor="middle" dominant-baseline="central" class="tk">0</text>
<text transform="translate(318.23,126.38)" text-anchor="middle" dominant-baseline="central" class="tk">1</text>
<text transform="translate(300.25,118.55)" text-anchor="middle" dominant-baseline="central" class="tk">2</text>
<text transform="translate(282.28,110.73)" text-anchor="middle" dominant-baseline="central" class="tk">3</text>
<text transform="translate(264.30,102.90)" text-anchor="middle" dominant-baseline="central" class="tk">4</text>
<text transform="translate(352.10,126.80) rotate(70)" dominant-baseline="central" class="tk">-1</text>
<text transform="translate(375.60,120.85) rotate(70)" dominant-baseline="central" class="tk">-0.5</text>
<text transform="translate(399.10,114.90) rotate(70)" dominant-baseline="central" class="tk">0</text>
<text transform="translate(422.60,108.95) rotate(70)" dominant-baseline="central" class="tk">0.5</text>
<text transform="translate(446.10,103.00) rotate(70)" dominant-baseline="central" class="tk">1</text>
<text transform="translate(238.40,59.00) rotate(-90) scale(1.29,1)" text-anchor="middle" dominant-baseline="central" class="lab">DI</text>
<text transform="translate(295.00,142.50) scale(1.15,1)" text-anchor="middle" dominant-baseline="central" class="lab">SF</text>
<text transform="translate(419.20,153.30) scale(1.29,1)" text-anchor="middle" dominant-baseline="central" class="lab">CB</text>
<text transform="translate(328.73,41.40) scale(1.090,1)" class="an ai">DI</text>
<text transform="translate(343.73,43.20) scale(1.100,1)" class="an as">max</text>
<path d="M365.43 36.80h7.6M365.43 39.70h7.6" stroke="#000" stroke-width="0.85" fill="none"/>
<text transform="translate(377.93,41.40) scale(0.950,1)" class="an">0.853</text>
<text x="328.23" y="56.40" class="an">at</text>
<text x="343.43" y="56.40" class="an">(</text>
<text transform="translate(347.06,56.40) scale(1.270,1)" class="an">−</text>
<text x="357.33" y="56.40" class="an">0.8,</text>
<text x="380.73" y="56.40" class="an">1.0)</text>
<text x="346.50" y="176.60" text-anchor="middle" class="cap"><tspan class="capb">(b)</tspan> Chan-Vese, 15 iterations</text>
<line x1="579.00" y1="124.00" x2="507.10" y2="92.70" stroke="#d4d4d4" stroke-width="0.6" />
<line x1="602.50" y1="118.05" x2="530.60" y2="86.75" stroke="#d4d4d4" stroke-width="0.6" />
<line x1="626.00" y1="112.10" x2="554.10" y2="80.80" stroke="#d4d4d4" stroke-width="0.6" />
<line x1="649.50" y1="106.15" x2="577.60" y2="74.85" stroke="#d4d4d4" stroke-width="0.6" />
<line x1="673.00" y1="100.20" x2="601.10" y2="68.90" stroke="#d4d4d4" stroke-width="0.6" />
<line x1="579.00" y1="124.00" x2="673.00" y2="100.20" stroke="#d4d4d4" stroke-width="0.6" />
<line x1="561.03" y1="116.17" x2="655.03" y2="92.38" stroke="#d4d4d4" stroke-width="0.6" />
<line x1="543.05" y1="108.35" x2="637.05" y2="84.55" stroke="#d4d4d4" stroke-width="0.6" />
<line x1="525.08" y1="100.53" x2="619.08" y2="76.72" stroke="#d4d4d4" stroke-width="0.6" />
<line x1="507.10" y1="92.70" x2="601.10" y2="68.90" stroke="#d4d4d4" stroke-width="0.6" />
<line x1="507.10" y1="92.70" x2="601.10" y2="68.90" stroke="#d4d4d4" stroke-width="0.6" />
<line x1="507.10" y1="79.16" x2="601.10" y2="55.36" stroke="#d4d4d4" stroke-width="0.6" />
<line x1="507.10" y1="65.62" x2="601.10" y2="41.82" stroke="#d4d4d4" stroke-width="0.6" />
<line x1="507.10" y1="52.08" x2="601.10" y2="28.28" stroke="#d4d4d4" stroke-width="0.6" />
<line x1="507.10" y1="38.54" x2="601.10" y2="14.74" stroke="#d4d4d4" stroke-width="0.6" />
<line x1="507.10" y1="25.00" x2="601.10" y2="1.20" stroke="#d4d4d4" stroke-width="0.6" />
<line x1="530.60" y1="86.75" x2="530.60" y2="19.05" stroke="#d4d4d4" stroke-width="0.6" />
<line x1="554.10" y1="80.80" x2="554.10" y2="13.10" stroke="#d4d4d4" stroke-width="0.6" />
<line x1="577.60" y1="74.85" x2="577.60" y2="7.15" stroke="#d4d4d4" stroke-width="0.6" />
<line x1="601.10" y1="68.90" x2="601.10" y2="1.20" stroke="#d4d4d4" stroke-width="0.6" />
<line x1="601.10" y1="68.90" x2="673.00" y2="100.20" stroke="#d4d4d4" stroke-width="0.6" />
<line x1="601.10" y1="55.36" x2="673.00" y2="86.66" stroke="#d4d4d4" stroke-width="0.6" />
<line x1="601.10" y1="41.82" x2="673.00" y2="73.12" stroke="#d4d4d4" stroke-width="0.6" />
<line x1="601.10" y1="28.28" x2="673.00" y2="59.58" stroke="#d4d4d4" stroke-width="0.6" />
<line x1="601.10" y1="14.74" x2="673.00" y2="46.04" stroke="#d4d4d4" stroke-width="0.6" />
<line x1="601.10" y1="1.20" x2="673.00" y2="32.50" stroke="#d4d4d4" stroke-width="0.6" />
<line x1="673.00" y1="100.20" x2="673.00" y2="32.50" stroke="#d4d4d4" stroke-width="0.6" />
<line x1="655.03" y1="92.38" x2="655.03" y2="24.67" stroke="#d4d4d4" stroke-width="0.6" />
<line x1="637.05" y1="84.55" x2="637.05" y2="16.85" stroke="#d4d4d4" stroke-width="0.6" />
<line x1="619.08" y1="76.72" x2="619.08" y2="9.02" stroke="#d4d4d4" stroke-width="0.6" />
<line x1="516.50" y1="52.03" x2="516.50" y2="90.32" stroke="#111" stroke-width="1.1" stroke-dasharray="3.5 2.95"/>
<line x1="516.50" y1="90.32" x2="588.40" y2="121.62" stroke="#111" stroke-width="1.1" stroke-dasharray="3.5 2.95"/>
<line x1="516.50" y1="90.32" x2="507.10" y2="92.70" stroke="#111" stroke-width="1.1" stroke-dasharray="3.5 2.95"/>
<path d="M600.7 67.1 601.1 61.6 591.7 60.4z" fill="url(#g13d)" stroke="url(#g13d)"/>
<path d="M600.7 67.1 610.1 65.8 601.1 61.6z" fill="url(#g13e)" stroke="url(#g13e)"/>
<path d="M591.3 66.7 591.7 60.4 582.3 60.1z" fill="url(#g13f)" stroke="url(#g13f)"/>
<path d="M591.3 66.7 600.7 67.1 591.7 60.4z" fill="url(#g140)" stroke="url(#g140)"/>
<path d="M609.7 71.7 610.1 65.8 600.7 67.1z" fill="url(#g141)" stroke="url(#g141)"/>
<path d="M609.7 71.7 619.1 70 610.1 65.8z" fill="url(#g142)" stroke="url(#g142)"/>
<path d="M581.9 66.4 582.3 60.1 572.9 59.1z" fill="url(#g143)" stroke="url(#g143)"/>
<path d="M581.9 66.4 591.3 66.7 582.3 60.1z" fill="url(#g144)" stroke="url(#g144)"/>
<path d="M600.3 72 600.7 67.1 591.3 66.7z" fill="url(#g145)" stroke="url(#g145)"/>
<path d="M600.3 72 609.7 71.7 600.7 67.1z" fill="url(#g146)" stroke="url(#g146)"/>
<path d="M618.7 76.2 619.1 70 609.7 71.7z" fill="url(#g147)" stroke="url(#g147)"/>
<path d="M618.7 76.2 628.1 74.3 619.1 70z" fill="#4851f3" stroke="#4851f3"/>
<path d="M572.5 66.1 572.9 59.1 563.5 58.1z" fill="url(#g148)" stroke="url(#g148)"/>
<path d="M572.5 66.1 581.9 66.4 572.9 59.1z" fill="url(#g149)" stroke="url(#g149)"/>
<path d="M590.9 73 591.3 66.7 581.9 66.4z" fill="url(#g14a)" stroke="url(#g14a)"/>
<path d="M590.9 73 600.3 72 591.3 66.7z" fill="url(#g14b)" stroke="url(#g14b)"/>
<path d="M609.3 76.6 609.7 71.7 600.3 72z" fill="url(#g14c)" stroke="url(#g14c)"/>
<path d="M609.3 76.6 618.7 76.2 609.7 71.7z" fill="url(#g14d)" stroke="url(#g14d)"/>
<path d="M563.1 61.7 563.5 58.1 554.1 56.4z" fill="url(#g14e)" stroke="url(#g14e)"/>
<path d="M563.1 61.7 572.5 66.1 563.5 58.1z" fill="url(#g14f)" stroke="url(#g14f)"/>
<path d="M627.7 74.7 628.1 74.3 618.7 76.2z" fill="url(#g150)" stroke="url(#g150)"/>
<path d="M581.5 72.7 581.9 66.4 572.5 66.1z" fill="url(#g151)" stroke="url(#g151)"/>
<path d="M581.5 72.7 590.9 73 581.9 66.4z" fill="url(#g152)" stroke="url(#g152)"/>
<path d="M627.7 74.7 637 72 628.1 74.3z" fill="url(#g153)" stroke="url(#g153)"/>
<path d="M599.9 76.9 600.3 72 590.9 73z" fill="url(#g154)" stroke="url(#g154)"/>
<path d="M599.9 76.9 609.3 76.6 600.3 72z" fill="url(#g155)" stroke="url(#g155)"/>
<path d="M618.2 77.1 618.7 76.2 609.3 76.6z" fill="url(#g156)" stroke="url(#g156)"/>
<path d="M553.7 51.9 554.1 56.4 544.7 50.7z" fill="url(#g157)" stroke="url(#g157)"/>
<path d="M553.7 51.9 563.1 61.7 554.1 56.4z" fill="url(#g158)" stroke="url(#g158)"/>
<path d="M618.2 77.1 627.7 74.7 618.7 76.2z" fill="url(#g159)" stroke="url(#g159)"/>
<path d="M572.1 67 572.5 66.1 563.1 61.7z" fill="url(#g15a)" stroke="url(#g15a)"/>
<path d="M572.1 67 581.5 72.7 572.5 66.1z" fill="url(#g15b)" stroke="url(#g15b)"/>
<path d="M590.5 76.6 590.9 73 581.5 72.7z" fill="url(#g15c)" stroke="url(#g15c)"/>
<path d="M590.5 76.6 599.9 76.9 590.9 73z" fill="url(#g15d)" stroke="url(#g15d)"/>
<path d="M636.6 75.9 637 72 627.7 74.7z" fill="url(#g15e)" stroke="url(#g15e)"/>
<path d="M608.9 79.5 609.3 76.6 599.9 76.9z" fill="url(#g15f)" stroke="url(#g15f)"/>
<path d="M636.6 75.9 646 73.6 637 72z" fill="url(#g160)" stroke="url(#g160)"/>
<path d="M608.9 79.5 618.2 77.1 609.3 76.6z" fill="url(#g161)" stroke="url(#g161)"/>
<path d="M544.3 48.9 544.7 50.7 535.3 45.6z" fill="url(#g162)" stroke="url(#g162)"/>
<path d="M544.3 48.9 553.7 51.9 544.7 50.7z" fill="url(#g163)" stroke="url(#g163)"/>
<path d="M627.2 79.7 627.7 74.7 618.2 77.1z" fill="url(#g164)" stroke="url(#g164)"/>
<path d="M581.1 70.9 581.5 72.7 572.1 67z" fill="url(#g165)" stroke="url(#g165)"/>
<path d="M562.7 54.4 572.1 67 563.1 61.7z" fill="url(#g166)" stroke="url(#g166)"/>
<path d="M562.7 54.4 563.1 61.7 553.7 51.9z" fill="url(#g167)" stroke="url(#g167)"/>
<path d="M581.1 70.9 590.5 76.6 581.5 72.7z" fill="url(#g168)" stroke="url(#g168)"/>
<path d="M627.2 79.7 636.6 75.9 627.7 74.7z" fill="url(#g169)" stroke="url(#g169)"/>
<path d="M599.5 79.2 599.9 76.9 590.5 76.6z" fill="url(#g16a)" stroke="url(#g16a)"/>
<path d="M599.5 79.2 608.9 79.5 599.9 76.9z" fill="url(#g16b)" stroke="url(#g16b)"/>
<path d="M645.6 77.8 646 73.6 636.6 75.9z" fill="url(#g16c)" stroke="url(#g16c)"/>
<path d="M534.9 49.9 535.3 45.6 525.9 46z" fill="url(#g16d)" stroke="url(#g16d)"/>
<path d="M617.8 82.1 618.2 77.1 608.9 79.5z" fill="url(#g16e)" stroke="url(#g16e)"/>
<path d="M645.6 77.8 655 74.2 646 73.6z" fill="url(#g16f)" stroke="url(#g16f)"/>
<path d="M534.9 49.9 544.3 48.9 535.3 45.6z" fill="url(#g170)" stroke="url(#g170)"/>
<path d="M617.8 82.1 627.2 79.7 618.2 77.1z" fill="url(#g171)" stroke="url(#g171)"/>
<path d="M553.3 52.8 553.7 51.9 544.3 48.9z" fill="url(#g172)" stroke="url(#g172)"/>
<path d="M553.3 52.8 562.7 54.4 553.7 51.9z" fill="url(#g173)" stroke="url(#g173)"/>
<path d="M571.7 56.3 581.1 70.9 572.1 67z" fill="url(#g174)" stroke="url(#g174)"/>
<path d="M590.1 73.4 590.5 76.6 581.1 70.9z" fill="url(#g175)" stroke="url(#g175)"/>
<path d="M636.2 82.2 636.6 75.9 627.2 79.7z" fill="url(#g176)" stroke="url(#g176)"/>
<path d="M571.7 56.3 572.1 67 562.7 54.4z" fill="url(#g177)" stroke="url(#g177)"/>
<path d="M590.1 73.4 599.5 79.2 590.5 76.6z" fill="url(#g178)" stroke="url(#g178)"/>
<path d="M636.2 82.2 645.6 77.8 636.6 75.9z" fill="url(#g179)" stroke="url(#g179)"/>
<path d="M525.5 51.6 525.9 46 516.5 47.5z" fill="url(#g17a)" stroke="url(#g17a)"/>
<path d="M608.4 81.7 608.9 79.5 599.5 79.2z" fill="url(#g17b)" stroke="url(#g17b)"/>
<path d="M525.5 51.6 534.9 49.9 525.9 46z" fill="url(#g17c)" stroke="url(#g17c)"/>
<path d="M608.4 81.7 617.8 82.1 608.9 79.5z" fill="url(#g17d)" stroke="url(#g17d)"/>
<path d="M654.6 79.7 655 74.2 645.6 77.8z" fill="url(#g17e)" stroke="url(#g17e)"/>
<path d="M543.9 53.8 544.3 48.9 534.9 49.9z" fill="url(#g17f)" stroke="url(#g17f)"/>
<path d="M626.8 84.6 627.2 79.7 617.8 82.1z" fill="url(#g180)" stroke="url(#g180)"/>
<path d="M543.9 53.8 553.3 52.8 544.3 48.9z" fill="url(#g181)" stroke="url(#g181)"/>
<path d="M654.6 79.7 664 74.6 655 74.2z" fill="url(#g182)" stroke="url(#g182)"/>
<path d="M626.8 84.6 636.2 82.2 627.2 79.7z" fill="url(#g183)" stroke="url(#g183)"/>
<path d="M516.1 54.6 516.5 47.5 507.1 51.7z" fill="url(#g184)" stroke="url(#g184)"/>
<path d="M562.3 56 562.7 54.4 553.3 52.8z" fill="url(#g185)" stroke="url(#g185)"/>
<path d="M516.1 54.6 525.5 51.6 516.5 47.5z" fill="url(#g186)" stroke="url(#g186)"/>
<path d="M562.3 56 571.7 56.3 562.7 54.4z" fill="url(#g187)" stroke="url(#g187)"/>
<path d="M580.6 59.6 590.1 73.4 581.1 70.9z" fill="url(#g188)" stroke="url(#g188)"/>
<path d="M645.2 86.2 645.6 77.8 636.2 82.2z" fill="url(#g189)" stroke="url(#g189)"/>
<path d="M599 76 599.5 79.2 590.1 73.4z" fill="url(#g18a)" stroke="url(#g18a)"/>
<path d="M580.6 59.6 581.1 70.9 571.7 56.3z" fill="url(#g18b)" stroke="url(#g18b)"/>
<path d="M599 76 608.4 81.7 599.5 79.2z" fill="url(#g18c)" stroke="url(#g18c)"/>
<path d="M534.5 56.2 534.9 49.9 525.5 51.6z" fill="url(#g18d)" stroke="url(#g18d)"/>
<path d="M645.2 86.2 654.6 79.7 645.6 77.8z" fill="url(#g18e)" stroke="url(#g18e)"/>
<path d="M617.4 84.3 617.8 82.1 608.4 81.7z" fill="url(#g18f)" stroke="url(#g18f)"/>
<path d="M534.5 56.2 543.9 53.8 534.9 49.9z" fill="#fccd1b" stroke="#fccd1b"/>
<path d="M617.4 84.3 626.8 84.6 617.8 82.1z" fill="url(#g190)" stroke="url(#g190)"/>
<path d="M552.9 57.7 553.3 52.8 543.9 53.8z" fill="url(#g191)" stroke="url(#g191)"/>
<path d="M663.6 85 664 74.6 654.6 79.7z" fill="url(#g192)" stroke="url(#g192)"/>
<path d="M635.8 86.5 636.2 82.2 626.8 84.6z" fill="url(#g193)" stroke="url(#g193)"/>
<path d="M552.9 57.7 562.3 56 553.3 52.8z" fill="url(#g194)" stroke="url(#g194)"/>
<path d="M663.6 85 673 75.4 664 74.6z" fill="url(#g195)" stroke="url(#g195)"/>
<path d="M525.1 59.2 525.5 51.6 516.1 54.6z" fill="url(#g196)" stroke="url(#g196)"/>
<path d="M635.8 86.5 645.2 86.2 636.2 82.2z" fill="url(#g197)" stroke="url(#g197)"/>
<path d="M571.2 59.9 571.7 56.3 562.3 56z" fill="url(#g198)" stroke="url(#g198)"/>
<path d="M525.1 59.2 534.5 56.2 525.5 51.6z" fill="url(#g199)" stroke="url(#g199)"/>
<path d="M571.2 59.9 580.6 59.6 571.7 56.3z" fill="url(#g19a)" stroke="url(#g19a)"/>
<path d="M589.6 62.8 599 76 590.1 73.4z" fill="url(#g19b)" stroke="url(#g19b)"/>
<path d="M654.2 90.1 654.6 79.7 645.2 86.2z" fill="url(#g19c)" stroke="url(#g19c)"/>
<path d="M589.6 62.8 590.1 73.4 580.6 59.6z" fill="url(#g19d)" stroke="url(#g19d)"/>
<path d="M608 78.5 608.4 81.7 599 76z" fill="url(#g19e)" stroke="url(#g19e)"/>
<path d="M608 78.5 617.4 84.3 608.4 81.7z" fill="url(#g19f)" stroke="url(#g19f)"/>
<path d="M543.5 60.8 543.9 53.8 534.5 56.2z" fill="url(#g1a0)" stroke="url(#g1a0)"/>
<path d="M654.2 90.1 663.6 85 654.6 79.7z" fill="url(#g1a1)" stroke="url(#g1a1)"/>
<path d="M543.5 60.8 552.9 57.7 543.9 53.8z" fill="url(#g1a2)" stroke="url(#g1a2)"/>
<path d="M626.4 85.5 626.8 84.6 617.4 84.3z" fill="url(#g1a3)" stroke="url(#g1a3)"/>
<path d="M626.4 85.5 635.8 86.5 626.8 84.6z" fill="url(#g1a4)" stroke="url(#g1a4)"/>
<path d="M561.9 62.3 562.3 56 552.9 57.7z" fill="url(#g1a5)" stroke="url(#g1a5)"/>
<path d="M561.9 62.3 571.2 59.9 562.3 56z" fill="#fec71e" stroke="#fec71e"/>
<path d="M644.8 88.4 645.2 86.2 635.8 86.5z" fill="url(#g1a6)" stroke="url(#g1a6)"/>
<path d="M534.1 66.8 534.5 56.2 525.1 59.2z" fill="url(#g1a7)" stroke="url(#g1a7)"/>
<path d="M644.8 88.4 654.2 90.1 645.2 86.2z" fill="url(#g1a8)" stroke="url(#g1a8)"/>
<path d="M534.1 66.8 543.5 60.8 534.5 56.2z" fill="url(#g1a9)" stroke="url(#g1a9)"/>
<path d="M580.2 63.8 580.6 59.6 571.2 59.9z" fill="url(#g1aa)" stroke="url(#g1aa)"/>
<path d="M580.2 63.8 589.6 62.8 580.6 59.6z" fill="url(#g1ab)" stroke="url(#g1ab)"/>
<path d="M598.6 66.7 608 78.5 599 76z" fill="url(#g1ac)" stroke="url(#g1ac)"/>
<path d="M598.6 66.7 599 76 589.6 62.8z" fill="url(#g1ad)" stroke="url(#g1ad)"/>
<path d="M617 81.1 617.4 84.3 608 78.5z" fill="url(#g1ae)" stroke="url(#g1ae)"/>
<path d="M552.5 66.7 552.9 57.7 543.5 60.8z" fill="url(#g1af)" stroke="url(#g1af)"/>
<path d="M617 81.1 626.4 85.5 617.4 84.3z" fill="url(#g1b0)" stroke="url(#g1b0)"/>
<path d="M552.5 66.7 561.9 62.3 552.9 57.7z" fill="url(#g1b1)" stroke="url(#g1b1)"/>
<path d="M635.4 86 635.8 86.5 626.4 85.5z" fill="url(#g1b2)" stroke="url(#g1b2)"/>
<path d="M570.8 66.9 571.2 59.9 561.9 62.3z" fill="url(#g1b3)" stroke="url(#g1b3)"/>
<path d="M635.4 86 644.8 88.4 635.8 86.5z" fill="url(#g1b4)" stroke="url(#g1b4)"/>
<path d="M543.1 77.6 543.5 60.8 534.1 66.8z" fill="url(#g1b5)" stroke="url(#g1b5)"/>
<path d="M570.8 66.9 580.2 63.8 571.2 59.9z" fill="url(#g1b6)" stroke="url(#g1b6)"/>
<path d="M543.1 77.6 552.5 66.7 543.5 60.8z" fill="url(#g1b7)" stroke="url(#g1b7)"/>
<path d="M589.2 67.7 589.6 62.8 580.2 63.8z" fill="url(#g1b8)" stroke="url(#g1b8)"/>
<path d="M589.2 67.7 598.6 66.7 589.6 62.8z" fill="url(#g1b9)" stroke="url(#g1b9)"/>
<path d="M561.4 74.7 561.9 62.3 552.5 66.7z" fill="url(#g1ba)" stroke="url(#g1ba)"/>
<path d="M607.6 71.3 617 81.1 608 78.5z" fill="url(#g1bb)" stroke="url(#g1bb)"/>
<path d="M607.6 71.3 608 78.5 598.6 66.7z" fill="url(#g1bc)" stroke="url(#g1bc)"/>
<path d="M626 85 626.4 85.5 617 81.1z" fill="url(#g1bd)" stroke="url(#g1bd)"/>
<path d="M561.4 74.7 570.8 66.9 561.9 62.3z" fill="url(#g1be)" stroke="url(#g1be)"/>
<path d="M626 85 635.4 86 626.4 85.5z" fill="url(#g1bf)" stroke="url(#g1bf)"/>
<path d="M552 91.3 552.5 66.7 543.1 77.6z" fill="url(#g1c0)" stroke="url(#g1c0)"/>
<path d="M579.8 72.8 580.2 63.8 570.8 66.9z" fill="url(#g1c1)" stroke="url(#g1c1)"/>
<path d="M552 91.3 561.4 74.7 552.5 66.7z" fill="url(#g1c2)" stroke="url(#g1c2)"/>
<path d="M579.8 72.8 589.2 67.7 580.2 63.8z" fill="url(#g1c3)" stroke="url(#g1c3)"/>
<path d="M598.2 72.3 598.6 66.7 589.2 67.7z" fill="url(#g1c4)" stroke="url(#g1c4)"/>
<path d="M570.4 86.7 570.8 66.9 561.4 74.7z" fill="url(#g1c5)" stroke="url(#g1c5)"/>
<path d="M598.2 72.3 607.6 71.3 598.6 66.7z" fill="url(#g1c6)" stroke="url(#g1c6)"/>
<path d="M616.6 85.2 626 85 617 81.1z" fill="url(#g1c7)" stroke="url(#g1c7)"/>
<path d="M616.6 85.2 617 81.1 607.6 71.3z" fill="url(#g1c8)" stroke="url(#g1c8)"/>
<path d="M570.4 86.7 579.8 72.8 570.8 66.9z" fill="url(#g1c9)" stroke="url(#g1c9)"/>
<path d="M561 107.4 561.4 74.7 552 91.3z" fill="url(#g1ca)" stroke="url(#g1ca)"/>
<path d="M561 107.4 570.4 86.7 561.4 74.7z" fill="url(#g1cb)" stroke="url(#g1cb)"/>
<path d="M588.8 82.8 589.2 67.7 579.8 72.8z" fill="url(#g1cc)" stroke="url(#g1cc)"/>
<path d="M588.8 82.8 598.2 72.3 589.2 67.7z" fill="url(#g1cd)" stroke="url(#g1cd)"/>
<path d="M579.4 109.6 579.8 72.8 570.4 86.7z" fill="url(#g1ce)" stroke="url(#g1ce)"/>
<path d="M607.2 92.5 607.6 71.3 598.2 72.3z" fill="url(#g1cf)" stroke="url(#g1cf)"/>
<path d="M607.2 92.5 616.6 85.2 607.6 71.3z" fill="url(#g1d0)" stroke="url(#g1d0)"/>
<path d="M579.4 109.6 588.8 82.8 579.8 72.8z" fill="url(#g1d1)" stroke="url(#g1d1)"/>
<path d="M570.1 118.5 570.4 86.7 561 107.4 565.4 118.1z" fill="url(#g1d2)" stroke="url(#g1d2)"/>
<path d="M575.1 118.8 579.4 109.6 570.4 86.7 570.1 118.5z" fill="url(#g1d3)" stroke="url(#g1d3)"/>
<path d="M597.8 115.2 598.2 72.3 588.8 82.8z" fill="url(#g1d4)" stroke="url(#g1d4)"/>
<path d="M597.8 115.2 607.2 92.5 598.2 72.3z" fill="url(#g1d5)" stroke="url(#g1d5)"/>
<path d="M588.5 119.5 588.8 82.8 579.4 109.6 582.4 119z" fill="url(#g1d6)" stroke="url(#g1d6)"/>
<path d="M595.9 119.7 597.8 115.2 588.8 82.8 588.5 119.5z" fill="url(#g1d7)" stroke="url(#g1d7)"/>
<path d="M579.3 119.2 579.4 109.6 575.1 118.8z" fill="url(#g1d8)" stroke="url(#g1d8)"/>
<path d="M582.4 119 579.4 109.6 579.3 119.2z" fill="url(#g1d9)" stroke="url(#g1d9)"/>
<line x1="507.10" y1="92.70" x2="507.10" y2="25.00" stroke="#3a3a3a" stroke-width="0.7" />
<line x1="507.10" y1="92.70" x2="579.00" y2="124.00" stroke="#3a3a3a" stroke-width="0.7" />
<line x1="579.00" y1="124.00" x2="673.00" y2="100.20" stroke="#3a3a3a" stroke-width="0.7" />
<line x1="507.10" y1="92.70" x2="504.90" y2="91.74" stroke="#3a3a3a" stroke-width="0.7" />
<line x1="507.10" y1="79.16" x2="504.90" y2="78.20" stroke="#3a3a3a" stroke-width="0.7" />
<line x1="507.10" y1="65.62" x2="504.90" y2="64.66" stroke="#3a3a3a" stroke-width="0.7" />
<line x1="507.10" y1="52.08" x2="504.90" y2="51.12" stroke="#3a3a3a" stroke-width="0.7" />
<line x1="507.10" y1="38.54" x2="504.90" y2="37.58" stroke="#3a3a3a" stroke-width="0.7" />
<line x1="507.10" y1="25.00" x2="504.90" y2="24.04" stroke="#3a3a3a" stroke-width="0.7" />
<line x1="579.00" y1="124.00" x2="576.67" y2="124.59" stroke="#3a3a3a" stroke-width="0.7" />
<line x1="561.03" y1="116.17" x2="558.70" y2="116.76" stroke="#3a3a3a" stroke-width="0.7" />
<line x1="543.05" y1="108.35" x2="540.72" y2="108.94" stroke="#3a3a3a" stroke-width="0.7" />
<line x1="525.08" y1="100.53" x2="522.75" y2="101.11" stroke="#3a3a3a" stroke-width="0.7" />
<line x1="507.10" y1="92.70" x2="504.77" y2="93.29" stroke="#3a3a3a" stroke-width="0.7" />
<line x1="579.00" y1="124.00" x2="581.20" y2="124.96" stroke="#3a3a3a" stroke-width="0.7" />
<line x1="602.50" y1="118.05" x2="604.70" y2="119.01" stroke="#3a3a3a" stroke-width="0.7" />
<line x1="626.00" y1="112.10" x2="628.20" y2="113.06" stroke="#3a3a3a" stroke-width="0.7" />
<line x1="649.50" y1="106.15" x2="651.70" y2="107.11" stroke="#3a3a3a" stroke-width="0.7" />
<line x1="673.00" y1="100.20" x2="675.20" y2="101.16" stroke="#3a3a3a" stroke-width="0.7" />
<circle cx="516.50" cy="47.53" r="3.1" fill="#ff0000" clip-path="url(#k2)"/>
<text transform="translate(501.50,91.60)" text-anchor="end" dominant-baseline="central" class="tk">0.5</text>
<text transform="translate(501.50,78.06)" text-anchor="end" dominant-baseline="central" class="tk">0.6</text>
<text transform="translate(501.50,64.52)" text-anchor="end" dominant-baseline="central" class="tk">0.7</text>
<text transform="translate(501.50,50.98)" text-anchor="end" dominant-baseline="central" class="tk">0.8</text>
<text transform="translate(501.50,37.44)" text-anchor="end" dominant-baseline="central" class="tk">0.9</text>
<text transform="translate(501.50,23.90)" text-anchor="end" dominant-baseline="central" class="tk">1</text>
<text transform="translate(568.50,134.20)" text-anchor="middle" dominant-baseline="central" class="tk">0</text>
<text transform="translate(550.53,126.38)" text-anchor="middle" dominant-baseline="central" class="tk">1</text>
<text transform="translate(532.55,118.55)" text-anchor="middle" dominant-baseline="central" class="tk">2</text>
<text transform="translate(514.58,110.73)" text-anchor="middle" dominant-baseline="central" class="tk">3</text>
<text transform="translate(496.60,102.90)" text-anchor="middle" dominant-baseline="central" class="tk">4</text>
<text transform="translate(584.40,126.80) rotate(70)" dominant-baseline="central" class="tk">-1</text>
<text transform="translate(607.90,120.85) rotate(70)" dominant-baseline="central" class="tk">-0.5</text>
<text transform="translate(631.40,114.90) rotate(70)" dominant-baseline="central" class="tk">0</text>
<text transform="translate(654.90,108.95) rotate(70)" dominant-baseline="central" class="tk">0.5</text>
<text transform="translate(678.40,103.00) rotate(70)" dominant-baseline="central" class="tk">1</text>
<text transform="translate(470.70,59.00) rotate(-90) scale(1.29,1)" text-anchor="middle" dominant-baseline="central" class="lab">DI</text>
<text transform="translate(527.30,142.50) scale(1.15,1)" text-anchor="middle" dominant-baseline="central" class="lab">SF</text>
<text transform="translate(651.50,153.30) scale(1.29,1)" text-anchor="middle" dominant-baseline="central" class="lab">CB</text>
<text transform="translate(507.10,22.93) scale(1.090,1)" class="an ai">DI</text>
<text transform="translate(522.10,24.73) scale(1.100,1)" class="an as">max</text>
<path d="M543.80 18.33h7.6M543.80 21.23h7.6" stroke="#000" stroke-width="0.85" fill="none"/>
<text transform="translate(556.30,22.93) scale(0.950,1)" class="an">0.816</text>
<text x="506.60" y="37.93" class="an">at</text>
<text x="521.80" y="37.93" class="an">(</text>
<text transform="translate(525.43,37.93) scale(1.270,1)" class="an">−</text>
<text x="535.70" y="37.93" class="an">0.8,</text>
<text x="559.10" y="37.93" class="an">4.0)</text>
<text x="578.80" y="176.60" text-anchor="middle" class="cap"><tspan class="capb">(c)</tspan> Chan-Vese, 50 iterations</text>
<line x1="114.40" y1="332.00" x2="42.50" y2="300.70" stroke="#d4d4d4" stroke-width="0.6" />
<line x1="137.90" y1="326.05" x2="66.00" y2="294.75" stroke="#d4d4d4" stroke-width="0.6" />
<line x1="161.40" y1="320.10" x2="89.50" y2="288.80" stroke="#d4d4d4" stroke-width="0.6" />
<line x1="184.90" y1="314.15" x2="113.00" y2="282.85" stroke="#d4d4d4" stroke-width="0.6" />
<line x1="208.40" y1="308.20" x2="136.50" y2="276.90" stroke="#d4d4d4" stroke-width="0.6" />
<line x1="114.40" y1="332.00" x2="208.40" y2="308.20" stroke="#d4d4d4" stroke-width="0.6" />
<line x1="96.43" y1="324.18" x2="190.43" y2="300.38" stroke="#d4d4d4" stroke-width="0.6" />
<line x1="78.45" y1="316.35" x2="172.45" y2="292.55" stroke="#d4d4d4" stroke-width="0.6" />
<line x1="60.48" y1="308.52" x2="154.47" y2="284.73" stroke="#d4d4d4" stroke-width="0.6" />
<line x1="42.50" y1="300.70" x2="136.50" y2="276.90" stroke="#d4d4d4" stroke-width="0.6" />
<line x1="42.50" y1="300.70" x2="136.50" y2="276.90" stroke="#d4d4d4" stroke-width="0.6" />
<line x1="42.50" y1="287.16" x2="136.50" y2="263.36" stroke="#d4d4d4" stroke-width="0.6" />
<line x1="42.50" y1="273.62" x2="136.50" y2="249.82" stroke="#d4d4d4" stroke-width="0.6" />
<line x1="42.50" y1="260.08" x2="136.50" y2="236.28" stroke="#d4d4d4" stroke-width="0.6" />
<line x1="42.50" y1="246.54" x2="136.50" y2="222.74" stroke="#d4d4d4" stroke-width="0.6" />
<line x1="42.50" y1="233.00" x2="136.50" y2="209.20" stroke="#d4d4d4" stroke-width="0.6" />
<line x1="66.00" y1="294.75" x2="66.00" y2="227.05" stroke="#d4d4d4" stroke-width="0.6" />
<line x1="89.50" y1="288.80" x2="89.50" y2="221.10" stroke="#d4d4d4" stroke-width="0.6" />
<line x1="113.00" y1="282.85" x2="113.00" y2="215.15" stroke="#d4d4d4" stroke-width="0.6" />
<line x1="136.50" y1="276.90" x2="136.50" y2="209.20" stroke="#d4d4d4" stroke-width="0.6" />
<line x1="136.50" y1="276.90" x2="208.40" y2="308.20" stroke="#d4d4d4" stroke-width="0.6" />
<line x1="136.50" y1="263.36" x2="208.40" y2="294.66" stroke="#d4d4d4" stroke-width="0.6" />
<line x1="136.50" y1="249.82" x2="208.40" y2="281.12" stroke="#d4d4d4" stroke-width="0.6" />
<line x1="136.50" y1="236.28" x2="208.40" y2="267.58" stroke="#d4d4d4" stroke-width="0.6" />
<line x1="136.50" y1="222.74" x2="208.40" y2="254.04" stroke="#d4d4d4" stroke-width="0.6" />
<line x1="136.50" y1="209.20" x2="208.40" y2="240.50" stroke="#d4d4d4" stroke-width="0.6" />
<line x1="208.40" y1="308.20" x2="208.40" y2="240.50" stroke="#d4d4d4" stroke-width="0.6" />
<line x1="190.43" y1="300.38" x2="190.43" y2="232.68" stroke="#d4d4d4" stroke-width="0.6" />
<line x1="172.45" y1="292.55" x2="172.45" y2="224.85" stroke="#d4d4d4" stroke-width="0.6" />
<line x1="154.47" y1="284.73" x2="154.47" y2="217.02" stroke="#d4d4d4" stroke-width="0.6" />
<line x1="114.81" y1="285.53" x2="114.81" y2="325.71" stroke="#111" stroke-width="1.1" stroke-dasharray="3.5 2.95"/>
<line x1="114.81" y1="325.71" x2="123.80" y2="329.62" stroke="#111" stroke-width="1.1" stroke-dasharray="3.5 2.95"/>
<line x1="114.81" y1="325.71" x2="105.41" y2="328.09" stroke="#111" stroke-width="1.1" stroke-dasharray="3.5 2.95"/>
<path d="M136.1 253.4 136.5 246.6 127.1 248.1z" fill="url(#g1da)" stroke="url(#g1da)"/>
<path d="M136.1 253.4 145.5 252 136.5 246.6z" fill="url(#g1db)" stroke="url(#g1db)"/>
<path d="M126.7 254.9 127.1 248.1 117.7 249.6z" fill="url(#g1dc)" stroke="url(#g1dc)"/>
<path d="M126.7 254.9 136.1 253.4 127.1 248.1z" fill="url(#g1dd)" stroke="url(#g1dd)"/>
<path d="M145.1 258.8 145.5 252 136.1 253.4z" fill="url(#g1de)" stroke="url(#g1de)"/>
<path d="M145.1 258.8 154.5 257.3 145.5 252z" fill="url(#g1df)" stroke="url(#g1df)"/>
<path d="M117.3 256.4 117.7 249.6 108.3 251z" fill="url(#g1e0)" stroke="url(#g1e0)"/>
<path d="M117.3 256.4 126.7 254.9 117.7 249.6z" fill="url(#g1e1)" stroke="url(#g1e1)"/>
<path d="M135.7 260.3 136.1 253.4 126.7 254.9z" fill="url(#g1e2)" stroke="url(#g1e2)"/>
<path d="M135.7 260.3 145.1 258.8 136.1 253.4z" fill="url(#g1e3)" stroke="url(#g1e3)"/>
<path d="M154.1 264.3 154.5 257.3 145.1 258.8z" fill="url(#g1e4)" stroke="url(#g1e4)"/>
<path d="M107.9 257.5 108.3 251 98.9 252.7z" fill="url(#g1e5)" stroke="url(#g1e5)"/>
<path d="M154.1 264.3 163.5 262.9 154.5 257.3z" fill="url(#g1e6)" stroke="url(#g1e6)"/>
<path d="M107.9 257.5 117.3 256.4 108.3 251z" fill="url(#g1e7)" stroke="url(#g1e7)"/>
<path d="M126.3 261.7 126.7 254.9 117.3 256.4z" fill="url(#g1e8)" stroke="url(#g1e8)"/>
<path d="M126.3 261.7 135.7 260.3 126.7 254.9z" fill="url(#g1e9)" stroke="url(#g1e9)"/>
<path d="M144.7 265.7 145.1 258.8 135.7 260.3z" fill="url(#g1ea)" stroke="url(#g1ea)"/>
<path d="M98.5 258.8 98.9 252.7 89.5 254.6z" fill="url(#g1eb)" stroke="url(#g1eb)"/>
<path d="M144.7 265.7 154.1 264.3 145.1 258.8z" fill="url(#g1ec)" stroke="url(#g1ec)"/>
<path d="M98.5 258.8 107.9 257.5 98.9 252.7z" fill="url(#g1ed)" stroke="url(#g1ed)"/>
<path d="M163.1 269.8 163.5 262.9 154.1 264.3z" fill="url(#g1ee)" stroke="url(#g1ee)"/>
<path d="M116.9 262.2 117.3 256.4 107.9 257.5z" fill="url(#g1ef)" stroke="url(#g1ef)"/>
<path d="M163.1 269.8 172.4 268.5 163.5 262.9z" fill="url(#g1f0)" stroke="url(#g1f0)"/>
<path d="M116.9 262.2 126.3 261.7 117.3 256.4z" fill="url(#g1f1)" stroke="url(#g1f1)"/>
<path d="M135.3 267.1 135.7 260.3 126.3 261.7z" fill="url(#g1f2)" stroke="url(#g1f2)"/>
<path d="M89.1 260.1 89.5 254.6 80.1 256.5z" fill="url(#g1f3)" stroke="url(#g1f3)"/>
<path d="M135.3 267.1 144.7 265.7 135.7 260.3z" fill="url(#g1f4)" stroke="url(#g1f4)"/>
<path d="M89.1 260.1 98.5 258.8 89.5 254.6z" fill="url(#g1f5)" stroke="url(#g1f5)"/>
<path d="M153.7 271.2 154.1 264.3 144.7 265.7z" fill="url(#g1f6)" stroke="url(#g1f6)"/>
<path d="M107.5 262.9 107.9 257.5 98.5 258.8z" fill="url(#g1f7)" stroke="url(#g1f7)"/>
<path d="M153.7 271.2 163.1 269.8 154.1 264.3z" fill="url(#g1f8)" stroke="url(#g1f8)"/>
<path d="M107.5 262.9 116.9 262.2 107.9 257.5z" fill="url(#g1f9)" stroke="url(#g1f9)"/>
<path d="M172 274.4 172.4 268.5 163.1 269.8z" fill="url(#g1fa)" stroke="url(#g1fa)"/>
<path d="M79.7 261.5 80.1 256.5 70.7 258.3z" fill="url(#g1fb)" stroke="url(#g1fb)"/>
<path d="M125.9 266.9 126.3 261.7 116.9 262.2z" fill="url(#g1fc)" stroke="url(#g1fc)"/>
<path d="M172 274.4 181.4 273.1 172.4 268.5z" fill="url(#g1fd)" stroke="url(#g1fd)"/>
<path d="M125.9 266.9 135.3 267.1 126.3 261.7z" fill="url(#g1fe)" stroke="url(#g1fe)"/>
<path d="M79.7 261.5 89.1 260.1 80.1 256.5z" fill="url(#g1ff)" stroke="url(#g1ff)"/>
<path d="M144.2 272.4 144.7 265.7 135.3 267.1z" fill="url(#g200)" stroke="url(#g200)"/>
<path d="M98.1 263.6 98.5 258.8 89.1 260.1z" fill="url(#g201)" stroke="url(#g201)"/>
<path d="M144.2 272.4 153.7 271.2 144.7 265.7z" fill="url(#g202)" stroke="url(#g202)"/>
<path d="M98.1 263.6 107.5 262.9 98.5 258.8z" fill="url(#g203)" stroke="url(#g203)"/>
<path d="M162.6 275.8 163.1 269.8 153.7 271.2z" fill="url(#g204)" stroke="url(#g204)"/>
<path d="M70.3 263.2 70.7 258.3 61.3 260.1z" fill="url(#g205)" stroke="url(#g205)"/>
<path d="M116.5 266.9 116.9 262.2 107.5 262.9z" fill="url(#g206)" stroke="url(#g206)"/>
<path d="M162.6 275.8 172 274.4 163.1 269.8z" fill="url(#g207)" stroke="url(#g207)"/>
<path d="M70.3 263.2 79.7 261.5 70.7 258.3z" fill="url(#g208)" stroke="url(#g208)"/>
<path d="M116.5 266.9 125.9 266.9 116.9 262.2z" fill="url(#g209)" stroke="url(#g209)"/>
<path d="M181 278.1 181.4 273.1 172 274.4z" fill="url(#g20a)" stroke="url(#g20a)"/>
<path d="M134.9 271.6 135.3 267.1 125.9 266.9z" fill="url(#g20b)" stroke="url(#g20b)"/>
<path d="M88.7 264.7 89.1 260.1 79.7 261.5z" fill="url(#g20c)" stroke="url(#g20c)"/>
<path d="M134.9 271.6 144.2 272.4 135.3 267.1z" fill="url(#g20d)" stroke="url(#g20d)"/>
<path d="M181 278.1 190.4 276.5 181.4 273.1z" fill="url(#g20e)" stroke="url(#g20e)"/>
<path d="M88.7 264.7 98.1 263.6 89.1 260.1z" fill="url(#g20f)" stroke="url(#g20f)"/>
<path d="M60.9 265 61.3 260.1 51.9 261.8z" fill="url(#g210)" stroke="url(#g210)"/>
<path d="M153.2 277 153.7 271.2 144.2 272.4z" fill="url(#g211)" stroke="url(#g211)"/>
<path d="M107.1 267.1 107.5 262.9 98.1 263.6z" fill="url(#g212)" stroke="url(#g212)"/>
<path d="M153.2 277 162.6 275.8 153.7 271.2z" fill="url(#g213)" stroke="url(#g213)"/>
<path d="M60.9 265 70.3 263.2 61.3 260.1z" fill="url(#g214)" stroke="url(#g214)"/>
<path d="M107.1 267.1 116.5 266.9 107.5 262.9z" fill="url(#g215)" stroke="url(#g215)"/>
<path d="M171.6 279.6 172 274.4 162.6 275.8z" fill="url(#g216)" stroke="url(#g216)"/>
<path d="M79.3 266.4 79.7 261.5 70.3 263.2z" fill="url(#g217)" stroke="url(#g217)"/>
<path d="M125.5 270.9 125.9 266.9 116.5 266.9z" fill="url(#g218)" stroke="url(#g218)"/>
<path d="M171.6 279.6 181 278.1 172 274.4z" fill="url(#g219)" stroke="url(#g219)"/>
<path d="M79.3 266.4 88.7 264.7 79.7 261.5z" fill="url(#g21a)" stroke="url(#g21a)"/>
<path d="M125.5 270.9 134.9 271.6 125.9 266.9z" fill="url(#g21b)" stroke="url(#g21b)"/>
<path d="M51.5 266.8 51.9 261.8 42.5 263.6z" fill="url(#g21c)" stroke="url(#g21c)"/>
<path d="M143.8 275.6 144.2 272.4 134.9 271.6z" fill="url(#g21d)" stroke="url(#g21d)"/>
<path d="M190 281.7 190.4 276.5 181 278.1z" fill="url(#g21e)" stroke="url(#g21e)"/>
<path d="M51.5 266.8 60.9 265 51.9 261.8z" fill="url(#g21f)" stroke="url(#g21f)"/>
<path d="M97.7 267.7 98.1 263.6 88.7 264.7z" fill="url(#g220)" stroke="url(#g220)"/>
<path d="M143.8 275.6 153.2 277 144.2 272.4z" fill="url(#g221)" stroke="url(#g221)"/>
<path d="M190 281.7 199.4 280 190.4 276.5z" fill="url(#g222)" stroke="url(#g222)"/>
<path d="M97.7 267.7 107.1 267.1 98.1 263.6z" fill="url(#g223)" stroke="url(#g223)"/>
<path d="M162.2 280.9 162.6 275.8 153.2 277z" fill="url(#g224)" stroke="url(#g224)"/>
<path d="M69.9 268.1 70.3 263.2 60.9 265z" fill="url(#g225)" stroke="url(#g225)"/>
<path d="M162.2 280.9 171.6 279.6 162.6 275.8z" fill="url(#g226)" stroke="url(#g226)"/>
<path d="M116 270.4 116.5 266.9 107.1 267.1z" fill="url(#g227)" stroke="url(#g227)"/>
<path d="M69.9 268.1 79.3 266.4 70.3 263.2z" fill="url(#g228)" stroke="url(#g228)"/>
<path d="M116 270.4 125.5 270.9 116.5 266.9z" fill="url(#g229)" stroke="url(#g229)"/>
<path d="M180.6 283.4 181 278.1 171.6 279.6z" fill="url(#g22a)" stroke="url(#g22a)"/>
<path d="M88.3 269.3 88.7 264.7 79.3 266.4z" fill="url(#g22b)" stroke="url(#g22b)"/>
<path d="M134.4 274.4 134.9 271.6 125.5 270.9z" fill="url(#g22c)" stroke="url(#g22c)"/>
<path d="M180.6 283.4 190 281.7 181 278.1z" fill="url(#g22d)" stroke="url(#g22d)"/>
<path d="M134.4 274.4 143.8 275.6 134.9 271.6z" fill="url(#g22e)" stroke="url(#g22e)"/>
<path d="M88.3 269.3 97.7 267.7 88.7 264.7z" fill="url(#g22f)" stroke="url(#g22f)"/>
<path d="M60.5 270.1 60.9 265 51.5 266.8z" fill="url(#g230)" stroke="url(#g230)"/>
<path d="M152.8 279.1 153.2 277 143.8 275.6z" fill="url(#g231)" stroke="url(#g231)"/>
<path d="M199 285.3 199.4 280 190 281.7z" fill="url(#g232)" stroke="url(#g232)"/>
<path d="M60.5 270.1 69.9 268.1 60.9 265z" fill="url(#g233)" stroke="url(#g233)"/>
<path d="M152.8 279.1 162.2 280.9 153.2 277z" fill="url(#g234)" stroke="url(#g234)"/>
<path d="M106.6 270.6 107.1 267.1 97.7 267.7z" fill="url(#g235)" stroke="url(#g235)"/>
<path d="M199 285.3 208.4 283.4 199.4 280z" fill="url(#g236)" stroke="url(#g236)"/>
<path d="M106.6 270.6 116 270.4 107.1 267.1z" fill="url(#g237)" stroke="url(#g237)"/>
<path d="M171.2 284.9 171.6 279.6 162.2 280.9z" fill="url(#g238)" stroke="url(#g238)"/>
<path d="M78.9 271 79.3 266.4 69.9 268.1z" fill="url(#g239)" stroke="url(#g239)"/>
<path d="M171.2 284.9 180.6 283.4 171.6 279.6z" fill="url(#g23a)" stroke="url(#g23a)"/>
<path d="M125 273.3 125.5 270.9 116 270.4z" fill="url(#g23b)" stroke="url(#g23b)"/>
<path d="M78.9 271 88.3 269.3 79.3 266.4z" fill="url(#g23c)" stroke="url(#g23c)"/>
<path d="M125 273.3 134.4 274.4 125.5 270.9z" fill="url(#g23d)" stroke="url(#g23d)"/>
<path d="M189.6 287.2 190 281.7 180.6 283.4z" fill="url(#g23e)" stroke="url(#g23e)"/>
<path d="M143.4 277.4 143.8 275.6 134.4 274.4z" fill="url(#g23f)" stroke="url(#g23f)"/>
<path d="M97.3 272.1 97.7 267.7 88.3 269.3z" fill="url(#g240)" stroke="url(#g240)"/>
<path d="M189.6 287.2 199 285.3 190 281.7z" fill="url(#g241)" stroke="url(#g241)"/>
<path d="M143.4 277.4 152.8 279.1 143.8 275.6z" fill="url(#g242)" stroke="url(#g242)"/>
<path d="M97.3 272.1 106.6 270.6 97.7 267.7z" fill="url(#g243)" stroke="url(#g243)"/>
<path d="M69.5 273 69.9 268.1 60.5 270.1z" fill="url(#g244)" stroke="url(#g244)"/>
<path d="M161.8 282.7 162.2 280.9 152.8 279.1z" fill="url(#g245)" stroke="url(#g245)"/>
<path d="M161.8 282.7 171.2 284.9 162.2 280.9z" fill="url(#g246)" stroke="url(#g246)"/>
<path d="M69.5 273 78.9 271 69.9 268.1z" fill="url(#g247)" stroke="url(#g247)"/>
<path d="M115.6 273.2 116 270.4 106.6 270.6z" fill="url(#g248)" stroke="url(#g248)"/>
<path d="M115.6 273.2 125 273.3 116 270.4z" fill="url(#g249)" stroke="url(#g249)"/>
<path d="M180.2 288.9 180.6 283.4 171.2 284.9z" fill="url(#g24a)" stroke="url(#g24a)"/>
<path d="M87.9 273.7 88.3 269.3 78.9 271z" fill="url(#g24b)" stroke="url(#g24b)"/>
<path d="M180.2 288.9 189.6 287.2 180.6 283.4z" fill="url(#g24c)" stroke="url(#g24c)"/>
<path d="M134 276 134.4 274.4 125 273.3z" fill="url(#g24d)" stroke="url(#g24d)"/>
<path d="M87.9 273.7 97.3 272.1 88.3 269.3z" fill="url(#g24e)" stroke="url(#g24e)"/>
<path d="M134 276 143.4 277.4 134.4 274.4z" fill="url(#g24f)" stroke="url(#g24f)"/>
<path d="M152.4 280.6 152.8 279.1 143.4 277.4z" fill="url(#g250)" stroke="url(#g250)"/>
<path d="M106.2 274.7 106.6 270.6 97.3 272.1z" fill="url(#g251)" stroke="url(#g251)"/>
<path d="M152.4 280.6 161.8 282.7 152.8 279.1z" fill="url(#g252)" stroke="url(#g252)"/>
<path d="M106.2 274.7 115.6 273.2 106.6 270.6z" fill="url(#g253)" stroke="url(#g253)"/>
<path d="M78.5 275.7 78.9 271 69.5 273z" fill="url(#g254)" stroke="url(#g254)"/>
<path d="M170.8 286.3 171.2 284.9 161.8 282.7z" fill="url(#g255)" stroke="url(#g255)"/>
<path d="M170.8 286.3 180.2 288.9 171.2 284.9z" fill="url(#g256)" stroke="url(#g256)"/>
<path d="M78.5 275.7 87.9 273.7 78.9 271z" fill="url(#g257)" stroke="url(#g257)"/>
<path d="M124.6 275.7 125 273.3 115.6 273.2z" fill="url(#g258)" stroke="url(#g258)"/>
<path d="M124.6 275.7 134 276 125 273.3z" fill="url(#g259)" stroke="url(#g259)"/>
<path d="M96.8 276.3 97.3 272.1 87.9 273.7z" fill="url(#g25a)" stroke="url(#g25a)"/>
<path d="M143 278.8 143.4 277.4 134 276z" fill="url(#g25b)" stroke="url(#g25b)"/>
<path d="M96.8 276.3 106.2 274.7 97.3 272.1z" fill="url(#g25c)" stroke="url(#g25c)"/>
<path d="M143 278.8 152.4 280.6 143.4 277.4z" fill="url(#g25d)" stroke="url(#g25d)"/>
<path d="M161.4 283.7 161.8 282.7 152.4 280.6z" fill="url(#g25e)" stroke="url(#g25e)"/>
<path d="M115.2 277.3 115.6 273.2 106.2 274.7z" fill="url(#g25f)" stroke="url(#g25f)"/>
<path d="M161.4 283.7 170.8 286.3 161.8 282.7z" fill="url(#g260)" stroke="url(#g260)"/>
<path d="M115.2 277.3 124.6 275.7 115.6 273.2z" fill="url(#g261)" stroke="url(#g261)"/>
<path d="M87.4 278.4 87.9 273.7 78.5 275.7z" fill="url(#g262)" stroke="url(#g262)"/>
<path d="M87.4 278.4 96.8 276.3 87.9 273.7z" fill="url(#g263)" stroke="url(#g263)"/>
<path d="M133.6 278.3 134 276 124.6 275.7z" fill="url(#g264)" stroke="url(#g264)"/>
<path d="M133.6 278.3 143 278.8 134 276z" fill="url(#g265)" stroke="url(#g265)"/>
<path d="M105.8 279.1 106.2 274.7 96.8 276.3z" fill="url(#g266)" stroke="url(#g266)"/>
<path d="M152 281.5 152.4 280.6 143 278.8z" fill="url(#g267)" stroke="url(#g267)"/>
<path d="M105.8 279.1 115.2 277.3 106.2 274.7z" fill="url(#g268)" stroke="url(#g268)"/>
<path d="M152 281.5 161.4 283.7 152.4 280.6z" fill="url(#g269)" stroke="url(#g269)"/>
<path d="M124.2 280 124.6 275.7 115.2 277.3z" fill="url(#g26a)" stroke="url(#g26a)"/>
<path d="M124.2 280 133.6 278.3 124.6 275.7z" fill="url(#g26b)" stroke="url(#g26b)"/>
<path d="M96.4 281.5 96.8 276.3 87.4 278.4z" fill="url(#g26c)" stroke="url(#g26c)"/>
<path d="M96.4 281.5 105.8 279.1 96.8 276.3z" fill="url(#g26d)" stroke="url(#g26d)"/>
<path d="M142.6 280.9 143 278.8 133.6 278.3z" fill="url(#g26e)" stroke="url(#g26e)"/>
<path d="M142.6 280.9 152 281.5 143 278.8z" fill="url(#g26f)" stroke="url(#g26f)"/>
<path d="M114.8 281 115.2 277.3 105.8 279.1z" fill="url(#g270)" stroke="url(#g270)"/>
<path d="M114.8 281 124.2 280 115.2 277.3z" fill="url(#g271)" stroke="url(#g271)"/>
<path d="M133.2 282.8 133.6 278.3 124.2 280z" fill="url(#g272)" stroke="url(#g272)"/>
<path d="M133.2 282.8 142.6 280.9 133.6 278.3z" fill="url(#g273)" stroke="url(#g273)"/>
<path d="M105.4 284.7 105.8 279.1 96.4 281.5z" fill="url(#g274)" stroke="url(#g274)"/>
<path d="M105.4 284.7 114.8 281 105.8 279.1z" fill="url(#g275)" stroke="url(#g275)"/>
<path d="M123.8 285 124.2 280 114.8 281z" fill="url(#g276)" stroke="url(#g276)"/>
<path d="M123.8 285 133.2 282.8 124.2 280z" fill="url(#g277)" stroke="url(#g277)"/>
<path d="M114.4 288 114.8 281 105.4 284.7z" fill="url(#g278)" stroke="url(#g278)"/>
<path d="M114.4 288 123.8 285 114.8 281z" fill="url(#g279)" stroke="url(#g279)"/>
<line x1="42.50" y1="300.70" x2="42.50" y2="233.00" stroke="#3a3a3a" stroke-width="0.7" />
<line x1="42.50" y1="300.70" x2="114.40" y2="332.00" stroke="#3a3a3a" stroke-width="0.7" />
<line x1="114.40" y1="332.00" x2="208.40" y2="308.20" stroke="#3a3a3a" stroke-width="0.7" />
<line x1="42.50" y1="300.70" x2="40.30" y2="299.74" stroke="#3a3a3a" stroke-width="0.7" />
<line x1="42.50" y1="287.16" x2="40.30" y2="286.20" stroke="#3a3a3a" stroke-width="0.7" />
<line x1="42.50" y1="273.62" x2="40.30" y2="272.66" stroke="#3a3a3a" stroke-width="0.7" />
<line x1="42.50" y1="260.08" x2="40.30" y2="259.12" stroke="#3a3a3a" stroke-width="0.7" />
<line x1="42.50" y1="246.54" x2="40.30" y2="245.58" stroke="#3a3a3a" stroke-width="0.7" />
<line x1="42.50" y1="233.00" x2="40.30" y2="232.04" stroke="#3a3a3a" stroke-width="0.7" />
<line x1="114.40" y1="332.00" x2="112.07" y2="332.59" stroke="#3a3a3a" stroke-width="0.7" />
<line x1="96.43" y1="324.18" x2="94.10" y2="324.76" stroke="#3a3a3a" stroke-width="0.7" />
<line x1="78.45" y1="316.35" x2="76.12" y2="316.94" stroke="#3a3a3a" stroke-width="0.7" />
<line x1="60.48" y1="308.52" x2="58.15" y2="309.11" stroke="#3a3a3a" stroke-width="0.7" />
<line x1="42.50" y1="300.70" x2="40.17" y2="301.29" stroke="#3a3a3a" stroke-width="0.7" />
<line x1="114.40" y1="332.00" x2="116.60" y2="332.96" stroke="#3a3a3a" stroke-width="0.7" />
<line x1="137.90" y1="326.05" x2="140.10" y2="327.01" stroke="#3a3a3a" stroke-width="0.7" />
<line x1="161.40" y1="320.10" x2="163.60" y2="321.06" stroke="#3a3a3a" stroke-width="0.7" />
<line x1="184.90" y1="314.15" x2="187.10" y2="315.11" stroke="#3a3a3a" stroke-width="0.7" />
<line x1="208.40" y1="308.20" x2="210.60" y2="309.16" stroke="#3a3a3a" stroke-width="0.7" />
<circle cx="114.81" cy="281.03" r="3.1" fill="#ff0000" clip-path="url(#k3)"/>
<text transform="translate(36.90,299.60)" text-anchor="end" dominant-baseline="central" class="tk">0.5</text>
<text transform="translate(36.90,286.06)" text-anchor="end" dominant-baseline="central" class="tk">0.6</text>
<text transform="translate(36.90,272.52)" text-anchor="end" dominant-baseline="central" class="tk">0.7</text>
<text transform="translate(36.90,258.98)" text-anchor="end" dominant-baseline="central" class="tk">0.8</text>
<text transform="translate(36.90,245.44)" text-anchor="end" dominant-baseline="central" class="tk">0.9</text>
<text transform="translate(36.90,231.90)" text-anchor="end" dominant-baseline="central" class="tk">1</text>
<text transform="translate(103.90,342.20)" text-anchor="middle" dominant-baseline="central" class="tk">0</text>
<text transform="translate(85.93,334.38)" text-anchor="middle" dominant-baseline="central" class="tk">1</text>
<text transform="translate(67.95,326.55)" text-anchor="middle" dominant-baseline="central" class="tk">2</text>
<text transform="translate(49.98,318.72)" text-anchor="middle" dominant-baseline="central" class="tk">3</text>
<text transform="translate(32.00,310.90)" text-anchor="middle" dominant-baseline="central" class="tk">4</text>
<text transform="translate(119.80,334.80) rotate(70)" dominant-baseline="central" class="tk">-1</text>
<text transform="translate(143.30,328.85) rotate(70)" dominant-baseline="central" class="tk">-0.5</text>
<text transform="translate(166.80,322.90) rotate(70)" dominant-baseline="central" class="tk">0</text>
<text transform="translate(190.30,316.95) rotate(70)" dominant-baseline="central" class="tk">0.5</text>
<text transform="translate(213.80,311.00) rotate(70)" dominant-baseline="central" class="tk">1</text>
<text transform="translate(6.10,267.00) rotate(-90) scale(1.29,1)" text-anchor="middle" dominant-baseline="central" class="lab">DI</text>
<text transform="translate(62.70,350.50) scale(1.15,1)" text-anchor="middle" dominant-baseline="central" class="lab">SF</text>
<text transform="translate(186.90,361.30) scale(1.29,1)" text-anchor="middle" dominant-baseline="central" class="lab">CB</text>
<text transform="translate(105.41,256.43) scale(1.090,1)" class="an ai">DI</text>
<text transform="translate(120.41,258.23) scale(1.100,1)" class="an as">max</text>
<path d="M142.11 251.83h7.6M142.11 254.73h7.6" stroke="#000" stroke-width="0.85" fill="none"/>
<text transform="translate(154.61,256.43) scale(0.950,1)" class="an">0.830</text>
<text x="104.91" y="271.43" class="an">at</text>
<text x="120.11" y="271.43" class="an">(</text>
<text transform="translate(123.74,271.43) scale(1.270,1)" class="an">−</text>
<text x="134.01" y="271.43" class="an">0.8,</text>
<text x="157.41" y="271.43" class="an">0.5)</text>
<text x="114.20" y="384.60" text-anchor="middle" class="cap"><tspan class="capb">(d)</tspan> GAC, 5 iterations</text>
<line x1="346.70" y1="332.00" x2="274.80" y2="300.70" stroke="#d4d4d4" stroke-width="0.6" />
<line x1="370.20" y1="326.05" x2="298.30" y2="294.75" stroke="#d4d4d4" stroke-width="0.6" />
<line x1="393.70" y1="320.10" x2="321.80" y2="288.80" stroke="#d4d4d4" stroke-width="0.6" />
<line x1="417.20" y1="314.15" x2="345.30" y2="282.85" stroke="#d4d4d4" stroke-width="0.6" />
<line x1="440.70" y1="308.20" x2="368.80" y2="276.90" stroke="#d4d4d4" stroke-width="0.6" />
<line x1="346.70" y1="332.00" x2="440.70" y2="308.20" stroke="#d4d4d4" stroke-width="0.6" />
<line x1="328.73" y1="324.18" x2="422.73" y2="300.38" stroke="#d4d4d4" stroke-width="0.6" />
<line x1="310.75" y1="316.35" x2="404.75" y2="292.55" stroke="#d4d4d4" stroke-width="0.6" />
<line x1="292.78" y1="308.52" x2="386.77" y2="284.73" stroke="#d4d4d4" stroke-width="0.6" />
<line x1="274.80" y1="300.70" x2="368.80" y2="276.90" stroke="#d4d4d4" stroke-width="0.6" />
<line x1="274.80" y1="300.70" x2="368.80" y2="276.90" stroke="#d4d4d4" stroke-width="0.6" />
<line x1="274.80" y1="287.16" x2="368.80" y2="263.36" stroke="#d4d4d4" stroke-width="0.6" />
<line x1="274.80" y1="273.62" x2="368.80" y2="249.82" stroke="#d4d4d4" stroke-width="0.6" />
<line x1="274.80" y1="260.08" x2="368.80" y2="236.28" stroke="#d4d4d4" stroke-width="0.6" />
<line x1="274.80" y1="246.54" x2="368.80" y2="222.74" stroke="#d4d4d4" stroke-width="0.6" />
<line x1="274.80" y1="233.00" x2="368.80" y2="209.20" stroke="#d4d4d4" stroke-width="0.6" />
<line x1="298.30" y1="294.75" x2="298.30" y2="227.05" stroke="#d4d4d4" stroke-width="0.6" />
<line x1="321.80" y1="288.80" x2="321.80" y2="221.10" stroke="#d4d4d4" stroke-width="0.6" />
<line x1="345.30" y1="282.85" x2="345.30" y2="215.15" stroke="#d4d4d4" stroke-width="0.6" />
<line x1="368.80" y1="276.90" x2="368.80" y2="209.20" stroke="#d4d4d4" stroke-width="0.6" />
<line x1="368.80" y1="276.90" x2="440.70" y2="308.20" stroke="#d4d4d4" stroke-width="0.6" />
<line x1="368.80" y1="263.36" x2="440.70" y2="294.66" stroke="#d4d4d4" stroke-width="0.6" />
<line x1="368.80" y1="249.82" x2="440.70" y2="281.12" stroke="#d4d4d4" stroke-width="0.6" />
<line x1="368.80" y1="236.28" x2="440.70" y2="267.58" stroke="#d4d4d4" stroke-width="0.6" />
<line x1="368.80" y1="222.74" x2="440.70" y2="254.04" stroke="#d4d4d4" stroke-width="0.6" />
<line x1="368.80" y1="209.20" x2="440.70" y2="240.50" stroke="#d4d4d4" stroke-width="0.6" />
<line x1="440.70" y1="308.20" x2="440.70" y2="240.50" stroke="#d4d4d4" stroke-width="0.6" />
<line x1="422.73" y1="300.38" x2="422.73" y2="232.68" stroke="#d4d4d4" stroke-width="0.6" />
<line x1="404.75" y1="292.55" x2="404.75" y2="224.85" stroke="#d4d4d4" stroke-width="0.6" />
<line x1="386.77" y1="284.73" x2="386.77" y2="217.02" stroke="#d4d4d4" stroke-width="0.6" />
<line x1="365.91" y1="278.73" x2="365.91" y2="320.95" stroke="#111" stroke-width="1.1" stroke-dasharray="3.5 2.95"/>
<line x1="365.91" y1="320.95" x2="374.90" y2="324.86" stroke="#111" stroke-width="1.1" stroke-dasharray="3.5 2.95"/>
<line x1="365.91" y1="320.95" x2="337.71" y2="328.09" stroke="#111" stroke-width="1.1" stroke-dasharray="3.5 2.95"/>
<path d="M368.4 256.1 368.8 251.2 359.4 252.2z" fill="url(#g27a)" stroke="url(#g27a)"/>
<path d="M368.4 256.1 377.8 253.7 368.8 251.2z" fill="url(#g27b)" stroke="url(#g27b)"/>
<path d="M359 258.5 359.4 252.2 350 253.2z" fill="url(#g27c)" stroke="url(#g27c)"/>
<path d="M359 258.5 368.4 256.1 359.4 252.2z" fill="#36c892" stroke="#36c892"/>
<path d="M377.4 261.6 377.8 253.7 368.4 256.1z" fill="url(#g27d)" stroke="url(#g27d)"/>
<path d="M377.4 261.6 386.8 259.3 377.8 253.7z" fill="url(#g27e)" stroke="url(#g27e)"/>
<path d="M349.6 259.5 350 253.2 340.6 253.6z" fill="url(#g27f)" stroke="url(#g27f)"/>
<path d="M349.6 259.5 359 258.5 350 253.2z" fill="url(#g280)" stroke="url(#g280)"/>
<path d="M368 263.8 368.4 256.1 359 258.5z" fill="url(#g281)" stroke="url(#g281)"/>
<path d="M368 263.8 377.4 261.6 368.4 256.1z" fill="url(#g282)" stroke="url(#g282)"/>
<path d="M386.4 267.1 386.8 259.3 377.4 261.6z" fill="url(#g283)" stroke="url(#g283)"/>
<path d="M340.2 259.9 340.6 253.6 331.2 254.6z" fill="url(#g284)" stroke="url(#g284)"/>
<path d="M386.4 267.1 395.8 264.9 386.8 259.3z" fill="url(#g285)" stroke="url(#g285)"/>
<path d="M340.2 259.9 349.6 259.5 340.6 253.6z" fill="url(#g286)" stroke="url(#g286)"/>
<path d="M358.6 264.8 359 258.5 349.6 259.5z" fill="url(#g287)" stroke="url(#g287)"/>
<path d="M358.6 264.8 368 263.8 359 258.5z" fill="url(#g288)" stroke="url(#g288)"/>
<path d="M377 269 377.4 261.6 368 263.8z" fill="url(#g289)" stroke="url(#g289)"/>
<path d="M330.8 260.2 331.2 254.6 321.8 254.9z" fill="url(#g28a)" stroke="url(#g28a)"/>
<path d="M377 269 386.4 267.1 377.4 261.6z" fill="url(#g28b)" stroke="url(#g28b)"/>
<path d="M330.8 260.2 340.2 259.9 331.2 254.6z" fill="url(#g28c)" stroke="url(#g28c)"/>
<path d="M395.4 272.6 395.8 264.9 386.4 267.1z" fill="url(#g28d)" stroke="url(#g28d)"/>
<path d="M349.2 265.1 349.6 259.5 340.2 259.9z" fill="url(#g28e)" stroke="url(#g28e)"/>
<path d="M395.4 272.6 404.8 270.3 395.8 264.9z" fill="url(#g28f)" stroke="url(#g28f)"/>
<path d="M349.2 265.1 358.6 264.8 349.6 259.5z" fill="url(#g290)" stroke="url(#g290)"/>
<path d="M367.6 270.1 368 263.8 358.6 264.8z" fill="url(#g291)" stroke="url(#g291)"/>
<path d="M367.6 270.1 377 269 368 263.8z" fill="url(#g292)" stroke="url(#g292)"/>
<path d="M321.4 260.6 321.8 254.9 312.4 256z" fill="url(#g293)" stroke="url(#g293)"/>
<path d="M321.4 260.6 330.8 260.2 321.8 254.9z" fill="url(#g294)" stroke="url(#g294)"/>
<path d="M386 274.3 386.4 267.1 377 269z" fill="url(#g295)" stroke="url(#g295)"/>
<path d="M339.8 265.5 340.2 259.9 330.8 260.2z" fill="url(#g296)" stroke="url(#g296)"/>
<path d="M386 274.3 395.4 272.6 386.4 267.1z" fill="url(#g297)" stroke="url(#g297)"/>
<path d="M339.8 265.5 349.2 265.1 340.2 259.9z" fill="url(#g298)" stroke="url(#g298)"/>
<path d="M404.3 277.2 404.8 270.3 395.4 272.6z" fill="url(#g299)" stroke="url(#g299)"/>
<path d="M358.2 271.1 358.6 264.8 349.2 265.1z" fill="url(#g29a)" stroke="url(#g29a)"/>
<path d="M358.2 271.1 367.6 270.1 358.6 264.8z" fill="url(#g29b)" stroke="url(#g29b)"/>
<path d="M312 261.6 312.4 256 303 257z" fill="url(#g29c)" stroke="url(#g29c)"/>
<path d="M404.3 277.2 413.7 275.1 404.8 270.3z" fill="url(#g29d)" stroke="url(#g29d)"/>
<path d="M312 261.6 321.4 260.6 312.4 256z" fill="url(#g29e)" stroke="url(#g29e)"/>
<path d="M376.6 275.3 377 269 367.6 270.1z" fill="url(#g29f)" stroke="url(#g29f)"/>
<path d="M376.6 275.3 386 274.3 377 269z" fill="url(#g2a0)" stroke="url(#g2a0)"/>
<path d="M330.4 265.2 330.8 260.2 321.4 260.6z" fill="url(#g2a1)" stroke="url(#g2a1)"/>
<path d="M330.4 265.2 339.8 265.5 330.8 260.2z" fill="url(#g2a2)" stroke="url(#g2a2)"/>
<path d="M394.9 278.9 395.4 272.6 386 274.3z" fill="url(#g2a3)" stroke="url(#g2a3)"/>
<path d="M348.8 270.1 349.2 265.1 339.8 265.5z" fill="url(#g2a4)" stroke="url(#g2a4)"/>
<path d="M394.9 278.9 404.3 277.2 395.4 272.6z" fill="url(#g2a5)" stroke="url(#g2a5)"/>
<path d="M302.6 262.6 303 257 293.6 258z" fill="url(#g2a6)" stroke="url(#g2a6)"/>
<path d="M348.8 270.1 358.2 271.1 349.2 265.1z" fill="url(#g2a7)" stroke="url(#g2a7)"/>
<path d="M302.6 262.6 312 261.6 303 257z" fill="url(#g2a8)" stroke="url(#g2a8)"/>
<path d="M367.2 275.7 367.6 270.1 358.2 271.1z" fill="url(#g2a9)" stroke="url(#g2a9)"/>
<path d="M413.3 281.1 413.7 275.1 404.3 277.2z" fill="#04b6cd" stroke="#04b6cd"/>
<path d="M367.2 275.7 376.6 275.3 367.6 270.1z" fill="url(#g2aa)" stroke="url(#g2aa)"/>
<path d="M321 265.5 321.4 260.6 312 261.6z" fill="url(#g2ab)" stroke="url(#g2ab)"/>
<path d="M413.3 281.1 422.7 278.7 413.7 275.1z" fill="#04b6cd" stroke="#04b6cd"/>
<path d="M321 265.5 330.4 265.2 321.4 260.6z" fill="url(#g2ac)" stroke="url(#g2ac)"/>
<path d="M385.5 279.9 386 274.3 376.6 275.3z" fill="url(#g2ad)" stroke="url(#g2ad)"/>
<path d="M385.5 279.9 394.9 278.9 386 274.3z" fill="url(#g2ae)" stroke="url(#g2ae)"/>
<path d="M339.4 269.1 339.8 265.5 330.4 265.2z" fill="url(#g2af)" stroke="url(#g2af)"/>
<path d="M293.2 263 293.6 258 284.2 259.1z" fill="url(#g2b0)" stroke="url(#g2b0)"/>
<path d="M339.4 269.1 348.8 270.1 339.8 265.5z" fill="url(#g2b1)" stroke="url(#g2b1)"/>
<path d="M293.2 263 302.6 262.6 293.6 258z" fill="url(#g2b2)" stroke="url(#g2b2)"/>
<path d="M403.9 282.8 404.3 277.2 394.9 278.9z" fill="url(#g2b3)" stroke="url(#g2b3)"/>
<path d="M357.8 274.7 358.2 271.1 348.8 270.1z" fill="url(#g2b4)" stroke="url(#g2b4)"/>
<path d="M403.9 282.8 413.3 281.1 404.3 277.2z" fill="url(#g2b5)" stroke="url(#g2b5)"/>
<path d="M357.8 274.7 367.2 275.7 358.2 271.1z" fill="url(#g2b6)" stroke="url(#g2b6)"/>
<path d="M311.6 265.9 312 261.6 302.6 262.6z" fill="url(#g2b7)" stroke="url(#g2b7)"/>
<path d="M311.6 265.9 321 265.5 312 261.6z" fill="url(#g2b8)" stroke="url(#g2b8)"/>
<path d="M376.1 280.3 376.6 275.3 367.2 275.7z" fill="url(#g2b9)" stroke="url(#g2b9)"/>
<path d="M422.3 284.3 422.7 278.7 413.3 281.1z" fill="url(#g2ba)" stroke="url(#g2ba)"/>
<path d="M376.1 280.3 385.5 279.9 376.6 275.3z" fill="url(#g2bb)" stroke="url(#g2bb)"/>
<path d="M283.8 263 284.2 259.1 274.8 260.1z" fill="url(#g2bc)" stroke="url(#g2bc)"/>
<path d="M330 268.7 330.4 265.2 321 265.5z" fill="url(#g2bd)" stroke="url(#g2bd)"/>
<path d="M422.3 284.3 431.7 282.6 422.7 278.7z" fill="url(#g2be)" stroke="url(#g2be)"/>
<path d="M330 268.7 339.4 269.1 330.4 265.2z" fill="url(#g2bf)" stroke="url(#g2bf)"/>
<path d="M283.8 263 293.2 263 284.2 259.1z" fill="url(#g2c0)" stroke="url(#g2c0)"/>
<path d="M394.5 283.8 394.9 278.9 385.5 279.9z" fill="url(#g2c1)" stroke="url(#g2c1)"/>
<path d="M394.5 283.8 403.9 282.8 394.9 278.9z" fill="url(#g2c2)" stroke="url(#g2c2)"/>
<path d="M348.4 273 348.8 270.1 339.4 269.1z" fill="url(#g2c3)" stroke="url(#g2c3)"/>
<path d="M302.2 265.5 302.6 262.6 293.2 263z" fill="url(#g2c4)" stroke="url(#g2c4)"/>
<path d="M348.4 273 357.8 274.7 348.8 270.1z" fill="url(#g2c5)" stroke="url(#g2c5)"/>
<path d="M302.2 265.5 311.6 265.9 302.6 262.6z" fill="url(#g2c6)" stroke="url(#g2c6)"/>
<path d="M412.9 286 413.3 281.1 403.9 282.8z" fill="url(#g2c7)" stroke="url(#g2c7)"/>
<path d="M366.7 278.6 367.2 275.7 357.8 274.7z" fill="url(#g2c8)" stroke="url(#g2c8)"/>
<path d="M366.7 278.6 376.1 280.3 367.2 275.7z" fill="url(#g2c9)" stroke="url(#g2c9)"/>
<path d="M412.9 286 422.3 284.3 413.3 281.1z" fill="url(#g2ca)" stroke="url(#g2ca)"/>
<path d="M320.6 268.4 321 265.5 311.6 265.9z" fill="url(#g2cb)" stroke="url(#g2cb)"/>
<path d="M320.6 268.4 330 268.7 321 265.5z" fill="url(#g2cc)" stroke="url(#g2cc)"/>
<path d="M385.1 283.5 385.5 279.9 376.1 280.3z" fill="url(#g2cd)" stroke="url(#g2cd)"/>
<path d="M431.3 288.2 431.7 282.6 422.3 284.3z" fill="url(#g2ce)" stroke="url(#g2ce)"/>
<path d="M385.1 283.5 394.5 283.8 385.5 279.9z" fill="url(#g2cf)" stroke="url(#g2cf)"/>
<path d="M292.8 265.9 293.2 263 283.8 263z" fill="url(#g2d0)" stroke="url(#g2d0)"/>
<path d="M338.9 271.3 339.4 269.1 330 268.7z" fill="url(#g2d1)" stroke="url(#g2d1)"/>
<path d="M431.3 288.2 440.7 286.5 431.7 282.6z" fill="url(#g2d2)" stroke="url(#g2d2)"/>
<path d="M338.9 271.3 348.4 273 339.4 269.1z" fill="url(#g2d3)" stroke="url(#g2d3)"/>
<path d="M292.8 265.9 302.2 265.5 293.2 263z" fill="url(#g2d4)" stroke="url(#g2d4)"/>
<path d="M403.5 287.7 403.9 282.8 394.5 283.8z" fill="url(#g2d5)" stroke="url(#g2d5)"/>
<path d="M403.5 287.7 412.9 286 403.9 282.8z" fill="url(#g2d6)" stroke="url(#g2d6)"/>
<path d="M357.3 275.5 357.8 274.7 348.4 273z" fill="url(#g2d7)" stroke="url(#g2d7)"/>
<path d="M311.2 266.7 311.6 265.9 302.2 265.5z" fill="url(#g2d8)" stroke="url(#g2d8)"/>
<path d="M357.3 275.5 366.7 278.6 357.8 274.7z" fill="url(#g2d9)" stroke="url(#g2d9)"/>
<path d="M311.2 266.7 320.6 268.4 311.6 265.9z" fill="url(#g2da)" stroke="url(#g2da)"/>
<path d="M421.9 290.6 422.3 284.3 412.9 286z" fill="url(#g2db)" stroke="url(#g2db)"/>
<path d="M375.7 281.8 376.1 280.3 366.7 278.6z" fill="url(#g2dc)" stroke="url(#g2dc)"/>
<path d="M421.9 290.6 431.3 288.2 422.3 284.3z" fill="#01b9c6" stroke="#01b9c6"/>
<path d="M375.7 281.8 385.1 283.5 376.1 280.3z" fill="url(#g2dd)" stroke="url(#g2dd)"/>
<path d="M329.6 269.6 330 268.7 320.6 268.4z" fill="url(#g2de)" stroke="url(#g2de)"/>
<path d="M329.6 269.6 338.9 271.3 330 268.7z" fill="url(#g2df)" stroke="url(#g2df)"/>
<path d="M394.1 286.7 394.5 283.8 385.1 283.5z" fill="url(#g2e0)" stroke="url(#g2e0)"/>
<path d="M394.1 286.7 403.5 287.7 394.5 283.8z" fill="url(#g2e1)" stroke="url(#g2e1)"/>
<path d="M301.8 268.7 302.2 265.5 292.8 265.9z" fill="url(#g2e2)" stroke="url(#g2e2)"/>
<path d="M347.9 272.5 348.4 273 338.9 271.3z" fill="url(#g2e3)" stroke="url(#g2e3)"/>
<path d="M412.5 292.3 412.9 286 403.5 287.7z" fill="url(#g2e4)" stroke="url(#g2e4)"/>
<path d="M347.9 272.5 357.3 275.5 348.4 273z" fill="url(#g2e5)" stroke="url(#g2e5)"/>
<path d="M301.8 268.7 311.2 266.7 302.2 265.5z" fill="url(#g2e6)" stroke="url(#g2e6)"/>
<path d="M412.5 292.3 421.9 290.6 412.9 286z" fill="url(#g2e7)" stroke="url(#g2e7)"/>
<path d="M366.3 277.4 366.7 278.6 357.3 275.5z" fill="url(#g2e8)" stroke="url(#g2e8)"/>
<path d="M366.3 277.4 375.7 281.8 366.7 278.6z" fill="url(#g2e9)" stroke="url(#g2e9)"/>
<path d="M320.2 269.3 320.6 268.4 311.2 266.7z" fill="url(#g2ea)" stroke="url(#g2ea)"/>
<path d="M320.2 269.3 329.6 269.6 320.6 268.4z" fill="url(#g2eb)" stroke="url(#g2eb)"/>
<path d="M384.7 283 385.1 283.5 375.7 281.8z" fill="url(#g2ec)" stroke="url(#g2ec)"/>
<path d="M384.7 283 394.1 286.7 385.1 283.5z" fill="url(#g2ed)" stroke="url(#g2ed)"/>
<path d="M338.5 270.8 338.9 271.3 329.6 269.6z" fill="url(#g2ee)" stroke="url(#g2ee)"/>
<path d="M403.1 290 403.5 287.7 394.1 286.7z" fill="url(#g2ef)" stroke="url(#g2ef)"/>
<path d="M338.5 270.8 347.9 272.5 338.9 271.3z" fill="url(#g2f0)" stroke="url(#g2f0)"/>
<path d="M403.1 290 412.5 292.3 403.5 287.7z" fill="url(#g2f1)" stroke="url(#g2f1)"/>
<path d="M310.8 271.7 311.2 266.7 301.8 268.7z" fill="url(#g2f2)" stroke="url(#g2f2)"/>
<path d="M356.9 272.4 357.3 275.5 347.9 272.5z" fill="url(#g2f3)" stroke="url(#g2f3)"/>
<path d="M356.9 272.4 366.3 277.4 357.3 275.5z" fill="url(#g2f4)" stroke="url(#g2f4)"/>
<path d="M310.8 271.7 320.2 269.3 311.2 266.7z" fill="url(#g2f5)" stroke="url(#g2f5)"/>
<path d="M375.3 277.9 375.7 281.8 366.3 277.4z" fill="url(#g2f6)" stroke="url(#g2f6)"/>
<path d="M375.3 277.9 384.7 283 375.7 281.8z" fill="url(#g2f7)" stroke="url(#g2f7)"/>
<path d="M329.1 272.5 329.6 269.6 320.2 269.3z" fill="url(#g2f8)" stroke="url(#g2f8)"/>
<path d="M329.1 272.5 338.5 270.8 329.6 269.6z" fill="url(#g2f9)" stroke="url(#g2f9)"/>
<path d="M393.7 285.6 394.1 286.7 384.7 283z" fill="url(#g2fa)" stroke="url(#g2fa)"/>
<path d="M393.7 285.6 403.1 290 394.1 286.7z" fill="url(#g2fb)" stroke="url(#g2fb)"/>
<path d="M347.5 273.4 347.9 272.5 338.5 270.8z" fill="url(#g2fc)" stroke="url(#g2fc)"/>
<path d="M347.5 273.4 356.9 272.4 347.9 272.5z" fill="url(#g2fd)" stroke="url(#g2fd)"/>
<path d="M319.7 274.6 320.2 269.3 310.8 271.7z" fill="url(#g2fe)" stroke="url(#g2fe)"/>
<path d="M365.9 274.2 366.3 277.4 356.9 272.4z" fill="url(#g2ff)" stroke="url(#g2ff)"/>
<path d="M319.7 274.6 329.1 272.5 320.2 269.3z" fill="url(#g300)" stroke="url(#g300)"/>
<path d="M365.9 274.2 375.3 277.9 366.3 277.4z" fill="url(#g301)" stroke="url(#g301)"/>
<path d="M384.3 279.8 384.7 283 375.3 277.9z" fill="url(#g302)" stroke="url(#g302)"/>
<path d="M338.1 275.4 338.5 270.8 329.1 272.5z" fill="url(#g303)" stroke="url(#g303)"/>
<path d="M384.3 279.8 393.7 285.6 384.7 283z" fill="url(#g304)" stroke="url(#g304)"/>
<path d="M338.1 275.4 347.5 273.4 338.5 270.8z" fill="url(#g305)" stroke="url(#g305)"/>
<path d="M356.5 277.3 356.9 272.4 347.5 273.4z" fill="url(#g306)" stroke="url(#g306)"/>
<path d="M356.5 277.3 365.9 274.2 356.9 272.4z" fill="url(#g307)" stroke="url(#g307)"/>
<path d="M328.7 277.7 329.1 272.5 319.7 274.6z" fill="url(#g308)" stroke="url(#g308)"/>
<path d="M374.9 278.8 375.3 277.9 365.9 274.2z" fill="url(#g309)" stroke="url(#g309)"/>
<path d="M328.7 277.7 338.1 275.4 329.1 272.5z" fill="url(#g30a)" stroke="url(#g30a)"/>
<path d="M374.9 278.8 384.3 279.8 375.3 277.9z" fill="url(#g30b)" stroke="url(#g30b)"/>
<path d="M347.1 281 347.5 273.4 338.1 275.4z" fill="url(#g30c)" stroke="url(#g30c)"/>
<path d="M347.1 281 356.5 277.3 347.5 273.4z" fill="url(#g30d)" stroke="url(#g30d)"/>
<path d="M365.5 281.9 365.9 274.2 356.5 277.3z" fill="url(#g30e)" stroke="url(#g30e)"/>
<path d="M365.5 281.9 374.9 278.8 365.9 274.2z" fill="url(#g30f)" stroke="url(#g30f)"/>
<path d="M337.7 285.4 338.1 275.4 328.7 277.7z" fill="url(#g310)" stroke="url(#g310)"/>
<path d="M337.7 285.4 347.1 281 338.1 275.4z" fill="url(#g311)" stroke="url(#g311)"/>
<path d="M356.1 286.3 356.5 277.3 347.1 281z" fill="url(#g312)" stroke="url(#g312)"/>
<path d="M356.1 286.3 365.5 281.9 356.5 277.3z" fill="url(#g313)" stroke="url(#g313)"/>
<path d="M346.7 291.4 347.1 281 337.7 285.4z" fill="url(#g314)" stroke="url(#g314)"/>
<path d="M346.7 291.4 356.1 286.3 347.1 281z" fill="url(#g315)" stroke="url(#g315)"/>
<line x1="274.80" y1="300.70" x2="274.80" y2="233.00" stroke="#3a3a3a" stroke-width="0.7" />
<line x1="274.80" y1="300.70" x2="346.70" y2="332.00" stroke="#3a3a3a" stroke-width="0.7" />
<line x1="346.70" y1="332.00" x2="440.70" y2="308.20" stroke="#3a3a3a" stroke-width="0.7" />
<line x1="274.80" y1="300.70" x2="272.60" y2="299.74" stroke="#3a3a3a" stroke-width="0.7" />
<line x1="274.80" y1="287.16" x2="272.60" y2="286.20" stroke="#3a3a3a" stroke-width="0.7" />
<line x1="274.80" y1="273.62" x2="272.60" y2="272.66" stroke="#3a3a3a" stroke-width="0.7" />
<line x1="274.80" y1="260.08" x2="272.60" y2="259.12" stroke="#3a3a3a" stroke-width="0.7" />
<line x1="274.80" y1="246.54" x2="272.60" y2="245.58" stroke="#3a3a3a" stroke-width="0.7" />
<line x1="274.80" y1="233.00" x2="272.60" y2="232.04" stroke="#3a3a3a" stroke-width="0.7" />
<line x1="346.70" y1="332.00" x2="344.37" y2="332.59" stroke="#3a3a3a" stroke-width="0.7" />
<line x1="328.73" y1="324.18" x2="326.40" y2="324.76" stroke="#3a3a3a" stroke-width="0.7" />
<line x1="310.75" y1="316.35" x2="308.42" y2="316.94" stroke="#3a3a3a" stroke-width="0.7" />
<line x1="292.78" y1="308.52" x2="290.45" y2="309.11" stroke="#3a3a3a" stroke-width="0.7" />
<line x1="274.80" y1="300.70" x2="272.47" y2="301.29" stroke="#3a3a3a" stroke-width="0.7" />
<line x1="346.70" y1="332.00" x2="348.90" y2="332.96" stroke="#3a3a3a" stroke-width="0.7" />
<line x1="370.20" y1="326.05" x2="372.40" y2="327.01" stroke="#3a3a3a" stroke-width="0.7" />
<line x1="393.70" y1="320.10" x2="395.90" y2="321.06" stroke="#3a3a3a" stroke-width="0.7" />
<line x1="417.20" y1="314.15" x2="419.40" y2="315.11" stroke="#3a3a3a" stroke-width="0.7" />
<line x1="440.70" y1="308.20" x2="442.90" y2="309.16" stroke="#3a3a3a" stroke-width="0.7" />
<circle cx="365.91" cy="274.23" r="3.1" fill="#ff0000" clip-path="url(#k4)"/>
<text transform="translate(269.20,299.60)" text-anchor="end" dominant-baseline="central" class="tk">0.5</text>
<text transform="translate(269.20,286.06)" text-anchor="end" dominant-baseline="central" class="tk">0.6</text>
<text transform="translate(269.20,272.52)" text-anchor="end" dominant-baseline="central" class="tk">0.7</text>
<text transform="translate(269.20,258.98)" text-anchor="end" dominant-baseline="central" class="tk">0.8</text>
<text transform="translate(269.20,245.44)" text-anchor="end" dominant-baseline="central" class="tk">0.9</text>
<text transform="translate(269.20,231.90)" text-anchor="end" dominant-baseline="central" class="tk">1</text>
<text transform="translate(336.20,342.20)" text-anchor="middle" dominant-baseline="central" class="tk">0</text>
<text transform="translate(318.23,334.38)" text-anchor="middle" dominant-baseline="central" class="tk">1</text>
<text transform="translate(300.25,326.55)" text-anchor="middle" dominant-baseline="central" class="tk">2</text>
<text transform="translate(282.28,318.72)" text-anchor="middle" dominant-baseline="central" class="tk">3</text>
<text transform="translate(264.30,310.90)" text-anchor="middle" dominant-baseline="central" class="tk">4</text>
<text transform="translate(352.10,334.80) rotate(70)" dominant-baseline="central" class="tk">-1</text>
<text transform="translate(375.60,328.85) rotate(70)" dominant-baseline="central" class="tk">-0.5</text>
<text transform="translate(399.10,322.90) rotate(70)" dominant-baseline="central" class="tk">0</text>
<text transform="translate(422.60,316.95) rotate(70)" dominant-baseline="central" class="tk">0.5</text>
<text transform="translate(446.10,311.00) rotate(70)" dominant-baseline="central" class="tk">1</text>
<text transform="translate(238.40,267.00) rotate(-90) scale(1.29,1)" text-anchor="middle" dominant-baseline="central" class="lab">DI</text>
<text transform="translate(295.00,350.50) scale(1.15,1)" text-anchor="middle" dominant-baseline="central" class="lab">SF</text>
<text transform="translate(419.20,361.30) scale(1.29,1)" text-anchor="middle" dominant-baseline="central" class="lab">CB</text>
<text transform="translate(356.51,249.63) scale(1.090,1)" class="an ai">DI</text>
<text transform="translate(371.51,251.43) scale(1.100,1)" class="an as">max</text>
<path d="M393.21 245.03h7.6M393.21 247.93h7.6" stroke="#000" stroke-width="0.85" fill="none"/>
<text transform="translate(405.71,249.63) scale(0.950,1)" class="an">0.845</text>
<text x="356.01" y="264.63" class="an">at</text>
<text x="371.21" y="264.63" class="an">(</text>
<text transform="translate(374.84,264.63) scale(1.270,1)" class="an">−</text>
<text x="385.11" y="264.63" class="an">0.4,</text>
<text x="408.51" y="264.63" class="an">0.5)</text>
<text x="346.50" y="384.60" text-anchor="middle" class="cap"><tspan class="capb">(e)</tspan> GAC, 15 iterations</text>
<line x1="579.00" y1="332.00" x2="507.10" y2="300.70" stroke="#d4d4d4" stroke-width="0.6" />
<line x1="602.50" y1="326.05" x2="530.60" y2="294.75" stroke="#d4d4d4" stroke-width="0.6" />
<line x1="626.00" y1="320.10" x2="554.10" y2="288.80" stroke="#d4d4d4" stroke-width="0.6" />
<line x1="649.50" y1="314.15" x2="577.60" y2="282.85" stroke="#d4d4d4" stroke-width="0.6" />
<line x1="673.00" y1="308.20" x2="601.10" y2="276.90" stroke="#d4d4d4" stroke-width="0.6" />
<line x1="579.00" y1="332.00" x2="673.00" y2="308.20" stroke="#d4d4d4" stroke-width="0.6" />
<line x1="561.03" y1="324.18" x2="655.03" y2="300.38" stroke="#d4d4d4" stroke-width="0.6" />
<line x1="543.05" y1="316.35" x2="637.05" y2="292.55" stroke="#d4d4d4" stroke-width="0.6" />
<line x1="525.08" y1="308.52" x2="619.08" y2="284.73" stroke="#d4d4d4" stroke-width="0.6" />
<line x1="507.10" y1="300.70" x2="601.10" y2="276.90" stroke="#d4d4d4" stroke-width="0.6" />
<line x1="507.10" y1="300.70" x2="601.10" y2="276.90" stroke="#d4d4d4" stroke-width="0.6" />
<line x1="507.10" y1="287.16" x2="601.10" y2="263.36" stroke="#d4d4d4" stroke-width="0.6" />
<line x1="507.10" y1="273.62" x2="601.10" y2="249.82" stroke="#d4d4d4" stroke-width="0.6" />
<line x1="507.10" y1="260.08" x2="601.10" y2="236.28" stroke="#d4d4d4" stroke-width="0.6" />
<line x1="507.10" y1="246.54" x2="601.10" y2="222.74" stroke="#d4d4d4" stroke-width="0.6" />
<line x1="507.10" y1="233.00" x2="601.10" y2="209.20" stroke="#d4d4d4" stroke-width="0.6" />
<line x1="530.60" y1="294.75" x2="530.60" y2="227.05" stroke="#d4d4d4" stroke-width="0.6" />
<line x1="554.10" y1="288.80" x2="554.10" y2="221.10" stroke="#d4d4d4" stroke-width="0.6" />
<line x1="577.60" y1="282.85" x2="577.60" y2="215.15" stroke="#d4d4d4" stroke-width="0.6" />
<line x1="601.10" y1="276.90" x2="601.10" y2="209.20" stroke="#d4d4d4" stroke-width="0.6" />
<line x1="601.10" y1="276.90" x2="673.00" y2="308.20" stroke="#d4d4d4" stroke-width="0.6" />
<line x1="601.10" y1="263.36" x2="673.00" y2="294.66" stroke="#d4d4d4" stroke-width="0.6" />
<line x1="601.10" y1="249.82" x2="673.00" y2="281.12" stroke="#d4d4d4" stroke-width="0.6" />
<line x1="601.10" y1="236.28" x2="673.00" y2="267.58" stroke="#d4d4d4" stroke-width="0.6" />
<line x1="601.10" y1="222.74" x2="673.00" y2="254.04" stroke="#d4d4d4" stroke-width="0.6" />
<line x1="601.10" y1="209.20" x2="673.00" y2="240.50" stroke="#d4d4d4" stroke-width="0.6" />
<line x1="673.00" y1="308.20" x2="673.00" y2="240.50" stroke="#d4d4d4" stroke-width="0.6" />
<line x1="655.03" y1="300.38" x2="655.03" y2="232.68" stroke="#d4d4d4" stroke-width="0.6" />
<line x1="637.05" y1="292.55" x2="637.05" y2="224.85" stroke="#d4d4d4" stroke-width="0.6" />
<line x1="619.08" y1="284.73" x2="619.08" y2="217.02" stroke="#d4d4d4" stroke-width="0.6" />
<line x1="589.23" y1="274.96" x2="589.23" y2="317.03" stroke="#111" stroke-width="1.1" stroke-dasharray="3.5 2.95"/>
<line x1="589.23" y1="317.03" x2="607.20" y2="324.86" stroke="#111" stroke-width="1.1" stroke-dasharray="3.5 2.95"/>
<line x1="589.23" y1="317.03" x2="561.03" y2="324.18" stroke="#111" stroke-width="1.1" stroke-dasharray="3.5 2.95"/>
<path d="M600.7 264.2 601.1 259 591.7 259z" fill="url(#g316)" stroke="url(#g316)"/>
<path d="M600.7 264.2 610.1 262.9 601.1 259z" fill="url(#g317)" stroke="url(#g317)"/>
<path d="M591.3 265.3 591.7 259 582.3 258.9z" fill="url(#g318)" stroke="url(#g318)"/>
<path d="M591.3 265.3 600.7 264.2 591.7 259z" fill="url(#g319)" stroke="url(#g319)"/>
<path d="M609.7 268.8 610.1 262.9 600.7 264.2z" fill="url(#g31a)" stroke="url(#g31a)"/>
<path d="M609.7 268.8 619.1 266.4 610.1 262.9z" fill="url(#g31b)" stroke="url(#g31b)"/>
<path d="M581.9 265.6 582.3 258.9 572.9 259z" fill="url(#g31c)" stroke="url(#g31c)"/>
<path d="M581.9 265.6 591.3 265.3 582.3 258.9z" fill="url(#g31d)" stroke="url(#g31d)"/>
<path d="M600.3 270.5 600.7 264.2 591.3 265.3z" fill="url(#g31e)" stroke="url(#g31e)"/>
<path d="M600.3 270.5 609.7 268.8 600.7 264.2z" fill="url(#g31f)" stroke="url(#g31f)"/>
<path d="M618.7 273.4 619.1 266.4 609.7 268.8z" fill="url(#g320)" stroke="url(#g320)"/>
<path d="M572.5 266 572.9 259 563.5 259.3z" fill="url(#g321)" stroke="url(#g321)"/>
<path d="M618.7 273.4 628.1 269.4 619.1 266.4z" fill="url(#g322)" stroke="url(#g322)"/>
<path d="M572.5 266 581.9 265.6 572.9 259z" fill="url(#g323)" stroke="url(#g323)"/>
<path d="M590.9 271.6 591.3 265.3 581.9 265.6z" fill="url(#g324)" stroke="url(#g324)"/>
<path d="M590.9 271.6 600.3 270.5 591.3 265.3z" fill="url(#g325)" stroke="url(#g325)"/>
<path d="M609.3 275.8 609.7 268.8 600.3 270.5z" fill="url(#g326)" stroke="url(#g326)"/>
<path d="M609.3 275.8 618.7 273.4 609.7 268.8z" fill="url(#g327)" stroke="url(#g327)"/>
<path d="M563.1 265.6 563.5 259.3 554.1 259z" fill="url(#g328)" stroke="url(#g328)"/>
<path d="M563.1 265.6 572.5 266 563.5 259.3z" fill="url(#g329)" stroke="url(#g329)"/>
<path d="M581.5 271.2 581.9 265.6 572.5 266z" fill="url(#g32a)" stroke="url(#g32a)"/>
<path d="M627.7 277.3 628.1 269.4 618.7 273.4z" fill="url(#g32b)" stroke="url(#g32b)"/>
<path d="M581.5 271.2 590.9 271.6 581.9 265.6z" fill="url(#g32c)" stroke="url(#g32c)"/>
<path d="M627.7 277.3 637 273.5 628.1 269.4z" fill="url(#g32d)" stroke="url(#g32d)"/>
<path d="M599.9 276.8 600.3 270.5 590.9 271.6z" fill="url(#g32e)" stroke="url(#g32e)"/>
<path d="M599.9 276.8 609.3 275.8 600.3 270.5z" fill="url(#g32f)" stroke="url(#g32f)"/>
<path d="M553.7 262.6 554.1 259 544.7 258z" fill="url(#g330)" stroke="url(#g330)"/>
<path d="M553.7 262.6 563.1 265.6 554.1 259z" fill="url(#g331)" stroke="url(#g331)"/>
<path d="M618.2 279.7 618.7 273.4 609.3 275.8z" fill="#22a1e4" stroke="#22a1e4"/>
<path d="M572.1 270.9 572.5 266 563.1 265.6z" fill="url(#g332)" stroke="url(#g332)"/>
<path d="M618.2 279.7 627.7 277.3 618.7 273.4z" fill="#22a1e4" stroke="#22a1e4"/>
<path d="M572.1 270.9 581.5 271.2 572.5 266z" fill="url(#g333)" stroke="url(#g333)"/>
<path d="M590.5 276.5 590.9 271.6 581.5 271.2z" fill="url(#g334)" stroke="url(#g334)"/>
<path d="M636.6 281.2 637 273.5 627.7 277.3z" fill="url(#g335)" stroke="url(#g335)"/>
<path d="M590.5 276.5 599.9 276.8 590.9 271.6z" fill="url(#g336)" stroke="url(#g336)"/>
<path d="M636.6 281.2 646 277.2 637 273.5z" fill="url(#g337)" stroke="url(#g337)"/>
<path d="M608.9 281.4 609.3 275.8 599.9 276.8z" fill="url(#g338)" stroke="url(#g338)"/>
<path d="M544.3 259.6 544.7 258 535.3 257.7z" fill="url(#g339)" stroke="url(#g339)"/>
<path d="M544.3 259.6 553.7 262.6 544.7 258z" fill="url(#g33a)" stroke="url(#g33a)"/>
<path d="M608.9 281.4 618.2 279.7 609.3 275.8z" fill="url(#g33b)" stroke="url(#g33b)"/>
<path d="M562.7 266.5 563.1 265.6 553.7 262.6z" fill="url(#g33c)" stroke="url(#g33c)"/>
<path d="M562.7 266.5 572.1 270.9 563.1 265.6z" fill="url(#g33d)" stroke="url(#g33d)"/>
<path d="M627.2 283.6 627.7 277.3 618.2 279.7z" fill="#22a1e4" stroke="#22a1e4"/>
<path d="M581.1 274.8 581.5 271.2 572.1 270.9z" fill="url(#g33e)" stroke="url(#g33e)"/>
<path d="M627.2 283.6 636.6 281.2 627.7 277.3z" fill="#22a1e4" stroke="#22a1e4"/>
<path d="M581.1 274.8 590.5 276.5 581.5 271.2z" fill="url(#g33f)" stroke="url(#g33f)"/>
<path d="M599.5 281.1 599.9 276.8 590.5 276.5z" fill="url(#g340)" stroke="url(#g340)"/>
<path d="M534.9 259.2 535.3 257.7 525.9 257.4z" fill="url(#g341)" stroke="url(#g341)"/>
<path d="M599.5 281.1 608.9 281.4 599.9 276.8z" fill="url(#g342)" stroke="url(#g342)"/>
<path d="M645.6 283.8 646 277.2 636.6 281.2z" fill="url(#g343)" stroke="url(#g343)"/>
<path d="M534.9 259.2 544.3 259.6 535.3 257.7z" fill="url(#g344)" stroke="url(#g344)"/>
<path d="M645.6 283.8 655 280.1 646 277.2z" fill="url(#g345)" stroke="url(#g345)"/>
<path d="M617.8 285.3 618.2 279.7 608.9 281.4z" fill="url(#g346)" stroke="url(#g346)"/>
<path d="M553.3 262.1 553.7 262.6 544.3 259.6z" fill="url(#g347)" stroke="url(#g347)"/>
<path d="M553.3 262.1 562.7 266.5 553.7 262.6z" fill="url(#g348)" stroke="url(#g348)"/>
<path d="M617.8 285.3 627.2 283.6 618.2 279.7z" fill="url(#g349)" stroke="url(#g349)"/>
<path d="M571.7 269.1 572.1 270.9 562.7 266.5z" fill="url(#g34a)" stroke="url(#g34a)"/>
<path d="M571.7 269.1 581.1 274.8 572.1 270.9z" fill="url(#g34b)" stroke="url(#g34b)"/>
<path d="M636.2 286.9 636.6 281.2 627.2 283.6z" fill="url(#g34c)" stroke="url(#g34c)"/>
<path d="M525.5 258.9 525.9 257.4 516.5 257.7z" fill="url(#g34d)" stroke="url(#g34d)"/>
<path d="M590.1 278.7 590.5 276.5 581.1 274.8z" fill="url(#g34e)" stroke="url(#g34e)"/>
<path d="M590.1 278.7 599.5 281.1 590.5 276.5z" fill="url(#g34f)" stroke="url(#g34f)"/>
<path d="M636.2 286.9 645.6 283.8 636.6 281.2z" fill="url(#g350)" stroke="url(#g350)"/>
<path d="M525.5 258.9 534.9 259.2 525.9 257.4z" fill="url(#g351)" stroke="url(#g351)"/>
<path d="M608.4 284.3 608.9 281.4 599.5 281.1z" fill="url(#g352)" stroke="url(#g352)"/>
<path d="M543.9 260.4 544.3 259.6 534.9 259.2z" fill="url(#g353)" stroke="url(#g353)"/>
<path d="M608.4 284.3 617.8 285.3 608.9 281.4z" fill="url(#g354)" stroke="url(#g354)"/>
<path d="M654.6 284.3 655 280.1 645.6 283.8z" fill="url(#g355)" stroke="url(#g355)"/>
<path d="M543.9 260.4 553.3 262.1 544.3 259.6z" fill="url(#g356)" stroke="url(#g356)"/>
<path d="M626.8 288.6 627.2 283.6 617.8 285.3z" fill="url(#g357)" stroke="url(#g357)"/>
<path d="M654.6 284.3 664 280.6 655 280.1z" fill="url(#g358)" stroke="url(#g358)"/>
<path d="M516.1 260.5 516.5 257.7 507.1 257.4z" fill="url(#g359)" stroke="url(#g359)"/>
<path d="M562.3 263.3 562.7 266.5 553.3 262.1z" fill="url(#g35a)" stroke="url(#g35a)"/>
<path d="M626.8 288.6 636.2 286.9 627.2 283.6z" fill="url(#g35b)" stroke="url(#g35b)"/>
<path d="M562.3 263.3 571.7 269.1 562.7 266.5z" fill="url(#g35c)" stroke="url(#g35c)"/>
<path d="M516.1 260.5 525.5 258.9 516.5 257.7z" fill="url(#g35d)" stroke="url(#g35d)"/>
<path d="M580.6 271.6 581.1 274.8 571.7 269.1z" fill="url(#g35e)" stroke="url(#g35e)"/>
<path d="M580.6 271.6 590.1 278.7 581.1 274.8z" fill="url(#g35f)" stroke="url(#g35f)"/>
<path d="M645.2 288.7 645.6 283.8 636.2 286.9z" fill="url(#g360)" stroke="url(#g360)"/>
<path d="M599 281.3 599.5 281.1 590.1 278.7z" fill="url(#g361)" stroke="url(#g361)"/>
<path d="M534.5 261.5 534.9 259.2 525.5 258.9z" fill="url(#g362)" stroke="url(#g362)"/>
<path d="M599 281.3 608.4 284.3 599.5 281.1z" fill="url(#g363)" stroke="url(#g363)"/>
<path d="M534.5 261.5 543.9 260.4 534.9 259.2z" fill="url(#g364)" stroke="url(#g364)"/>
<path d="M645.2 288.7 654.6 284.3 645.6 283.8z" fill="url(#g365)" stroke="url(#g365)"/>
<path d="M617.4 287.6 617.8 285.3 608.4 284.3z" fill="url(#g366)" stroke="url(#g366)"/>
<path d="M617.4 287.6 626.8 288.6 617.8 285.3z" fill="url(#g367)" stroke="url(#g367)"/>
<path d="M552.9 262.3 553.3 262.1 543.9 260.4z" fill="url(#g368)" stroke="url(#g368)"/>
<path d="M663.6 286.2 664 280.6 654.6 284.3z" fill="url(#g369)" stroke="url(#g369)"/>
<path d="M552.9 262.3 562.3 263.3 553.3 262.1z" fill="url(#g36a)" stroke="url(#g36a)"/>
<path d="M635.8 291.8 636.2 286.9 626.8 288.6z" fill="url(#g36b)" stroke="url(#g36b)"/>
<path d="M525.1 264.1 525.5 258.9 516.1 260.5z" fill="url(#g36c)" stroke="url(#g36c)"/>
<path d="M663.6 286.2 673 282.5 664 280.6z" fill="url(#g36d)" stroke="url(#g36d)"/>
<path d="M571.2 265.2 571.7 269.1 562.3 263.3z" fill="url(#g36e)" stroke="url(#g36e)"/>
<path d="M635.8 291.8 645.2 288.7 636.2 286.9z" fill="url(#g36f)" stroke="url(#g36f)"/>
<path d="M571.2 265.2 580.6 271.6 571.7 269.1z" fill="url(#g370)" stroke="url(#g370)"/>
<path d="M525.1 264.1 534.5 261.5 525.5 258.9z" fill="url(#g371)" stroke="url(#g371)"/>
<path d="M589.6 272.8 590.1 278.7 580.6 271.6z" fill="url(#g372)" stroke="url(#g372)"/>
<path d="M589.6 272.8 599 281.3 590.1 278.7z" fill="url(#g373)" stroke="url(#g373)"/>
<path d="M608 283.8 608.4 284.3 599 281.3z" fill="url(#g374)" stroke="url(#g374)"/>
<path d="M654.2 290.6 654.6 284.3 645.2 288.7z" fill="url(#g375)" stroke="url(#g375)"/>
<path d="M543.5 264.7 543.9 260.4 534.5 261.5z" fill="url(#g376)" stroke="url(#g376)"/>
<path d="M608 283.8 617.4 287.6 608.4 284.3z" fill="url(#g377)" stroke="url(#g377)"/>
<path d="M543.5 264.7 552.9 262.3 543.9 260.4z" fill="url(#g378)" stroke="url(#g378)"/>
<path d="M654.2 290.6 663.6 286.2 654.6 284.3z" fill="url(#g379)" stroke="url(#g379)"/>
<path d="M626.4 290.1 626.8 288.6 617.4 287.6z" fill="url(#g37a)" stroke="url(#g37a)"/>
<path d="M626.4 290.1 635.8 291.8 626.8 288.6z" fill="url(#g37b)" stroke="url(#g37b)"/>
<path d="M561.9 265.6 562.3 263.3 552.9 262.3z" fill="url(#g37c)" stroke="url(#g37c)"/>
<path d="M561.9 265.6 571.2 265.2 562.3 263.3z" fill="url(#g37d)" stroke="url(#g37d)"/>
<path d="M644.8 296 645.2 288.7 635.8 291.8z" fill="url(#g37e)" stroke="url(#g37e)"/>
<path d="M534.1 268.3 534.5 261.5 525.1 264.1z" fill="url(#g37f)" stroke="url(#g37f)"/>
<path d="M580.2 267.4 580.6 271.6 571.2 265.2z" fill="url(#g380)" stroke="url(#g380)"/>
<path d="M644.8 296 654.2 290.6 645.2 288.7z" fill="url(#g381)" stroke="url(#g381)"/>
<path d="M534.1 268.3 543.5 264.7 534.5 261.5z" fill="url(#g382)" stroke="url(#g382)"/>
<path d="M580.2 267.4 589.6 272.8 580.6 271.6z" fill="url(#g383)" stroke="url(#g383)"/>
<path d="M598.6 275.4 599 281.3 589.6 272.8z" fill="url(#g384)" stroke="url(#g384)"/>
<path d="M598.6 275.4 608 283.8 599 281.3z" fill="url(#g385)" stroke="url(#g385)"/>
<path d="M617 286.4 617.4 287.6 608 283.8z" fill="url(#g386)" stroke="url(#g386)"/>
<path d="M552.5 269.3 552.9 262.3 543.5 264.7z" fill="url(#g387)" stroke="url(#g387)"/>
<path d="M617 286.4 626.4 290.1 617.4 287.6z" fill="url(#g388)" stroke="url(#g388)"/>
<path d="M552.5 269.3 561.9 265.6 552.9 262.3z" fill="url(#g389)" stroke="url(#g389)"/>
<path d="M635.4 293.1 635.8 291.8 626.4 290.1z" fill="url(#g38a)" stroke="url(#g38a)"/>
<path d="M635.4 293.1 644.8 296 635.8 291.8z" fill="url(#g38b)" stroke="url(#g38b)"/>
<path d="M570.8 270.8 571.2 265.2 561.9 265.6z" fill="url(#g38c)" stroke="url(#g38c)"/>
<path d="M570.8 270.8 580.2 267.4 571.2 265.2z" fill="url(#g38d)" stroke="url(#g38d)"/>
<path d="M543.1 274.4 543.5 264.7 534.1 268.3z" fill="url(#g38e)" stroke="url(#g38e)"/>
<path d="M543.1 274.4 552.5 269.3 543.5 264.7z" fill="url(#g38f)" stroke="url(#g38f)"/>
<path d="M589.2 270.5 589.6 272.8 580.2 267.4z" fill="url(#g390)" stroke="url(#g390)"/>
<path d="M589.2 270.5 598.6 275.4 589.6 272.8z" fill="url(#g391)" stroke="url(#g391)"/>
<path d="M607.6 278.6 608 283.8 598.6 275.4z" fill="url(#g392)" stroke="url(#g392)"/>
<path d="M607.6 278.6 617 286.4 608 283.8z" fill="url(#g393)" stroke="url(#g393)"/>
<path d="M561.4 277.3 561.9 265.6 552.5 269.3z" fill="url(#g394)" stroke="url(#g394)"/>
<path d="M626 289.2 626.4 290.1 617 286.4z" fill="url(#g395)" stroke="url(#g395)"/>
<path d="M626 289.2 635.4 293.1 626.4 290.1z" fill="url(#g396)" stroke="url(#g396)"/>
<path d="M561.4 277.3 570.8 270.8 561.9 265.6z" fill="url(#g397)" stroke="url(#g397)"/>
<path d="M579.8 278.8 580.2 267.4 570.8 270.8z" fill="url(#g398)" stroke="url(#g398)"/>
<path d="M552 283.7 552.5 269.3 543.1 274.4z" fill="url(#g399)" stroke="url(#g399)"/>
<path d="M579.8 278.8 589.2 270.5 580.2 267.4z" fill="url(#g39a)" stroke="url(#g39a)"/>
<path d="M552 283.7 561.4 277.3 552.5 269.3z" fill="url(#g39b)" stroke="url(#g39b)"/>
<path d="M598.2 281.7 598.6 275.4 589.2 270.5z" fill="url(#g39c)" stroke="url(#g39c)"/>
<path d="M598.2 281.7 607.6 278.6 598.6 275.4z" fill="url(#g39d)" stroke="url(#g39d)"/>
<path d="M570.4 289.3 570.8 270.8 561.4 277.3z" fill="url(#g39e)" stroke="url(#g39e)"/>
<path d="M616.6 283.5 617 286.4 607.6 278.6z" fill="url(#g39f)" stroke="url(#g39f)"/>
<path d="M616.6 283.5 626 289.2 617 286.4z" fill="url(#g3a0)" stroke="url(#g3a0)"/>
<path d="M570.4 289.3 579.8 278.8 570.8 270.8z" fill="url(#g3a1)" stroke="url(#g3a1)"/>
<path d="M588.8 293.5 589.2 270.5 579.8 278.8z" fill="url(#g3a2)" stroke="url(#g3a2)"/>
<path d="M561 297.1 561.4 277.3 552 283.7z" fill="url(#g3a3)" stroke="url(#g3a3)"/>
<path d="M588.8 293.5 598.2 281.7 589.2 270.5z" fill="url(#g3a4)" stroke="url(#g3a4)"/>
<path d="M561 297.1 570.4 289.3 561.4 277.3z" fill="url(#g3a5)" stroke="url(#g3a5)"/>
<path d="M607.2 292 607.6 278.6 598.2 281.7z" fill="url(#g3a6)" stroke="url(#g3a6)"/>
<path d="M579.4 304 579.8 278.8 570.4 289.3z" fill="url(#g3a7)" stroke="url(#g3a7)"/>
<path d="M607.2 292 616.6 283.5 607.6 278.6z" fill="url(#g3a8)" stroke="url(#g3a8)"/>
<path d="M579.4 304 588.8 293.5 579.8 278.8z" fill="url(#g3a9)" stroke="url(#g3a9)"/>
<path d="M597.8 302.3 598.2 281.7 588.8 293.5z" fill="url(#g3aa)" stroke="url(#g3aa)"/>
<path d="M570 308.5 570.4 289.3 561 297.1z" fill="url(#g3ab)" stroke="url(#g3ab)"/>
<path d="M570 308.5 579.4 304 570.4 289.3z" fill="url(#g3ac)" stroke="url(#g3ac)"/>
<path d="M597.8 302.3 607.2 292 598.2 281.7z" fill="url(#g3ad)" stroke="url(#g3ad)"/>
<path d="M588.4 311.5 588.8 293.5 579.4 304z" fill="url(#g3ae)" stroke="url(#g3ae)"/>
<path d="M588.4 311.5 597.8 302.3 588.8 293.5z" fill="url(#g3af)" stroke="url(#g3af)"/>
<path d="M579 314 579.4 304 570 308.5z" fill="url(#g3b0)" stroke="url(#g3b0)"/>
<path d="M579 314 588.4 311.5 579.4 304z" fill="url(#g3b1)" stroke="url(#g3b1)"/>
<line x1="507.10" y1="300.70" x2="507.10" y2="233.00" stroke="#3a3a3a" stroke-width="0.7" />
<line x1="507.10" y1="300.70" x2="579.00" y2="332.00" stroke="#3a3a3a" stroke-width="0.7" />
<line x1="579.00" y1="332.00" x2="673.00" y2="308.20" stroke="#3a3a3a" stroke-width="0.7" />
<line x1="507.10" y1="300.70" x2="504.90" y2="299.74" stroke="#3a3a3a" stroke-width="0.7" />
<line x1="507.10" y1="287.16" x2="504.90" y2="286.20" stroke="#3a3a3a" stroke-width="0.7" />
<line x1="507.10" y1="273.62" x2="504.90" y2="272.66" stroke="#3a3a3a" stroke-width="0.7" />
<line x1="507.10" y1="260.08" x2="504.90" y2="259.12" stroke="#3a3a3a" stroke-width="0.7" />
<line x1="507.10" y1="246.54" x2="504.90" y2="245.58" stroke="#3a3a3a" stroke-width="0.7" />
<line x1="507.10" y1="233.00" x2="504.90" y2="232.04" stroke="#3a3a3a" stroke-width="0.7" />
<line x1="579.00" y1="332.00" x2="576.67" y2="332.59" stroke="#3a3a3a" stroke-width="0.7" />
<line x1="561.03" y1="324.18" x2="558.70" y2="324.76" stroke="#3a3a3a" stroke-width="0.7" />
<line x1="543.05" y1="316.35" x2="540.72" y2="316.94" stroke="#3a3a3a" stroke-width="0.7" />
<line x1="525.08" y1="308.52" x2="522.75" y2="309.11" stroke="#3a3a3a" stroke-width="0.7" />
<line x1="507.10" y1="300.70" x2="504.77" y2="301.29" stroke="#3a3a3a" stroke-width="0.7" />
<line x1="579.00" y1="332.00" x2="581.20" y2="332.96" stroke="#3a3a3a" stroke-width="0.7" />
<line x1="602.50" y1="326.05" x2="604.70" y2="327.01" stroke="#3a3a3a" stroke-width="0.7" />
<line x1="626.00" y1="320.10" x2="628.20" y2="321.06" stroke="#3a3a3a" stroke-width="0.7" />
<line x1="649.50" y1="314.15" x2="651.70" y2="315.11" stroke="#3a3a3a" stroke-width="0.7" />
<line x1="673.00" y1="308.20" x2="675.20" y2="309.16" stroke="#3a3a3a" stroke-width="0.7" />
<circle cx="589.23" cy="270.46" r="3.1" fill="#ff0000" clip-path="url(#k5)"/>
<text transform="translate(501.50,299.60)" text-anchor="end" dominant-baseline="central" class="tk">0.5</text>
<text transform="translate(501.50,286.06)" text-anchor="end" dominant-baseline="central" class="tk">0.6</text>
<text transform="translate(501.50,272.52)" text-anchor="end" dominant-baseline="central" class="tk">0.7</text>
<text transform="translate(501.50,258.98)" text-anchor="end" dominant-baseline="central" class="tk">0.8</text>
<text transform="translate(501.50,245.44)" text-anchor="end" dominant-baseline="central" class="tk">0.9</text>
<text transform="translate(501.50,231.90)" text-anchor="end" dominant-baseline="central" class="tk">1</text>
<text transform="translate(568.50,342.20)" text-anchor="middle" dominant-baseline="central" class="tk">0</text>
<text transform="translate(550.53,334.38)" text-anchor="middle" dominant-baseline="central" class="tk">1</text>
<text transform="translate(532.55,326.55)" text-anchor="middle" dominant-baseline="central" class="tk">2</text>
<text transform="translate(514.58,318.72)" text-anchor="middle" dominant-baseline="central" class="tk">3</text>
<text transform="translate(496.60,310.90)" text-anchor="middle" dominant-baseline="central" class="tk">4</text>
<text transform="translate(584.40,334.80) rotate(70)" dominant-baseline="central" class="tk">-1</text>
<text transform="translate(607.90,328.85) rotate(70)" dominant-baseline="central" class="tk">-0.5</text>
<text transform="translate(631.40,322.90) rotate(70)" dominant-baseline="central" class="tk">0</text>
<text transform="translate(654.90,316.95) rotate(70)" dominant-baseline="central" class="tk">0.5</text>
<text transform="translate(678.40,311.00) rotate(70)" dominant-baseline="central" class="tk">1</text>
<text transform="translate(470.70,267.00) rotate(-90) scale(1.29,1)" text-anchor="middle" dominant-baseline="central" class="lab">DI</text>
<text transform="translate(527.30,350.50) scale(1.15,1)" text-anchor="middle" dominant-baseline="central" class="lab">SF</text>
<text transform="translate(651.50,361.30) scale(1.29,1)" text-anchor="middle" dominant-baseline="central" class="lab">CB</text>
<text transform="translate(579.83,245.86) scale(1.090,1)" class="an ai">DI</text>
<text transform="translate(594.83,247.66) scale(1.100,1)" class="an as">max</text>
<path d="M616.53 241.26h7.6M616.53 244.16h7.6" stroke="#000" stroke-width="0.85" fill="none"/>
<text transform="translate(629.03,245.86) scale(0.950,1)" class="an">0.844</text>
<text x="579.33" y="260.86" class="an">at</text>
<text x="594.53" y="260.86" class="an">(</text>
<text transform="translate(598.16,260.86) scale(1.270,1)" class="an">−</text>
<text x="608.43" y="260.86" class="an">0.4,</text>
<text x="631.83" y="260.86" class="an">1.0)</text>
<text x="578.80" y="384.60" text-anchor="middle" class="cap"><tspan class="capb">(f)</tspan> GAC, 50 iterations</text></svg></body></html>
